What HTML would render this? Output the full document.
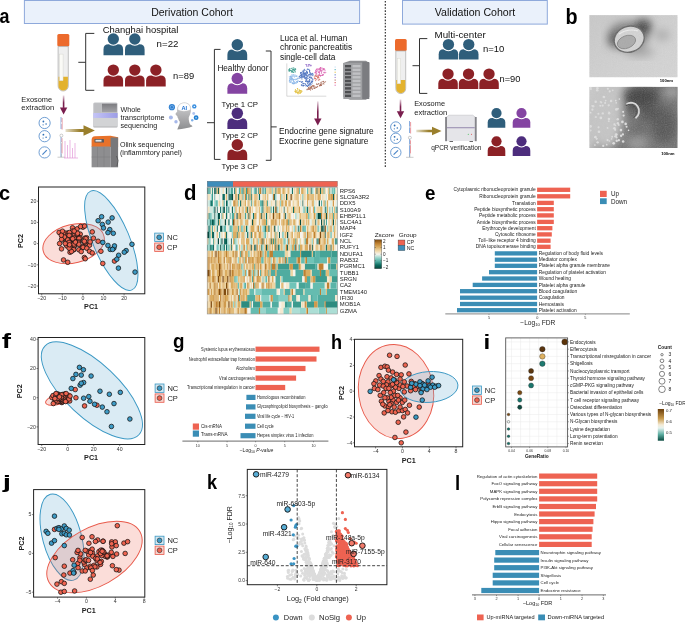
<!DOCTYPE html><html><head><meta charset="utf-8"><style>html,body{margin:0;padding:0;background:#fff;}svg{display:block;will-change:transform;}</style></head><body><svg width="685" height="623" viewBox="0 0 685 623" font-family='"Liberation Sans", sans-serif'>
<rect width="685" height="623" fill="#fff"/>
<text transform="translate(-0.54 23.2) scale(0.887 1)" font-size="20.2" font-weight="bold" fill="#000">a</text>
<rect x="24.4" y="0.5" width="335.2" height="23" fill="#EAF1FB" stroke="#8EA9DB" stroke-width="1"/>
<text x="192" y="15.7" font-size="10.5" text-anchor="middle" fill="#111">Derivation Cohort</text>
<rect x="402.5" y="0.5" width="144.8" height="23.6" fill="#EAF1FB" stroke="#8EA9DB" stroke-width="1"/>
<text x="475" y="16" font-size="10.6" text-anchor="middle" fill="#111">Validation Cohort</text>
<path d="M385.3 1 V168" stroke="#222" stroke-width="1.1" stroke-dasharray="1.6 1.5"/>
<rect x="57.3" y="34" width="12" height="12.54" rx="1.5" fill="#EC6A2C"/>
<path d="M58.1 46.54 V85.9 A5.1 5.1 0 0 0 68.3 85.9 V46.54 Z" fill="#EFEFEF" stroke="#A8A8A8" stroke-width="0.7"/>
<path d="M58.5 76.77 V85.9 A4.7 4.7 0 0 0 67.9 85.9 V76.77 Z" fill="#E3B22E"/>
<rect x="59.5" y="54.1" width="3.57" height="26.68" fill="#FAFAF6" stroke="#d0d0c8" stroke-width="0.4"/>
<path d="M94.3 33.4 H85.7 V90.3 H94.3 M85.7 62.3 H78.3" fill="none" stroke="#333" stroke-width="1"/>
<text x="102.8" y="33.4" font-size="9.45" fill="#111">Changhai hospital</text>
<path d="M103.5 55.3 V49.4 Q103.5 44.3 108.6 44.3 H118 Q123.1 44.3 123.1 49.4 V55.3 Z" fill="#2F5E7B"/>
<circle cx="113.3" cy="38.98" r="6.78" fill="#fff"/>
<circle cx="113.3" cy="38.98" r="5.68" fill="#2F5E7B"/>
<path d="M125 55.3 V49.4 Q125 44.3 130.1 44.3 H139.5 Q144.6 44.3 144.6 49.4 V55.3 Z" fill="#2F5E7B"/>
<circle cx="134.8" cy="38.98" r="6.78" fill="#fff"/>
<circle cx="134.8" cy="38.98" r="5.68" fill="#2F5E7B"/>
<text x="156.6" y="46.8" font-size="9.7" fill="#111">n=22</text>
<path d="M103.5 86.4 V80.5 Q103.5 75.4 108.6 75.4 H118 Q123.1 75.4 123.1 80.5 V86.4 Z" fill="#8C2126"/>
<circle cx="113.3" cy="70.08" r="6.78" fill="#fff"/>
<circle cx="113.3" cy="70.08" r="5.68" fill="#8C2126"/>
<path d="M125 86.4 V80.5 Q125 75.4 130.1 75.4 H139.5 Q144.6 75.4 144.6 80.5 V86.4 Z" fill="#8C2126"/>
<circle cx="134.8" cy="70.08" r="6.78" fill="#fff"/>
<circle cx="134.8" cy="70.08" r="5.68" fill="#8C2126"/>
<path d="M146.1 86.4 V80.5 Q146.1 75.4 151.2 75.4 H160.6 Q165.7 75.4 165.7 80.5 V86.4 Z" fill="#8C2126"/>
<circle cx="155.9" cy="70.08" r="6.78" fill="#fff"/>
<circle cx="155.9" cy="70.08" r="5.68" fill="#8C2126"/>
<text x="173" y="79.4" font-size="9.4" fill="#111">n=89</text>
<defs><linearGradient id="vg731" x1="0" y1="0" x2="0" y2="1"><stop offset="0" stop-color="#7A1E4E" stop-opacity="0.15"/><stop offset="0.6" stop-color="#7A1E4E"/></linearGradient></defs>
<rect x="62.8" y="95.4" width="1.6" height="12.5" fill="url(#vg731)"/>
<path d="M59.9 107.4 L67.3 107.4 L63.6 114.4 Z" fill="#7A1E4E"/>
<text x="21.3" y="102.3" font-size="7.4" fill="#222">Exosome</text>
<text x="21.3" y="110.4" font-size="7.6" fill="#222">extraction</text>
<circle cx="44.6" cy="123" r="5.6" fill="#fff" stroke="#4C86C8" stroke-width="0.8"/>
<circle cx="43.4" cy="121.5" r="0.9" fill="#2F6FB5"/><circle cx="46.1" cy="124" r="0.8" fill="#2F6FB5"/><circle cx="43.1" cy="124.8" r="0.6" fill="#2F6FB5"/>
<circle cx="44.6" cy="136.2" r="5.6" fill="#fff" stroke="#4C86C8" stroke-width="0.8"/>
<circle cx="43.4" cy="134.7" r="0.9" fill="#2F6FB5"/><circle cx="46.1" cy="137.2" r="0.8" fill="#2F6FB5"/><circle cx="43.1" cy="138" r="0.6" fill="#2F6FB5"/>
<circle cx="44.6" cy="152.4" r="5.6" fill="#fff" stroke="#4C86C8" stroke-width="0.8"/>
<path d="M42.4 154.6 L46.8 150.2" stroke="#4C86C8" stroke-width="1.2"/>
<path d="M61 117 V129" stroke="#6D9BD8" stroke-width="0.8"/><path d="M62.1 118 V129.5" stroke="#E07078" stroke-width="0.7"/><circle cx="61.5" cy="123" r="0.7" fill="#fff"/>
<path d="M61 136.8 V157" stroke="#6D9BD8" stroke-width="0.8"/><path d="M62 138.2 V153.4" stroke="#E07078" stroke-width="0.7"/><circle cx="61.4" cy="135.6" r="1.5" fill="#fff" stroke="#999" stroke-width="0.5"/><circle cx="61.5" cy="142.7" r="0.8" fill="#fff" stroke="#aaa" stroke-width="0.3"/><path d="M57.5 157.2 H65 M61.4 153.9 V157.2" stroke="#aaa" stroke-width="0.6"/>
<path d="M65 141 V158 M67.5 145 V158 M70 140 V158 M72.5 148 V158 M75 143 V158 M64 158 H78" stroke="#E39AD8" stroke-width="0.7" fill="none"/>
<defs><linearGradient id="hg785" x1="0" y1="0" x2="1" y2="0"><stop offset="0" stop-color="#9A7F2C" stop-opacity="0.25"/><stop offset="0.5" stop-color="#9A7F2C"/></linearGradient></defs>
<path d="M65.5 129.1 H83.5 V125.3 L94.9 130.5 L83.5 135.7 V131.9 H65.5 Z" fill="url(#hg785)"/>
<defs><linearGradient id="seqb" x1="0" x2="1" y1="0" y2="0"><stop offset="0" stop-color="#c4c4f6"/><stop offset="1" stop-color="#9d9de6"/></linearGradient><linearGradient id="seqs" x1="0" x2="0" y1="0" y2="1"><stop offset="0" stop-color="#7c7c80"/><stop offset="1" stop-color="#a4a4a8"/></linearGradient></defs>
<rect x="93.2" y="102.5" width="24.4" height="25" rx="1.5" fill="#C6C7CA"/>
<rect x="94.2" y="103.3" width="7" height="9.4" fill="#BDBEC1"/>
<rect x="101.9" y="103.7" width="15" height="8.6" fill="url(#seqs)"/>
<rect x="93.2" y="113" width="24.4" height="4.9" fill="url(#seqb)"/>
<rect x="93.2" y="118" width="24.4" height="9.3" rx="1" fill="#D2D3D5"/>
<path d="M93.6 126.8 H117.2" stroke="#aaa" stroke-width="0.5"/>
<path d="M91.6 147 V140 Q91.6 136.5 95 136.3 L110.5 135.8 L118.1 137.2 V147 Z" fill="#E8722A"/>
<rect x="94.5" y="139" width="9.5" height="3.6" rx="0.5" fill="#5a5a5c"/><rect x="95.5" y="139.8" width="6" height="1.8" fill="#e6e6e6"/>
<rect x="91.6" y="146.5" width="19" height="20.8" fill="#8E8E90"/>
<rect x="110.6" y="137.5" width="7.5" height="29.8" fill="#78787B"/>
<path d="M97.5 147 V167 M104 147 V167 M91.6 157 H110.6" stroke="#7a7a7c" stroke-width="0.5"/>
<path d="M116.5 156 Q119.5 160 117 166" fill="none" stroke="#444" stroke-width="0.6"/>
<text x="120.4" y="111.7" font-size="7.2" fill="#222">Whole</text>
<text x="120.4" y="120" font-size="7.3" fill="#222">transcriptome</text>
<text x="120.4" y="127.8" font-size="7.2" fill="#222">sequencing</text>
<text x="119.9" y="147.2" font-size="7.1" fill="#222">Olink sequencing</text>
<text x="119.9" y="154.8" font-size="7.25" fill="#222">(inflammtory panel)</text>
<defs><linearGradient id="headg" x1="0" y1="0" x2="0" y2="1"><stop offset="0" stop-color="#d2d2d4"/><stop offset="1" stop-color="#8d8e90"/></linearGradient></defs>
<path d="M177.3 129.5 C178.5 126 180 124 179.8 121.8 C179 120.5 178.4 119.6 178.2 118.4 C177.6 117.6 177.2 117 177.4 116.3 C176.8 115.6 175.6 114.6 175.4 113.9 C175.9 113 176.9 112.4 177.2 111.6 C176.8 108.5 177.8 104.8 180.6 103.4 C184.6 101.8 189 102.6 190.6 106.5 C191.6 109.6 190.8 113.8 188.8 117.2 C188.4 119.8 189.4 123 190.2 124.5 C191.4 125.4 192.6 125.8 192.4 126.6 C189 128 183 129.2 177.3 129.5 Z" fill="url(#headg)"/>
<path d="M177.7 109.6 C177.6 105.2 180.6 102.9 184.3 102.9 C188.3 102.9 190.7 105.4 190.6 109.6 C187 111.8 181 111.8 177.7 109.6 Z" fill="#fff" stroke="#c4c4c4" stroke-width="0.4"/>
<text x="184.3" y="109.6" font-size="5.6" font-weight="bold" text-anchor="middle" fill="#1E6FD0">AI</text>
<circle cx="171.9" cy="107.2" r="3.1" fill="#2E7FD0"/>
<circle cx="194.3" cy="106.4" r="2.2" fill="#3A8FE0"/>
<circle cx="170.9" cy="117.5" r="2.0" fill="#A6B8EA"/>
<circle cx="176.0" cy="121.8" r="1.7" fill="#A6B8EA"/>
<circle cx="196.1" cy="117.7" r="2.4" fill="#1F7FD0"/>
<circle cx="193.7" cy="113.5" r="1.4" fill="#B0C4EE"/>
<circle cx="192.2" cy="120.3" r="1.2" fill="#7FB0E8"/>
<circle cx="171.9" cy="107.2" r="1.7" fill="none" stroke="#9CC4F0" stroke-width="0.6"/><circle cx="194.3" cy="106.4" r="0.7" fill="#fff"/><circle cx="196.1" cy="117.7" r="0.9" fill="#9CC4F0"/>
<path d="M220.5 49.4 H214.4 V159.4 H220.5 M214.4 122.7 H207" fill="none" stroke="#333" stroke-width="1"/>
<path d="M227.4 60 V54.65 Q227.4 49.5 232.55 49.5 H242.05 Q247.2 49.5 247.2 54.65 V60 Z" fill="#2F5E7B"/>
<circle cx="237.3" cy="44.74" r="6.84" fill="#fff"/>
<circle cx="237.3" cy="44.74" r="5.74" fill="#2F5E7B"/>
<text x="217.4" y="70.8" font-size="8.2" fill="#111">Healthy donor</text>
<path d="M227.4 93.7 V88.35 Q227.4 83.2 232.55 83.2 H242.05 Q247.2 83.2 247.2 88.35 V93.7 Z" fill="#8444A2"/>
<circle cx="237.3" cy="78.44" r="6.84" fill="#fff"/>
<circle cx="237.3" cy="78.44" r="5.74" fill="#8444A2"/>
<text x="221.6" y="107.3" font-size="7.8" fill="#111">Type 1 CP</text>
<path d="M227.4 129.1 V123.5 Q227.4 118.35 232.55 118.35 H242.05 Q247.2 118.35 247.2 123.5 V129.1 Z" fill="#4D2D7D"/>
<circle cx="237.3" cy="113.34" r="6.84" fill="#fff"/>
<circle cx="237.3" cy="113.34" r="5.74" fill="#4D2D7D"/>
<text x="221.6" y="138.3" font-size="7.8" fill="#111">Type 2 CP</text>
<path d="M227.4 160 V154.65 Q227.4 149.5 232.55 149.5 H242.05 Q247.2 149.5 247.2 154.65 V160 Z" fill="#8C2126"/>
<circle cx="237.3" cy="144.74" r="6.84" fill="#fff"/>
<circle cx="237.3" cy="144.74" r="5.74" fill="#8C2126"/>
<text x="221.6" y="168.6" font-size="7.8" fill="#111">Type 3 CP</text>
<path d="M265.8 51 H271 V160.3 H265.8 M271 126.9 H276.7" fill="none" stroke="#333" stroke-width="1"/>
<text x="280" y="40.8" font-size="8.3" fill="#111">Luca et al. Human</text>
<text x="280" y="50.3" font-size="8.4" fill="#111">chronic pancreatitis</text>
<text x="280" y="59.9" font-size="8.3" fill="#111">single-cell data</text>
<path d="M286.8 63.4 V96.2 H326.3" fill="none" stroke="#aaa" stroke-width="0.45"/>
<g fill="#3E9E8E"><circle cx="291.33" cy="68.35" r="0.55"/><circle cx="293.88" cy="67.96" r="0.55"/><circle cx="292.98" cy="69.43" r="0.55"/><circle cx="289.25" cy="70.14" r="0.55"/><circle cx="289.09" cy="69.77" r="0.55"/><circle cx="292.11" cy="71.73" r="0.55"/><circle cx="289.77" cy="68.72" r="0.55"/><circle cx="293.69" cy="72.34" r="0.55"/><circle cx="293.3" cy="69.58" r="0.55"/><circle cx="295.5" cy="69.05" r="0.55"/><circle cx="291.21" cy="71.68" r="0.55"/><circle cx="290.21" cy="70.51" r="0.55"/><circle cx="293.78" cy="69.46" r="0.55"/><circle cx="293.07" cy="67.91" r="0.55"/><circle cx="294.11" cy="69.74" r="0.55"/><circle cx="291.25" cy="70.53" r="0.55"/><circle cx="292.33" cy="69.1" r="0.55"/><circle cx="295" cy="71.09" r="0.55"/><circle cx="290.7" cy="70.47" r="0.55"/><circle cx="292.9" cy="71.98" r="0.55"/><circle cx="294.49" cy="69.04" r="0.55"/><circle cx="292.06" cy="71.39" r="0.55"/><circle cx="289.99" cy="70.04" r="0.55"/><circle cx="289.11" cy="70.94" r="0.55"/><circle cx="294.76" cy="70.47" r="0.55"/><circle cx="295.63" cy="69.17" r="0.55"/><circle cx="294.22" cy="70.57" r="0.55"/><circle cx="293.32" cy="69.88" r="0.55"/><circle cx="292.5" cy="70.92" r="0.55"/><circle cx="289.27" cy="71.11" r="0.55"/><circle cx="295.21" cy="69.02" r="0.55"/><circle cx="291.81" cy="70.94" r="0.55"/><circle cx="288.98" cy="69.91" r="0.55"/><circle cx="289.81" cy="68.84" r="0.55"/><circle cx="291.85" cy="71.96" r="0.55"/><circle cx="289.43" cy="69.85" r="0.55"/><circle cx="293.09" cy="72.02" r="0.55"/><circle cx="295.19" cy="71.92" r="0.55"/></g>
<g fill="#8DB8E8"><circle cx="291.33" cy="78.49" r="0.55"/><circle cx="292.12" cy="82.99" r="0.55"/><circle cx="290.33" cy="76.73" r="0.55"/><circle cx="290.89" cy="79.16" r="0.55"/><circle cx="294.37" cy="77.02" r="0.55"/><circle cx="292.22" cy="79.94" r="0.55"/><circle cx="297.94" cy="81.13" r="0.55"/><circle cx="293.65" cy="80.43" r="0.55"/><circle cx="295.23" cy="75.02" r="0.55"/><circle cx="297.42" cy="81.99" r="0.55"/><circle cx="297.17" cy="82.16" r="0.55"/><circle cx="292.45" cy="78.33" r="0.55"/><circle cx="289.61" cy="80.59" r="0.55"/><circle cx="290.65" cy="76.06" r="0.55"/><circle cx="291.93" cy="75" r="0.55"/><circle cx="289.59" cy="77.99" r="0.55"/><circle cx="294.62" cy="75.93" r="0.55"/><circle cx="291.07" cy="77.83" r="0.55"/><circle cx="292.17" cy="75.68" r="0.55"/><circle cx="293.17" cy="79.14" r="0.55"/><circle cx="291.96" cy="77.04" r="0.55"/><circle cx="296.72" cy="76.05" r="0.55"/><circle cx="293.78" cy="75.91" r="0.55"/><circle cx="293.92" cy="74.76" r="0.55"/><circle cx="293.78" cy="83.89" r="0.55"/><circle cx="297.06" cy="81.18" r="0.55"/><circle cx="291.16" cy="78.02" r="0.55"/><circle cx="290.24" cy="81.91" r="0.55"/><circle cx="293.82" cy="81.98" r="0.55"/><circle cx="291.83" cy="76.64" r="0.55"/><circle cx="296.96" cy="82.24" r="0.55"/><circle cx="296.62" cy="81.6" r="0.55"/><circle cx="290.82" cy="79.47" r="0.55"/><circle cx="292.08" cy="74.78" r="0.55"/><circle cx="291.14" cy="81.15" r="0.55"/><circle cx="297.97" cy="78.79" r="0.55"/><circle cx="297.96" cy="78" r="0.55"/><circle cx="290.76" cy="76.68" r="0.55"/><circle cx="290.53" cy="76.46" r="0.55"/><circle cx="294.72" cy="83.14" r="0.55"/><circle cx="296.84" cy="79.1" r="0.55"/><circle cx="295" cy="82.18" r="0.55"/><circle cx="289.43" cy="80.84" r="0.55"/><circle cx="297.52" cy="82.01" r="0.55"/><circle cx="295.95" cy="79.09" r="0.55"/><circle cx="290.35" cy="82.08" r="0.55"/><circle cx="291.86" cy="82.19" r="0.55"/><circle cx="298.12" cy="78.3" r="0.55"/><circle cx="292.53" cy="83.59" r="0.55"/><circle cx="295.7" cy="76.13" r="0.55"/><circle cx="290.03" cy="82.43" r="0.55"/><circle cx="292.03" cy="79.77" r="0.55"/><circle cx="298.11" cy="80.74" r="0.55"/><circle cx="293.76" cy="83.46" r="0.55"/><circle cx="292.85" cy="82.87" r="0.55"/><circle cx="296.7" cy="76.53" r="0.55"/><circle cx="291.07" cy="77.31" r="0.55"/><circle cx="290.96" cy="80.13" r="0.55"/><circle cx="291.14" cy="78.52" r="0.55"/><circle cx="292.07" cy="78.9" r="0.55"/><circle cx="294.32" cy="83.18" r="0.55"/><circle cx="292.72" cy="83.31" r="0.55"/><circle cx="293.52" cy="79.61" r="0.55"/><circle cx="293.73" cy="74.68" r="0.55"/><circle cx="292.91" cy="76.26" r="0.55"/><circle cx="290.29" cy="79.05" r="0.55"/><circle cx="295.71" cy="79.84" r="0.55"/><circle cx="291.79" cy="79.48" r="0.55"/><circle cx="294.04" cy="82.03" r="0.55"/><circle cx="289.64" cy="79.88" r="0.55"/><circle cx="291.04" cy="77.16" r="0.55"/><circle cx="296.17" cy="79.37" r="0.55"/><circle cx="294.1" cy="81.8" r="0.55"/><circle cx="297.54" cy="78.76" r="0.55"/><circle cx="294.6" cy="79.35" r="0.55"/><circle cx="293.62" cy="81.15" r="0.55"/><circle cx="293.03" cy="79.62" r="0.55"/><circle cx="293.28" cy="83.54" r="0.55"/><circle cx="295.45" cy="82.91" r="0.55"/><circle cx="294.08" cy="83.56" r="0.55"/><circle cx="296.83" cy="75.82" r="0.55"/><circle cx="289.79" cy="78.74" r="0.55"/><circle cx="289.31" cy="76.81" r="0.55"/><circle cx="289.32" cy="80.93" r="0.55"/><circle cx="296.28" cy="83.11" r="0.55"/></g>
<g fill="#4F74C0"><circle cx="300.75" cy="81.24" r="0.55"/><circle cx="309.53" cy="71.82" r="0.55"/><circle cx="304.86" cy="77.56" r="0.55"/><circle cx="301.58" cy="76.06" r="0.55"/><circle cx="306.94" cy="75.1" r="0.55"/><circle cx="302.37" cy="74.08" r="0.55"/><circle cx="307.23" cy="77.02" r="0.55"/><circle cx="308.06" cy="78.48" r="0.55"/><circle cx="301.19" cy="72.93" r="0.55"/><circle cx="303.93" cy="70.78" r="0.55"/><circle cx="304.12" cy="85.34" r="0.55"/><circle cx="311.53" cy="74.25" r="0.55"/><circle cx="306.81" cy="81.8" r="0.55"/><circle cx="309.21" cy="77.02" r="0.55"/><circle cx="307.47" cy="83.77" r="0.55"/><circle cx="306.04" cy="74.98" r="0.55"/><circle cx="305.97" cy="85.88" r="0.55"/><circle cx="303.89" cy="70.77" r="0.55"/><circle cx="307.36" cy="73.29" r="0.55"/><circle cx="304.08" cy="74.06" r="0.55"/><circle cx="310.59" cy="74.7" r="0.55"/><circle cx="307.13" cy="72.13" r="0.55"/><circle cx="309.54" cy="79.4" r="0.55"/><circle cx="301.87" cy="76.91" r="0.55"/><circle cx="311.08" cy="77.41" r="0.55"/><circle cx="305.37" cy="84.09" r="0.55"/><circle cx="304.74" cy="77.9" r="0.55"/><circle cx="303.17" cy="83.73" r="0.55"/><circle cx="308.94" cy="80.9" r="0.55"/><circle cx="305.31" cy="75.03" r="0.55"/><circle cx="299.48" cy="81.52" r="0.55"/><circle cx="303.63" cy="71.37" r="0.55"/><circle cx="311.22" cy="81.86" r="0.55"/><circle cx="303.81" cy="72.86" r="0.55"/><circle cx="303.41" cy="76.84" r="0.55"/><circle cx="301.49" cy="76.32" r="0.55"/><circle cx="313.01" cy="79.82" r="0.55"/><circle cx="303.91" cy="75" r="0.55"/><circle cx="305.93" cy="78" r="0.55"/><circle cx="301.96" cy="77.48" r="0.55"/><circle cx="300.63" cy="75.34" r="0.55"/><circle cx="304.15" cy="72.73" r="0.55"/><circle cx="307.46" cy="78.71" r="0.55"/><circle cx="309.52" cy="81.38" r="0.55"/><circle cx="308.45" cy="85.35" r="0.55"/><circle cx="305.15" cy="74.61" r="0.55"/><circle cx="309.17" cy="81.07" r="0.55"/><circle cx="311.64" cy="81.12" r="0.55"/><circle cx="308.88" cy="84.16" r="0.55"/><circle cx="301.02" cy="77.7" r="0.55"/><circle cx="305.51" cy="84.11" r="0.55"/><circle cx="309.87" cy="84.57" r="0.55"/><circle cx="306.51" cy="85.33" r="0.55"/><circle cx="308.45" cy="81.89" r="0.55"/><circle cx="301.35" cy="74.72" r="0.55"/><circle cx="306.82" cy="80.45" r="0.55"/><circle cx="307.66" cy="81.55" r="0.55"/><circle cx="307.42" cy="68.93" r="0.55"/><circle cx="309.97" cy="83.13" r="0.55"/><circle cx="306.25" cy="78.65" r="0.55"/><circle cx="309.71" cy="70.42" r="0.55"/><circle cx="310.36" cy="73.97" r="0.55"/><circle cx="300.75" cy="72.86" r="0.55"/><circle cx="310.37" cy="73.09" r="0.55"/><circle cx="306.51" cy="75.85" r="0.55"/><circle cx="305.53" cy="81.3" r="0.55"/><circle cx="309.86" cy="80.67" r="0.55"/><circle cx="309.45" cy="70.59" r="0.55"/><circle cx="301.83" cy="72.8" r="0.55"/><circle cx="310.32" cy="74.93" r="0.55"/><circle cx="308.53" cy="69.25" r="0.55"/><circle cx="300.54" cy="72.89" r="0.55"/><circle cx="308.29" cy="81.85" r="0.55"/><circle cx="309.38" cy="74.55" r="0.55"/><circle cx="306.63" cy="77.39" r="0.55"/><circle cx="306.79" cy="70.98" r="0.55"/><circle cx="312.76" cy="73.32" r="0.55"/><circle cx="299.43" cy="76.27" r="0.55"/><circle cx="306.16" cy="73.68" r="0.55"/><circle cx="301.91" cy="78.9" r="0.55"/><circle cx="301.06" cy="77.71" r="0.55"/><circle cx="310.91" cy="78.81" r="0.55"/><circle cx="311.37" cy="82.49" r="0.55"/><circle cx="301.4" cy="84.7" r="0.55"/><circle cx="307.32" cy="69.31" r="0.55"/><circle cx="299.14" cy="76.84" r="0.55"/><circle cx="306.1" cy="74.29" r="0.55"/><circle cx="301.5" cy="74.43" r="0.55"/><circle cx="302.77" cy="83.83" r="0.55"/><circle cx="311.92" cy="82.75" r="0.55"/><circle cx="312.64" cy="74.99" r="0.55"/><circle cx="304.73" cy="75.79" r="0.55"/><circle cx="304.47" cy="76.41" r="0.55"/><circle cx="302.09" cy="85.5" r="0.55"/><circle cx="303.28" cy="73.22" r="0.55"/><circle cx="307.25" cy="72.37" r="0.55"/><circle cx="303.3" cy="86.05" r="0.55"/><circle cx="311.06" cy="84.47" r="0.55"/><circle cx="307.13" cy="85.8" r="0.55"/><circle cx="312.55" cy="79.79" r="0.55"/><circle cx="309.79" cy="77.58" r="0.55"/><circle cx="309.58" cy="81.15" r="0.55"/><circle cx="304.36" cy="69.35" r="0.55"/><circle cx="306.3" cy="75.09" r="0.55"/><circle cx="302.76" cy="81.94" r="0.55"/><circle cx="309.07" cy="74.69" r="0.55"/><circle cx="307.4" cy="76.19" r="0.55"/><circle cx="302.36" cy="71.16" r="0.55"/><circle cx="306.97" cy="72.89" r="0.55"/><circle cx="306.5" cy="71.33" r="0.55"/><circle cx="305.06" cy="70.23" r="0.55"/><circle cx="303.15" cy="73.07" r="0.55"/><circle cx="306.31" cy="85.2" r="0.55"/><circle cx="310.13" cy="76.92" r="0.55"/><circle cx="304.99" cy="78.27" r="0.55"/><circle cx="304.93" cy="74.8" r="0.55"/><circle cx="300.54" cy="73.06" r="0.55"/><circle cx="306.02" cy="80.37" r="0.55"/><circle cx="312.27" cy="73.56" r="0.55"/><circle cx="303.63" cy="72.95" r="0.55"/><circle cx="304.99" cy="76.81" r="0.55"/><circle cx="312.09" cy="78.32" r="0.55"/><circle cx="303.64" cy="85.56" r="0.55"/><circle cx="310.1" cy="85.14" r="0.55"/><circle cx="306.16" cy="81.36" r="0.55"/><circle cx="312.12" cy="82.94" r="0.55"/><circle cx="307.75" cy="83.12" r="0.55"/><circle cx="305.55" cy="78.85" r="0.55"/><circle cx="301.36" cy="85.11" r="0.55"/><circle cx="308.91" cy="74.72" r="0.55"/><circle cx="301.56" cy="72.72" r="0.55"/><circle cx="307.76" cy="81.9" r="0.55"/><circle cx="306.44" cy="79.56" r="0.55"/><circle cx="305.39" cy="72.74" r="0.55"/><circle cx="309.01" cy="69.29" r="0.55"/><circle cx="303.53" cy="76.88" r="0.55"/><circle cx="312.57" cy="81.57" r="0.55"/><circle cx="311.91" cy="78.33" r="0.55"/><circle cx="303.11" cy="72.85" r="0.55"/><circle cx="305.83" cy="81.18" r="0.55"/><circle cx="305.77" cy="73.41" r="0.55"/><circle cx="307.63" cy="86.09" r="0.55"/><circle cx="304.16" cy="76.22" r="0.55"/><circle cx="309.71" cy="72.87" r="0.55"/><circle cx="309.98" cy="82.96" r="0.55"/><circle cx="307.13" cy="72.64" r="0.55"/><circle cx="311.62" cy="73.75" r="0.55"/><circle cx="301.61" cy="82.18" r="0.55"/><circle cx="302.18" cy="85.82" r="0.55"/><circle cx="307.04" cy="72.29" r="0.55"/><circle cx="302.51" cy="75.93" r="0.55"/><circle cx="307.54" cy="86.51" r="0.55"/><circle cx="301.46" cy="75.34" r="0.55"/><circle cx="300.21" cy="75.16" r="0.55"/><circle cx="312.98" cy="75.77" r="0.55"/><circle cx="308.99" cy="76.12" r="0.55"/><circle cx="304.91" cy="74.68" r="0.55"/><circle cx="303.5" cy="74.85" r="0.55"/><circle cx="303.4" cy="83.57" r="0.55"/><circle cx="311.13" cy="77.42" r="0.55"/><circle cx="299.85" cy="76.6" r="0.55"/><circle cx="303.39" cy="85.39" r="0.55"/><circle cx="302.21" cy="74.9" r="0.55"/><circle cx="304.21" cy="83.5" r="0.55"/><circle cx="313" cy="74.43" r="0.55"/><circle cx="308.85" cy="85.76" r="0.55"/><circle cx="304.56" cy="73.52" r="0.55"/><circle cx="312.62" cy="81.06" r="0.55"/><circle cx="302.31" cy="81.46" r="0.55"/><circle cx="304.22" cy="73.54" r="0.55"/><circle cx="311.98" cy="81.29" r="0.55"/><circle cx="302.52" cy="77.01" r="0.55"/><circle cx="305.3" cy="73.23" r="0.55"/><circle cx="305.3" cy="77.74" r="0.55"/><circle cx="310.06" cy="82.96" r="0.55"/><circle cx="310.27" cy="83.63" r="0.55"/><circle cx="308.29" cy="75.08" r="0.55"/><circle cx="304.04" cy="75.12" r="0.55"/><circle cx="301.28" cy="81.99" r="0.55"/><circle cx="299.43" cy="78.01" r="0.55"/><circle cx="303.97" cy="69.94" r="0.55"/><circle cx="300.47" cy="77.15" r="0.55"/><circle cx="309.47" cy="77.46" r="0.55"/><circle cx="302.67" cy="75.94" r="0.55"/><circle cx="307.59" cy="81.42" r="0.55"/><circle cx="309" cy="84.83" r="0.55"/><circle cx="309.65" cy="71.43" r="0.55"/><circle cx="311.76" cy="74.94" r="0.55"/><circle cx="307.59" cy="75.82" r="0.55"/><circle cx="310.51" cy="73" r="0.55"/></g>
<g fill="#A07ED0"><circle cx="306.78" cy="64.69" r="0.55"/><circle cx="308.77" cy="64.91" r="0.55"/><circle cx="308.34" cy="64.65" r="0.55"/><circle cx="310.15" cy="65.83" r="0.55"/><circle cx="308.15" cy="66.29" r="0.55"/><circle cx="306.02" cy="64.53" r="0.55"/><circle cx="311.14" cy="65.63" r="0.55"/><circle cx="310.88" cy="65.04" r="0.55"/><circle cx="310.5" cy="65.26" r="0.55"/><circle cx="306.86" cy="66.18" r="0.55"/><circle cx="308.88" cy="65.74" r="0.55"/><circle cx="306.61" cy="65.03" r="0.55"/><circle cx="306.15" cy="64.57" r="0.55"/><circle cx="306.83" cy="65.68" r="0.55"/><circle cx="309.21" cy="64.57" r="0.55"/><circle cx="309.37" cy="64.52" r="0.55"/></g>
<g fill="#DC6AB4"><circle cx="318.33" cy="69.13" r="0.55"/><circle cx="323.65" cy="72.23" r="0.55"/><circle cx="319.25" cy="72.25" r="0.55"/><circle cx="321.93" cy="68.12" r="0.55"/><circle cx="316.7" cy="73.56" r="0.55"/><circle cx="319.41" cy="69.85" r="0.55"/><circle cx="318.28" cy="75.88" r="0.55"/><circle cx="318.34" cy="72.4" r="0.55"/><circle cx="318.83" cy="71.05" r="0.55"/><circle cx="318.9" cy="69.07" r="0.55"/><circle cx="322.91" cy="69.13" r="0.55"/><circle cx="319.56" cy="74.68" r="0.55"/><circle cx="319.37" cy="75.25" r="0.55"/><circle cx="319.97" cy="68.76" r="0.55"/><circle cx="315.06" cy="72.26" r="0.55"/><circle cx="321.95" cy="75.49" r="0.55"/><circle cx="315.88" cy="72.9" r="0.55"/><circle cx="318.98" cy="71.84" r="0.55"/><circle cx="316.5" cy="69.85" r="0.55"/><circle cx="320.63" cy="75.63" r="0.55"/><circle cx="316.1" cy="71.71" r="0.55"/><circle cx="317.07" cy="68.44" r="0.55"/><circle cx="320.21" cy="67.78" r="0.55"/><circle cx="325.09" cy="70.79" r="0.55"/><circle cx="324.85" cy="72.88" r="0.55"/><circle cx="323.97" cy="68.74" r="0.55"/><circle cx="323.54" cy="69.3" r="0.55"/><circle cx="319.35" cy="74.92" r="0.55"/><circle cx="324.02" cy="68.95" r="0.55"/><circle cx="317.3" cy="70.9" r="0.55"/><circle cx="320.6" cy="70.75" r="0.55"/><circle cx="316.25" cy="69.52" r="0.55"/><circle cx="322.87" cy="75.38" r="0.55"/><circle cx="315.35" cy="72.36" r="0.55"/><circle cx="321.49" cy="72.25" r="0.55"/><circle cx="321.8" cy="70.06" r="0.55"/><circle cx="319.52" cy="72.54" r="0.55"/><circle cx="319.58" cy="73.23" r="0.55"/><circle cx="319.81" cy="71.25" r="0.55"/><circle cx="315.16" cy="72.87" r="0.55"/><circle cx="320.28" cy="69.42" r="0.55"/><circle cx="323.3" cy="74.32" r="0.55"/><circle cx="319.94" cy="68.92" r="0.55"/><circle cx="320.11" cy="68.26" r="0.55"/><circle cx="316.31" cy="71.18" r="0.55"/><circle cx="315.91" cy="71.28" r="0.55"/><circle cx="320.51" cy="67.67" r="0.55"/><circle cx="321.9" cy="68.04" r="0.55"/><circle cx="322.97" cy="74.3" r="0.55"/><circle cx="320.53" cy="67.79" r="0.55"/><circle cx="320.44" cy="70.7" r="0.55"/><circle cx="322.95" cy="74.63" r="0.55"/><circle cx="320.31" cy="75.91" r="0.55"/><circle cx="315.62" cy="70.46" r="0.55"/><circle cx="323.22" cy="68.73" r="0.55"/><circle cx="324.76" cy="69.77" r="0.55"/><circle cx="323.87" cy="68.59" r="0.55"/><circle cx="320.42" cy="75.58" r="0.55"/><circle cx="317.19" cy="69.67" r="0.55"/><circle cx="320.47" cy="70.17" r="0.55"/><circle cx="322.38" cy="75.36" r="0.55"/><circle cx="316.76" cy="74.36" r="0.55"/><circle cx="316.17" cy="72.08" r="0.55"/><circle cx="321.9" cy="70.54" r="0.55"/><circle cx="324.5" cy="72.3" r="0.55"/><circle cx="321.28" cy="75.24" r="0.55"/><circle cx="321.83" cy="70.85" r="0.55"/><circle cx="323.67" cy="69.68" r="0.55"/><circle cx="325.8" cy="72.5" r="0.55"/><circle cx="318.86" cy="74.18" r="0.55"/><circle cx="319.77" cy="68.89" r="0.55"/><circle cx="323.92" cy="69.58" r="0.55"/><circle cx="321.34" cy="73.27" r="0.55"/><circle cx="321.68" cy="71.19" r="0.55"/><circle cx="320.54" cy="75.36" r="0.55"/></g>
<g fill="#D8786E"><circle cx="314.99" cy="75.89" r="0.55"/><circle cx="314.84" cy="76.8" r="0.55"/><circle cx="315.55" cy="78.39" r="0.55"/><circle cx="317.73" cy="75.73" r="0.55"/><circle cx="317.94" cy="77.62" r="0.55"/><circle cx="315.66" cy="75.35" r="0.55"/><circle cx="314.77" cy="78.77" r="0.55"/><circle cx="319.43" cy="79.78" r="0.55"/><circle cx="316.61" cy="76.15" r="0.55"/><circle cx="317.57" cy="76.75" r="0.55"/><circle cx="318.07" cy="77.41" r="0.55"/><circle cx="319.82" cy="79.43" r="0.55"/><circle cx="315.69" cy="80.62" r="0.55"/><circle cx="314.46" cy="78.02" r="0.55"/><circle cx="316.64" cy="75.96" r="0.55"/><circle cx="314.27" cy="78.16" r="0.55"/><circle cx="315.4" cy="78.56" r="0.55"/><circle cx="317.24" cy="78.79" r="0.55"/><circle cx="319.08" cy="75.52" r="0.55"/><circle cx="316.06" cy="76.4" r="0.55"/><circle cx="318.9" cy="79.31" r="0.55"/><circle cx="318.67" cy="77.56" r="0.55"/><circle cx="318.65" cy="77.47" r="0.55"/><circle cx="315.56" cy="75.04" r="0.55"/><circle cx="316.21" cy="79.55" r="0.55"/><circle cx="318.37" cy="80.22" r="0.55"/><circle cx="318.47" cy="76.16" r="0.55"/><circle cx="317.52" cy="77.35" r="0.55"/><circle cx="318.93" cy="77.96" r="0.55"/><circle cx="315.79" cy="78.79" r="0.55"/></g>
<g fill="#A86A58"><circle cx="311.49" cy="86.45" r="0.55"/><circle cx="321.05" cy="82.85" r="0.55"/><circle cx="323.64" cy="81.75" r="0.55"/><circle cx="312.29" cy="89.47" r="0.55"/><circle cx="319.47" cy="85.34" r="0.55"/><circle cx="316.62" cy="87.29" r="0.55"/><circle cx="321.06" cy="85.49" r="0.55"/><circle cx="315.79" cy="87.07" r="0.55"/><circle cx="317.61" cy="84.21" r="0.55"/><circle cx="311.25" cy="88.48" r="0.55"/><circle cx="312.96" cy="85.36" r="0.55"/><circle cx="320.56" cy="84.59" r="0.55"/><circle cx="320.83" cy="84.99" r="0.55"/><circle cx="308.37" cy="89.55" r="0.55"/><circle cx="314.53" cy="88.07" r="0.55"/><circle cx="308.48" cy="87.58" r="0.55"/><circle cx="323.88" cy="84.07" r="0.55"/><circle cx="319.78" cy="85.88" r="0.55"/><circle cx="318.76" cy="83.62" r="0.55"/><circle cx="321.04" cy="82.24" r="0.55"/><circle cx="312.97" cy="86.76" r="0.55"/><circle cx="312.79" cy="88.3" r="0.55"/><circle cx="313.73" cy="85.92" r="0.55"/><circle cx="325.58" cy="81.81" r="0.55"/><circle cx="323.6" cy="83.22" r="0.55"/><circle cx="307.38" cy="89.08" r="0.55"/><circle cx="315.86" cy="87.28" r="0.55"/><circle cx="314.01" cy="87.72" r="0.55"/><circle cx="316.82" cy="84.09" r="0.55"/><circle cx="322.19" cy="81.58" r="0.55"/><circle cx="307" cy="89.63" r="0.55"/><circle cx="316.97" cy="86.93" r="0.55"/><circle cx="310.49" cy="88.17" r="0.55"/><circle cx="314.24" cy="88.26" r="0.55"/><circle cx="311.91" cy="86.17" r="0.55"/><circle cx="320.45" cy="83.96" r="0.55"/><circle cx="309.3" cy="89.38" r="0.55"/><circle cx="320.93" cy="85.2" r="0.55"/><circle cx="318.81" cy="83.94" r="0.55"/><circle cx="314.5" cy="85.96" r="0.55"/><circle cx="310.49" cy="87.01" r="0.55"/><circle cx="324.36" cy="82.31" r="0.55"/><circle cx="314.96" cy="88.22" r="0.55"/><circle cx="311.38" cy="87.62" r="0.55"/><circle cx="317.67" cy="86.42" r="0.55"/><circle cx="321.75" cy="84.14" r="0.55"/><circle cx="313.36" cy="86.11" r="0.55"/><circle cx="310.55" cy="89.88" r="0.55"/><circle cx="320.17" cy="85.29" r="0.55"/><circle cx="310.1" cy="88.05" r="0.55"/><circle cx="322.03" cy="83.69" r="0.55"/><circle cx="309.3" cy="88.51" r="0.55"/><circle cx="323.57" cy="81.33" r="0.55"/><circle cx="310.28" cy="87.29" r="0.55"/><circle cx="321.15" cy="85.39" r="0.55"/><circle cx="309.3" cy="86.98" r="0.55"/><circle cx="311.41" cy="86.94" r="0.55"/><circle cx="316.42" cy="83.98" r="0.55"/><circle cx="312.72" cy="85.69" r="0.55"/><circle cx="308.69" cy="88.38" r="0.55"/></g>
<g fill="#E2C040"><circle cx="300.32" cy="90.74" r="0.55"/><circle cx="296.13" cy="91.87" r="0.55"/><circle cx="295.43" cy="89.46" r="0.55"/><circle cx="297.63" cy="88.49" r="0.55"/><circle cx="297.71" cy="92.73" r="0.55"/><circle cx="300.01" cy="91.1" r="0.55"/><circle cx="299.53" cy="90.89" r="0.55"/><circle cx="295.71" cy="91.68" r="0.55"/><circle cx="297.76" cy="92.45" r="0.55"/><circle cx="301.68" cy="90.71" r="0.55"/><circle cx="299.08" cy="92.49" r="0.55"/><circle cx="297.89" cy="89.58" r="0.55"/><circle cx="300.23" cy="93.23" r="0.55"/><circle cx="300.64" cy="92.22" r="0.55"/><circle cx="301.25" cy="92.11" r="0.55"/><circle cx="299.6" cy="90.84" r="0.55"/><circle cx="297.04" cy="91.82" r="0.55"/><circle cx="295.36" cy="90.65" r="0.55"/><circle cx="300.7" cy="92.29" r="0.55"/><circle cx="299.51" cy="89.7" r="0.55"/><circle cx="297.9" cy="90.85" r="0.55"/><circle cx="299.45" cy="90.59" r="0.55"/><circle cx="299.87" cy="93.51" r="0.55"/><circle cx="296.03" cy="91.97" r="0.55"/><circle cx="300.67" cy="90.48" r="0.55"/><circle cx="298.42" cy="93.76" r="0.55"/><circle cx="294.9" cy="91.34" r="0.55"/><circle cx="295.85" cy="92.68" r="0.55"/><circle cx="301.94" cy="91.21" r="0.55"/><circle cx="295.39" cy="91.52" r="0.55"/><circle cx="298.82" cy="92.32" r="0.55"/><circle cx="298.6" cy="91.88" r="0.55"/><circle cx="301.07" cy="91.22" r="0.55"/><circle cx="297.8" cy="93.61" r="0.55"/><circle cx="296.24" cy="92.13" r="0.55"/><circle cx="297.66" cy="92.57" r="0.55"/><circle cx="297.37" cy="88.62" r="0.55"/><circle cx="296.74" cy="90.54" r="0.55"/></g>
<rect x="334.6" y="66.5" width="1.1" height="1.1" fill="#BFDDF2"/>
<rect x="334.6" y="69.1" width="1.1" height="1.1" fill="#40A8B8"/>
<rect x="334.6" y="71.7" width="1.1" height="1.1" fill="#E2C040"/>
<rect x="334.6" y="74.3" width="1.1" height="1.1" fill="#4F74C0"/>
<rect x="334.6" y="76.9" width="1.1" height="1.1" fill="#A07ED0"/>
<rect x="334.6" y="79.5" width="1.1" height="1.1" fill="#A86A58"/>
<rect x="334.6" y="82.1" width="1.1" height="1.1" fill="#E05050"/>
<rect x="334.6" y="84.7" width="1.1" height="1.1" fill="#DC6AB4"/>
<path d="M343.3 63 L350 60.7 H366 L369.4 63 V97 L366 99.7 H350 L343.3 97 Z" fill="#8E8F92"/>
<rect x="343.3" y="63" width="19" height="36" fill="#9FA0A3"/>
<rect x="362.3" y="62" width="7" height="37" fill="#7B7C80"/>
<rect x="345" y="65" width="6" height="2.4" fill="#4E4F52"/><rect x="352.5" y="65" width="8" height="2.4" fill="#C0C1C4"/>
<rect x="345" y="68.7" width="6" height="2.4" fill="#4E4F52"/><rect x="352.5" y="68.7" width="8" height="2.4" fill="#C0C1C4"/>
<rect x="345" y="72.4" width="6" height="2.4" fill="#4E4F52"/><rect x="352.5" y="72.4" width="8" height="2.4" fill="#C0C1C4"/>
<rect x="345" y="76.1" width="6" height="2.4" fill="#4E4F52"/><rect x="352.5" y="76.1" width="8" height="2.4" fill="#C0C1C4"/>
<rect x="345" y="79.8" width="6" height="2.4" fill="#4E4F52"/><rect x="352.5" y="79.8" width="8" height="2.4" fill="#C0C1C4"/>
<rect x="345" y="83.5" width="6" height="2.4" fill="#4E4F52"/><rect x="352.5" y="83.5" width="8" height="2.4" fill="#C0C1C4"/>
<rect x="345" y="87.2" width="6" height="2.4" fill="#4E4F52"/><rect x="352.5" y="87.2" width="8" height="2.4" fill="#C0C1C4"/>
<rect x="345" y="90.9" width="6" height="2.4" fill="#4E4F52"/><rect x="352.5" y="90.9" width="8" height="2.4" fill="#C0C1C4"/>
<rect x="345" y="94.6" width="6" height="2.4" fill="#4E4F52"/><rect x="352.5" y="94.6" width="8" height="2.4" fill="#C0C1C4"/>
<defs><linearGradient id="vg3279" x1="0" y1="0" x2="0" y2="1"><stop offset="0" stop-color="#7A1E4E" stop-opacity="0.15"/><stop offset="0.6" stop-color="#7A1E4E"/></linearGradient></defs>
<rect x="317" y="101.3" width="1.6" height="17.6" fill="url(#vg3279)"/>
<path d="M314.1 118.4 L321.5 118.4 L317.8 125.4 Z" fill="#7A1E4E"/>
<text x="279" y="134.2" font-size="8.3" fill="#111">Endocrine gene signature</text>
<text x="279" y="143.8" font-size="8.3" fill="#111">Exocrine gene signature</text>
<rect x="395" y="38.9" width="11.7" height="12.03" rx="1.5" fill="#EC6A2C"/>
<path d="M395.8 50.93 V88.65 A4.95 4.95 0 0 0 405.7 88.65 V50.93 Z" fill="#EFEFEF" stroke="#A8A8A8" stroke-width="0.7"/>
<path d="M396.2 79.95 V88.65 A4.55 4.55 0 0 0 405.3 88.65 V79.95 Z" fill="#E3B22E"/>
<rect x="397.2" y="58.19" width="3.46" height="25.6" fill="#FAFAF6" stroke="#d0d0c8" stroke-width="0.4"/>
<path d="M427.3 38.6 H419.5 V93.4 H427.3 M419.5 65.7 H412.5" fill="none" stroke="#333" stroke-width="1"/>
<text x="434.5" y="37.6" font-size="9.8" fill="#111">Multi-center</text>
<path d="M438.7 59.6 V54.32 Q438.7 49.25 443.77 49.25 H453.13 Q458.2 49.25 458.2 54.32 V59.6 Z" fill="#2F5E7B"/>
<circle cx="448.45" cy="44.55" r="6.75" fill="#fff"/>
<circle cx="448.45" cy="44.55" r="5.65" fill="#2F5E7B"/>
<path d="M459 59.6 V54.32 Q459 49.25 464.07 49.25 H473.43 Q478.5 49.25 478.5 54.32 V59.6 Z" fill="#2F5E7B"/>
<circle cx="468.75" cy="44.55" r="6.75" fill="#fff"/>
<circle cx="468.75" cy="44.55" r="5.65" fill="#2F5E7B"/>
<text x="483" y="52.1" font-size="9.5" fill="#111">n=10</text>
<path d="M438.3 88.9 V83.72 Q438.3 78.65 443.37 78.65 H452.73 Q457.8 78.65 457.8 83.72 V88.9 Z" fill="#8C2126"/>
<circle cx="448.05" cy="74.06" r="6.75" fill="#fff"/>
<circle cx="448.05" cy="74.06" r="5.65" fill="#8C2126"/>
<path d="M458.8 88.9 V83.72 Q458.8 78.65 463.87 78.65 H473.23 Q478.3 78.65 478.3 83.72 V88.9 Z" fill="#8C2126"/>
<circle cx="468.55" cy="74.06" r="6.75" fill="#fff"/>
<circle cx="468.55" cy="74.06" r="5.65" fill="#8C2126"/>
<path d="M479.3 88.9 V83.72 Q479.3 78.65 484.37 78.65 H493.73 Q498.8 78.65 498.8 83.72 V88.9 Z" fill="#8C2126"/>
<circle cx="489.05" cy="74.06" r="6.75" fill="#fff"/>
<circle cx="489.05" cy="74.06" r="5.65" fill="#8C2126"/>
<text x="499.5" y="82.3" font-size="9.3" fill="#111">n=90</text>
<defs><linearGradient id="vg4104" x1="0" y1="0" x2="0" y2="1"><stop offset="0" stop-color="#7A1E4E" stop-opacity="0.15"/><stop offset="0.6" stop-color="#7A1E4E"/></linearGradient></defs>
<rect x="399.7" y="99.4" width="1.6" height="12.4" fill="url(#vg4104)"/>
<path d="M396.8 111.3 L404.2 111.3 L400.5 118.3 Z" fill="#7A1E4E"/>
<text x="414.2" y="105.9" font-size="7.4" fill="#222">Exosome</text>
<text x="414.2" y="114.5" font-size="7.6" fill="#222">extraction</text>
<circle cx="395.8" cy="127" r="5.2" fill="#fff" stroke="#4C86C8" stroke-width="0.8"/>
<circle cx="394.6" cy="125.5" r="0.9" fill="#2F6FB5"/><circle cx="397.3" cy="128" r="0.8" fill="#2F6FB5"/><circle cx="394.3" cy="128.8" r="0.6" fill="#2F6FB5"/>
<circle cx="395.8" cy="138.3" r="5.2" fill="#fff" stroke="#4C86C8" stroke-width="0.8"/>
<circle cx="394.6" cy="136.8" r="0.9" fill="#2F6FB5"/><circle cx="397.3" cy="139.3" r="0.8" fill="#2F6FB5"/><circle cx="394.3" cy="140.1" r="0.6" fill="#2F6FB5"/>
<circle cx="395.8" cy="152.5" r="5.2" fill="#fff" stroke="#4C86C8" stroke-width="0.8"/>
<path d="M393.6 154.7 L398 150.3" stroke="#4C86C8" stroke-width="1.2"/>
<path d="M409.5 121 V133" stroke="#6D9BD8" stroke-width="0.8"/><path d="M410.6 122 V133.5" stroke="#E07078" stroke-width="0.7"/><circle cx="410" cy="127" r="0.7" fill="#fff"/>
<path d="M409.5 138.9 V157.1" stroke="#6D9BD8" stroke-width="0.8"/><path d="M410.5 140.3 V153.5" stroke="#E07078" stroke-width="0.7"/><circle cx="409.9" cy="137.7" r="1.5" fill="#fff" stroke="#999" stroke-width="0.5"/><circle cx="410" cy="144.8" r="0.8" fill="#fff" stroke="#aaa" stroke-width="0.3"/><path d="M406 157.3 H413.5 M409.9 154 V157.3" stroke="#aaa" stroke-width="0.6"/>
<defs><linearGradient id="hg4294" x1="0" y1="0" x2="1" y2="0"><stop offset="0" stop-color="#9A7F2C" stop-opacity="0.25"/><stop offset="0.5" stop-color="#9A7F2C"/></linearGradient></defs>
<path d="M416.3 129.8 H432 V126.7 L441.5 131 L432 135.3 V132.2 H416.3 Z" fill="url(#hg4294)"/>
<path d="M446 117.5 L449 115.2 H472.8 L475.8 117.5 V141 H446 Z" fill="#E5E5E9"/>
<path d="M446 117.5 L449 115.2 H472.8 L475.8 117.5" fill="none" stroke="#b8b8bc" stroke-width="0.5"/>
<rect x="445.1" y="117" width="1.9" height="24.2" fill="#85858A"/><rect x="474.8" y="117" width="1.9" height="24.2" fill="#85858A"/>
<rect x="447" y="127" width="27.8" height="1.3" fill="#A69DBA"/>
<rect x="449.5" y="141" width="3.5" height="1" fill="#666"/><rect x="469.5" y="141" width="3.5" height="1" fill="#666"/>
<circle cx="468.3" cy="134.3" r="0.55" fill="#3BBF50"/><circle cx="471.5" cy="134.3" r="0.55" fill="#E05050"/>
<text x="431.2" y="149.7" font-size="6.5" fill="#222">qPCR verification</text>
<path d="M487.7 127.8 V122.48 Q487.7 117.9 492.28 117.9 H500.72 Q505.3 117.9 505.3 122.48 V127.8 Z" fill="#2F5E7B"/>
<circle cx="496.5" cy="113.1" r="6.2" fill="#fff"/>
<circle cx="496.5" cy="113.1" r="5.1" fill="#2F5E7B"/>
<path d="M512.7 127.8 V122.48 Q512.7 117.9 517.28 117.9 H525.72 Q530.3 117.9 530.3 122.48 V127.8 Z" fill="#8444A2"/>
<circle cx="521.5" cy="113.1" r="6.2" fill="#fff"/>
<circle cx="521.5" cy="113.1" r="5.1" fill="#8444A2"/>
<path d="M487.7 156 V150.68 Q487.7 146.1 492.28 146.1 H500.72 Q505.3 146.1 505.3 150.68 V156 Z" fill="#8C2126"/>
<circle cx="496.5" cy="141.3" r="6.2" fill="#fff"/>
<circle cx="496.5" cy="141.3" r="5.1" fill="#8C2126"/>
<path d="M512.7 156 V150.68 Q512.7 146.1 517.28 146.1 H525.72 Q530.3 146.1 530.3 150.68 V156 Z" fill="#4D2D7D"/>
<circle cx="521.5" cy="141.3" r="6.2" fill="#fff"/>
<circle cx="521.5" cy="141.3" r="5.1" fill="#4D2D7D"/>
<text transform="translate(565.61 23.9) scale(0.908 1)" font-size="21.8" font-weight="bold" fill="#000">b</text>
<defs>
<filter id="noise" x="0" y="0" width="1" height="1"><feTurbulence type="fractalNoise" baseFrequency="0.9" numOctaves="2" seed="3" result="t"/><feColorMatrix type="matrix" values="0 0 0 0 0.5  0 0 0 0 0.5  0 0 0 0 0.5  0.9 0.9 0.9 0 -1.05"/></filter>
<filter id="blur1"><feGaussianBlur stdDeviation="2.5"/></filter>
<filter id="blur2"><feGaussianBlur stdDeviation="4"/></filter>
<filter id="blur05"><feGaussianBlur stdDeviation="0.6"/></filter>
<clipPath id="cp1"><rect x="589.2" y="15.1" width="88.5" height="62.3"/></clipPath>
<clipPath id="cp2"><rect x="589.2" y="86.8" width="88.5" height="61.3"/></clipPath>
<linearGradient id="em1bg" x1="0" y1="0" x2="1" y2="1"><stop offset="0" stop-color="#c9c9c9"/><stop offset="0.6" stop-color="#d2d2d2"/><stop offset="1" stop-color="#d6d6d6"/></linearGradient>
<linearGradient id="em2bg" x1="0" y1="0" x2="1" y2="0.35"><stop offset="0" stop-color="#cbcbcb"/><stop offset="0.3" stop-color="#c2c2c2"/><stop offset="0.46" stop-color="#8a8a8a"/><stop offset="0.7" stop-color="#6c6c6c"/><stop offset="1" stop-color="#757575"/></linearGradient>
</defs>
<g clip-path="url(#cp1)">
<rect x="589.2" y="15.1" width="88.5" height="62.3" fill="url(#em1bg)"/>
<g filter="url(#blur2)"><ellipse cx="628" cy="36" rx="20" ry="14" fill="#7a7a7a"/><ellipse cx="643" cy="27" rx="9" ry="8" fill="#4a4a4a"/><ellipse cx="614" cy="40" rx="6" ry="7" fill="#555"/><ellipse cx="662" cy="35" rx="8" ry="6" fill="#b0b0b0"/><ellipse cx="640" cy="52" rx="14" ry="5" fill="#a8a8a8"/></g>
<g filter="url(#blur05)"><ellipse cx="629.2" cy="39.2" rx="15.3" ry="12.8" transform="rotate(-20 629.2 39.2)" fill="#d4d4d4" stroke="#6a6a6a" stroke-width="1.4"/>
<ellipse cx="626.5" cy="42" rx="9.5" ry="6.2" transform="rotate(-22 626.5 42)" fill="#ababab" stroke="#858585" stroke-width="0.8"/>
<path d="M619 34 Q628 28 638 31" fill="none" stroke="#eeeeee" stroke-width="1.2"/></g>
<rect x="589.2" y="15.1" width="88.5" height="62.3" filter="url(#noise)" opacity="0.22"/>
</g>
<g clip-path="url(#cp2)">
<rect x="589.2" y="86.8" width="88.5" height="61.3" fill="url(#em2bg)"/>
<g filter="url(#blur2)"><ellipse cx="641" cy="97" rx="17" ry="11" fill="#474747"/><ellipse cx="664" cy="125" rx="12" ry="18" fill="#5a5a5a"/><ellipse cx="650" cy="112" rx="10" ry="8" fill="#555"/><ellipse cx="672" cy="92" rx="9" ry="6" fill="#a2a2a2"/><ellipse cx="637" cy="143" rx="12" ry="7" fill="#9a9a9a"/><ellipse cx="606" cy="118" rx="16" ry="30" fill="#c6c6c6"/><ellipse cx="630" cy="111" rx="4" ry="5" fill="#4a4a4a"/></g>
<circle cx="590.53" cy="112.7" r="1.05" fill="#dedede"/>
<circle cx="617.93" cy="108.78" r="0.96" fill="#dedede"/>
<circle cx="598.98" cy="131.75" r="1.36" fill="#dedede"/>
<circle cx="611.08" cy="100.92" r="1.28" fill="#dedede"/>
<circle cx="605.68" cy="100.51" r="0.88" fill="#dedede"/>
<circle cx="621.06" cy="135.76" r="1.18" fill="#dedede"/>
<circle cx="608.77" cy="121.16" r="0.94" fill="#dedede"/>
<circle cx="615.55" cy="136.31" r="1.29" fill="#dedede"/>
<circle cx="608.72" cy="105.37" r="1.13" fill="#dedede"/>
<circle cx="595.01" cy="137.19" r="1.01" fill="#dedede"/>
<circle cx="605.05" cy="102.96" r="1.06" fill="#dedede"/>
<circle cx="597.44" cy="88.16" r="1.23" fill="#dedede"/>
<circle cx="601.25" cy="102.45" r="0.98" fill="#dedede"/>
<circle cx="609.18" cy="113.28" r="1.18" fill="#dedede"/>
<circle cx="616.37" cy="109.38" r="1.36" fill="#dedede"/>
<circle cx="623.12" cy="141.44" r="1.27" fill="#dedede"/>
<circle cx="595.62" cy="137.05" r="1.18" fill="#dedede"/>
<circle cx="590.6" cy="88.68" r="1.37" fill="#dedede"/>
<circle cx="616.24" cy="102.75" r="0.86" fill="#dedede"/>
<circle cx="595.71" cy="101.78" r="1.27" fill="#dedede"/>
<circle cx="603.86" cy="97.01" r="1.34" fill="#dedede"/>
<circle cx="625.65" cy="123.89" r="1.27" fill="#dedede"/>
<circle cx="616.74" cy="140.74" r="1.27" fill="#dedede"/>
<circle cx="617.71" cy="119.32" r="1.25" fill="#dedede"/>
<circle cx="607.54" cy="140.08" r="1.13" fill="#dedede"/>
<circle cx="600.58" cy="101.82" r="0.88" fill="#dedede"/>
<circle cx="609.72" cy="91.45" r="1.08" fill="#dedede"/>
<circle cx="595.78" cy="116.99" r="1.1" fill="#dedede"/>
<circle cx="611.58" cy="138.91" r="0.8" fill="#dedede"/>
<circle cx="623.63" cy="115.61" r="1.14" fill="#dedede"/>
<circle cx="616.61" cy="137.59" r="1.02" fill="#dedede"/>
<circle cx="606.75" cy="144.68" r="0.85" fill="#dedede"/>
<circle cx="615.48" cy="125.53" r="0.82" fill="#dedede"/>
<circle cx="614.39" cy="128.27" r="1.36" fill="#dedede"/>
<circle cx="603.22" cy="145.92" r="1.11" fill="#dedede"/>
<circle cx="609.39" cy="140.96" r="0.82" fill="#dedede"/>
<circle cx="618.73" cy="124.89" r="1" fill="#dedede"/>
<circle cx="608.98" cy="119.01" r="1.26" fill="#dedede"/>
<circle cx="598.43" cy="113.68" r="1.05" fill="#dedede"/>
<circle cx="612.16" cy="136.78" r="0.98" fill="#dedede"/>
<circle cx="623.11" cy="111.82" r="1.1" fill="#dedede"/>
<circle cx="600.87" cy="117.88" r="1.38" fill="#dedede"/>
<circle cx="616.18" cy="134.73" r="1" fill="#dedede"/>
<circle cx="602.68" cy="105.65" r="1.15" fill="#dedede"/>
<circle cx="615.39" cy="134.27" r="0.82" fill="#dedede"/>
<circle cx="618.91" cy="140.25" r="1.13" fill="#dedede"/>
<circle cx="591.99" cy="105.72" r="0.8" fill="#dedede"/>
<circle cx="597.6" cy="142.36" r="1.17" fill="#dedede"/>
<circle cx="616.32" cy="134.55" r="1.35" fill="#dedede"/>
<circle cx="614.47" cy="124.39" r="1.18" fill="#dedede"/>
<circle cx="617.86" cy="123.18" r="1.21" fill="#dedede"/>
<circle cx="598.5" cy="127.35" r="1.07" fill="#dedede"/>
<circle cx="597.25" cy="90.18" r="1.26" fill="#dedede"/>
<circle cx="626.56" cy="126.69" r="1.02" fill="#dedede"/>
<circle cx="622.9" cy="134.41" r="1.14" fill="#dedede"/>
<circle cx="600.32" cy="105.82" r="1.05" fill="#dedede"/>
<circle cx="602.74" cy="113.41" r="1.19" fill="#dedede"/>
<circle cx="612.7" cy="90.32" r="0.87" fill="#dedede"/>
<circle cx="622.41" cy="121.94" r="1.35" fill="#dedede"/>
<circle cx="607.86" cy="88.83" r="1.03" fill="#dedede"/>
<circle cx="613.68" cy="143.33" r="1.39" fill="#dedede"/>
<circle cx="609.02" cy="112.33" r="0.86" fill="#dedede"/>
<circle cx="615.78" cy="100.52" r="0.89" fill="#dedede"/>
<circle cx="590.62" cy="88.28" r="1.21" fill="#dedede"/>
<circle cx="594.87" cy="145.01" r="0.85" fill="#dedede"/>
<circle cx="590.71" cy="130.44" r="0.95" fill="#dedede"/>
<circle cx="619.34" cy="99.06" r="0.83" fill="#dedede"/>
<circle cx="620.96" cy="130.1" r="1.31" fill="#dedede"/>
<circle cx="615.14" cy="129.84" r="1.08" fill="#dedede"/>
<circle cx="628.57" cy="130.32" r="0.81" fill="#dedede"/>
<circle cx="590.59" cy="126.39" r="1.29" fill="#dedede"/>
<circle cx="593.19" cy="106.35" r="1.24" fill="#dedede"/>
<circle cx="596.64" cy="138.8" r="1.09" fill="#dedede"/>
<circle cx="592.39" cy="109.69" r="1.14" fill="#dedede"/>
<circle cx="607.55" cy="127.94" r="0.89" fill="#dedede"/>
<g filter="url(#blur05)"><path d="M626.5 104.2 A7.5 7.8 0 0 1 635.5 118.2" fill="none" stroke="#dadada" stroke-width="1.8"/><path d="M625.8 105.8 A6.2 6.6 0 0 1 633.6 117.6" fill="none" stroke="#4a4a4a" stroke-width="1"/></g>
<rect x="589.2" y="86.8" width="88.5" height="61.3" filter="url(#noise)" opacity="0.22"/>
</g>
<text x="666.4" y="82.4" font-size="4.2" text-anchor="middle" fill="#000" font-weight="bold">100nm</text>
<text x="667.8" y="154.6" font-size="4.2" text-anchor="middle" fill="#000" font-weight="bold">100nm</text>
<text transform="translate(-1 199.9) scale(1.026 1)" font-size="19.5" font-weight="bold" fill="#000">c</text>
<ellipse cx="73.6" cy="243.6" rx="31.3" ry="19.2" transform="rotate(-14 73.6 243.6)" fill="#EF6450" fill-opacity="0.22" stroke="#E8594A" stroke-width="0.95"/>
<ellipse cx="111.3" cy="240.5" rx="53.5" ry="18.3" transform="rotate(67.3 111.3 240.5)" fill="#6AAFD3" fill-opacity="0.25" stroke="#3A98C4" stroke-width="0.95"/>
<g fill="#EF6450" stroke="#111" stroke-width="0.75"><circle cx="74.87" cy="236.75" r="2.3"/><circle cx="65.15" cy="233.02" r="2.3"/><circle cx="65.2" cy="242.48" r="2.3"/><circle cx="77.12" cy="228.86" r="2.3"/><circle cx="74.87" cy="234.66" r="2.3"/><circle cx="71.71" cy="243.31" r="2.3"/><circle cx="85.57" cy="243.39" r="2.3"/><circle cx="76.07" cy="237.74" r="2.3"/><circle cx="78.13" cy="235.98" r="2.3"/><circle cx="69.26" cy="246.49" r="2.3"/><circle cx="78.81" cy="239.43" r="2.3"/><circle cx="67.91" cy="232.96" r="2.3"/><circle cx="84.76" cy="238.17" r="2.3"/><circle cx="72.4" cy="241.81" r="2.3"/><circle cx="71.77" cy="247.47" r="2.3"/><circle cx="59.12" cy="232.41" r="2.3"/><circle cx="74.4" cy="240.87" r="2.3"/><circle cx="80.26" cy="234.17" r="2.3"/><circle cx="79.94" cy="237.73" r="2.3"/><circle cx="70.02" cy="252.25" r="2.3"/><circle cx="77.03" cy="234.28" r="2.3"/><circle cx="79.22" cy="240.43" r="2.3"/><circle cx="81.79" cy="247.73" r="2.3"/><circle cx="74.17" cy="238.16" r="2.3"/><circle cx="72.52" cy="227.83" r="2.3"/><circle cx="73.66" cy="249.83" r="2.3"/><circle cx="68.32" cy="234.48" r="2.3"/><circle cx="74.26" cy="246.31" r="2.3"/><circle cx="72.61" cy="231.08" r="2.3"/><circle cx="68.97" cy="241.22" r="2.3"/><circle cx="77.59" cy="233.3" r="2.3"/><circle cx="73.7" cy="249.54" r="2.3"/><circle cx="86.6" cy="237.75" r="2.3"/><circle cx="62.92" cy="238.1" r="2.3"/><circle cx="67.84" cy="238.26" r="2.3"/><circle cx="74.4" cy="245.48" r="2.3"/><circle cx="70.06" cy="235.53" r="2.3"/><circle cx="64.57" cy="237.08" r="2.3"/><circle cx="67.7" cy="239.89" r="2.3"/><circle cx="69.67" cy="242.75" r="2.3"/><circle cx="62.45" cy="231.2" r="2.3"/><circle cx="78.87" cy="249.77" r="2.3"/><circle cx="66.72" cy="245.91" r="2.3"/><circle cx="74.7" cy="242.27" r="2.3"/><circle cx="89.51" cy="245.2" r="2.3"/><circle cx="61.54" cy="239.31" r="2.3"/><circle cx="71.42" cy="251.45" r="2.3"/><circle cx="74.2" cy="231.1" r="2.3"/><circle cx="78.84" cy="242.12" r="2.3"/><circle cx="78.03" cy="243.87" r="2.3"/><circle cx="74" cy="244.13" r="2.3"/><circle cx="82.8" cy="246.55" r="2.3"/><circle cx="78.97" cy="238.43" r="2.3"/><circle cx="90.13" cy="241.86" r="2.3"/><circle cx="83.06" cy="247.37" r="2.3"/><circle cx="69.07" cy="242.4" r="2.3"/><circle cx="78.84" cy="241.99" r="2.3"/><circle cx="61.32" cy="235.27" r="2.3"/><circle cx="84.68" cy="242.28" r="2.3"/><circle cx="65.24" cy="243.62" r="2.3"/><circle cx="84.36" cy="257.51" r="2.3"/><circle cx="78.51" cy="242.84" r="2.3"/><circle cx="78.84" cy="244.24" r="2.3"/><circle cx="61.53" cy="248.87" r="2.3"/><circle cx="85.87" cy="238.62" r="2.3"/><circle cx="86.79" cy="248.23" r="2.3"/><circle cx="69.42" cy="232.46" r="2.3"/><circle cx="75.37" cy="242.06" r="2.3"/><circle cx="81.25" cy="251.58" r="2.3"/><circle cx="84.36" cy="241.28" r="2.3"/><circle cx="69.07" cy="248.14" r="2.3"/><circle cx="72.7" cy="238.77" r="2.3"/><circle cx="69.57" cy="244.81" r="2.3"/><circle cx="63.54" cy="259.93" r="2.3"/><circle cx="67.74" cy="262.27" r="2.3"/><circle cx="85.26" cy="258.76" r="2.3"/><circle cx="102.78" cy="263.44" r="2.3"/><circle cx="100.91" cy="251.29" r="2.3"/><circle cx="114.46" cy="261.1" r="2.3"/><circle cx="92.27" cy="231.9" r="2.3"/><circle cx="98.11" cy="241.25" r="2.3"/><circle cx="93.44" cy="238.21" r="2.3"/><circle cx="89.47" cy="251.29" r="2.3"/><circle cx="92.27" cy="252.92" r="2.3"/><circle cx="82.92" cy="227.23" r="2.3"/><circle cx="80.59" cy="226.53" r="2.3"/><circle cx="84.56" cy="226.06" r="2.3"/><circle cx="69.14" cy="235.41" r="2.3"/><circle cx="59.57" cy="243.58" r="2.3"/></g>
<g fill="#3D9BC6" stroke="#111" stroke-width="0.75"><circle cx="101.61" cy="216.72" r="2.3"/><circle cx="112.12" cy="217.89" r="2.3"/><circle cx="98.11" cy="220.69" r="2.3"/><circle cx="108.15" cy="222.09" r="2.3"/><circle cx="102.31" cy="224.43" r="2.3"/><circle cx="103.48" cy="227.93" r="2.3"/><circle cx="109.79" cy="229.57" r="2.3"/><circle cx="107.92" cy="232.6" r="2.3"/><circle cx="113.29" cy="233.3" r="2.3"/><circle cx="102.78" cy="242.41" r="2.3"/><circle cx="107.92" cy="245.45" r="2.3"/><circle cx="110.25" cy="249.42" r="2.3"/><circle cx="113.76" cy="248.25" r="2.3"/><circle cx="114.46" cy="245.92" r="2.3"/><circle cx="131.98" cy="244.28" r="2.3"/><circle cx="126.14" cy="250.59" r="2.3"/><circle cx="124.27" cy="252.22" r="2.3"/><circle cx="118.66" cy="255.26" r="2.3"/><circle cx="116.8" cy="259.23" r="2.3"/><circle cx="118.43" cy="268.11" r="2.3"/><circle cx="135.02" cy="272.08" r="2.3"/><circle cx="112.59" cy="249.42" r="2.3"/></g>
<rect x="38.5" y="187" width="106.3" height="106.8" fill="none" stroke="#222" stroke-width="1"/>
<path d="M36.9 201.2 H38.5" stroke="#333" stroke-width="0.6"/>
<text x="36.3" y="203.07" font-size="5.2" text-anchor="end" fill="#333">20</text>
<path d="M36.9 222.4 H38.5" stroke="#333" stroke-width="0.6"/>
<text x="36.3" y="224.27" font-size="5.2" text-anchor="end" fill="#333">10</text>
<path d="M36.9 243.6 H38.5" stroke="#333" stroke-width="0.6"/>
<text x="36.3" y="245.47" font-size="5.2" text-anchor="end" fill="#333">0</text>
<path d="M36.9 264.8 H38.5" stroke="#333" stroke-width="0.6"/>
<text x="36.3" y="266.67" font-size="5.2" text-anchor="end" fill="#333">−10</text>
<path d="M36.9 286 H38.5" stroke="#333" stroke-width="0.6"/>
<text x="36.3" y="287.87" font-size="5.2" text-anchor="end" fill="#333">−20</text>
<path d="M41.7 293.8 V295.4" stroke="#333" stroke-width="0.6"/>
<text x="41.7" y="299.82" font-size="5.2" text-anchor="middle" fill="#333">−20</text>
<path d="M62.3 293.8 V295.4" stroke="#333" stroke-width="0.6"/>
<text x="62.3" y="299.82" font-size="5.2" text-anchor="middle" fill="#333">−10</text>
<path d="M82.9 293.8 V295.4" stroke="#333" stroke-width="0.6"/>
<text x="82.9" y="299.82" font-size="5.2" text-anchor="middle" fill="#333">0</text>
<path d="M103.5 293.8 V295.4" stroke="#333" stroke-width="0.6"/>
<text x="103.5" y="299.82" font-size="5.2" text-anchor="middle" fill="#333">10</text>
<path d="M124.1 293.8 V295.4" stroke="#333" stroke-width="0.6"/>
<text x="124.1" y="299.82" font-size="5.2" text-anchor="middle" fill="#333">20</text>
<text x="91.1" y="309.4" font-size="7.2" font-weight="bold" text-anchor="middle" fill="#222">PC1</text>
<text transform="translate(22.8 241) rotate(-90)" font-size="7.2" font-weight="bold" text-anchor="middle" fill="#222">PC2</text>
<rect x="154.7" y="233.1" width="8.9" height="8.4" fill="#D2E6F0" stroke="#3A98C4" stroke-width="0.8"/>
<circle cx="159.15" cy="237.3" r="2.4" fill="#3D9BC6" stroke="#1a1a1a" stroke-width="0.55"/>
<rect x="154.7" y="243" width="8.9" height="8.4" fill="#F8D3CD" stroke="#E8594A" stroke-width="0.8"/>
<circle cx="159.15" cy="247.2" r="2.4" fill="#EF6450" stroke="#1a1a1a" stroke-width="0.55"/>
<text x="167" y="240" font-size="7.5" fill="#222">NC</text>
<text x="167" y="249.9" font-size="7.5" fill="#222">CP</text>
<text transform="translate(184.08 200.4) scale(0.953 1)" font-size="21.4" font-weight="bold" fill="#000">d</text>
<rect x="207.2" y="181.2" width="25.8" height="5.6" fill="#3E8DBA"/>
<rect x="233" y="181.2" width="104.5" height="5.6" fill="#EE6352"/>
<rect x="207.2" y="181.2" width="130.3" height="5.6" fill="none" stroke="#555" stroke-width="0.3"/>
<path fill="#08564c" d="M207.2 187.6h1.22v6.37h-1.22zM217.76 187.6h1.22v6.37h-1.22zM228.33 187.6h1.22v6.37h-1.22zM262.37 187.6h1.22v6.37h-1.22zM229.5 193.92h1.22v6.37h-1.22zM274.11 193.92h1.22v6.37h-1.22zM285.85 193.92h1.22v6.37h-1.22zM332.8 193.92h1.22v6.37h-1.22zM225.98 200.24h1.22v6.37h-1.22zM275.28 200.24h1.22v6.37h-1.22zM302.28 200.24h1.22v6.37h-1.22zM216.59 206.56h1.22v6.37h-1.22zM228.33 206.56h1.22v6.37h-1.22zM262.37 206.56h1.22v6.37h-1.22zM283.5 206.56h1.22v6.37h-1.22zM324.59 206.56h1.22v6.37h-1.22zM336.33 206.56h1.22v6.37h-1.22zM218.94 212.88h1.22v6.37h-1.22zM211.9 219.2h1.22v6.37h-1.22zM251.81 219.2h1.22v6.37h-1.22zM315.2 219.2h1.22v6.37h-1.22zM332.8 219.2h1.22v6.37h-1.22zM297.59 225.52h1.22v6.37h-1.22zM321.07 225.52h1.22v6.37h-1.22zM213.07 231.84h1.22v6.37h-1.22zM278.81 231.84h1.22v6.37h-1.22zM324.59 231.84h1.22v6.37h-1.22zM223.63 238.16h1.22v6.37h-1.22zM225.98 238.16h1.22v6.37h-1.22zM230.68 238.16h1.22v6.37h-1.22zM270.59 238.16h1.22v6.37h-1.22zM316.37 238.16h1.22v6.37h-1.22zM209.55 244.48h1.22v6.37h-1.22zM213.07 244.48h1.22v6.37h-1.22zM265.89 244.48h1.22v6.37h-1.22zM275.28 244.48h1.22v6.37h-1.22zM311.67 244.48h1.22v6.37h-1.22zM330.46 244.48h1.22v6.37h-1.22z"/>
<path fill="#50aca0" d="M208.37 187.6h1.22v6.37h-1.22zM231.85 187.6h1.22v6.37h-1.22zM238.89 187.6h1.22v6.37h-1.22zM250.63 187.6h1.22v6.37h-1.22zM245.94 193.92h1.22v6.37h-1.22zM302.28 193.92h1.22v6.37h-1.22zM209.55 200.24h1.22v6.37h-1.22zM324.59 200.24h1.22v6.37h-1.22zM276.46 206.56h1.22v6.37h-1.22zM329.28 206.56h1.22v6.37h-1.22zM331.63 206.56h1.22v6.37h-1.22zM231.85 212.88h2.4v6.37h-2.4zM332.8 212.88h1.22v6.37h-1.22zM207.2 219.2h1.22v6.37h-1.22zM210.72 219.2h1.22v6.37h-1.22zM231.85 219.2h1.22v6.37h-1.22zM209.55 225.52h1.22v6.37h-1.22zM211.9 225.52h1.22v6.37h-1.22zM223.63 225.52h1.22v6.37h-1.22zM303.46 225.52h1.22v6.37h-1.22zM323.41 225.52h1.22v6.37h-1.22zM218.94 231.84h1.22v6.37h-1.22zM275.28 231.84h1.22v6.37h-1.22zM234.2 238.16h1.22v6.37h-1.22zM211.9 244.48h1.22v6.37h-1.22zM236.55 244.48h1.22v6.37h-1.22zM255.33 244.48h1.22v6.37h-1.22zM240.07 250.8h1.22v6.37h-1.22zM285.85 257.12h1.22v6.37h-1.22zM241.24 263.44h1.22v6.37h-1.22zM254.15 263.44h1.22v6.37h-1.22zM270.59 263.44h1.22v6.37h-1.22zM275.28 263.44h1.22v6.37h-1.22zM315.2 263.44h2.4v6.37h-2.4zM260.02 269.76h1.22v6.37h-1.22zM268.24 269.76h1.22v6.37h-1.22zM270.59 269.76h4.75v6.37h-4.75zM276.46 269.76h14.14v6.37h-14.14zM295.24 269.76h8.27v6.37h-8.27zM311.67 269.76h8.27v6.37h-8.27zM234.2 276.08h1.22v6.37h-1.22zM251.81 276.08h1.22v6.37h-1.22zM262.37 276.08h1.22v6.37h-1.22zM275.28 276.08h4.75v6.37h-4.75zM282.33 276.08h20.01v6.37h-20.01zM306.98 276.08h3.57v6.37h-3.57zM244.76 282.4h1.22v6.37h-1.22zM275.28 282.4h4.75v6.37h-4.75zM305.81 282.4h4.75v6.37h-4.75zM284.68 288.72h5.92v6.37h-5.92zM295.24 288.72h8.27v6.37h-8.27zM326.94 288.72h10.61v6.37h-10.61zM238.89 295.04h1.22v6.37h-1.22zM247.11 295.04h8.27v6.37h-8.27zM291.72 295.04h4.75v6.37h-4.75zM310.5 295.04h2.4v6.37h-2.4zM317.54 295.04h17.66v6.37h-17.66zM250.63 301.36h1.22v6.37h-1.22zM262.37 301.36h8.27v6.37h-8.27zM271.76 301.36h7.09v6.37h-7.09zM287.02 301.36h4.75v6.37h-4.75zM317.54 301.36h7.09v6.37h-7.09z"/>
<path fill="#3c9b8e" d="M209.55 187.6h1.22v6.37h-1.22zM211.9 187.6h1.22v6.37h-1.22zM230.68 187.6h1.22v6.37h-1.22zM245.94 187.6h1.22v6.37h-1.22zM257.68 187.6h1.22v6.37h-1.22zM264.72 187.6h1.22v6.37h-1.22zM323.41 187.6h1.22v6.37h-1.22zM329.28 187.6h1.22v6.37h-1.22zM211.9 193.92h1.22v6.37h-1.22zM214.24 193.92h1.22v6.37h-1.22zM242.42 193.92h1.22v6.37h-1.22zM211.9 200.24h1.22v6.37h-1.22zM227.16 200.24h1.22v6.37h-1.22zM250.63 200.24h1.22v6.37h-1.22zM261.2 200.24h1.22v6.37h-1.22zM267.07 200.24h1.22v6.37h-1.22zM321.07 200.24h1.22v6.37h-1.22zM225.98 206.56h1.22v6.37h-1.22zM221.29 212.88h1.22v6.37h-1.22zM229.5 212.88h1.22v6.37h-1.22zM244.76 212.88h1.22v6.37h-1.22zM214.24 219.2h1.22v6.37h-1.22zM265.89 219.2h1.22v6.37h-1.22zM288.2 219.2h1.22v6.37h-1.22zM325.76 219.2h1.22v6.37h-1.22zM237.72 225.52h1.22v6.37h-1.22zM302.28 225.52h1.22v6.37h-1.22zM208.37 238.16h1.22v6.37h-1.22zM213.07 238.16h1.22v6.37h-1.22zM272.94 238.16h1.22v6.37h-1.22zM295.24 238.16h1.22v6.37h-1.22zM317.54 238.16h1.22v6.37h-1.22zM336.33 238.16h1.22v6.37h-1.22zM207.2 244.48h1.22v6.37h-1.22zM210.72 244.48h1.22v6.37h-1.22zM235.37 244.48h1.22v6.37h-1.22zM312.85 250.8h2.4v6.37h-2.4zM331.63 250.8h5.92v6.37h-5.92zM277.63 263.44h11.79v6.37h-11.79zM292.89 263.44h5.92v6.37h-5.92zM304.63 263.44h10.61v6.37h-10.61zM330.46 263.44h5.92v6.37h-5.92zM321.07 269.76h4.75v6.37h-4.75zM315.2 276.08h11.79v6.37h-11.79zM331.63 276.08h5.92v6.37h-5.92zM252.98 301.36h7.09v6.37h-7.09zM284.68 301.36h2.4v6.37h-2.4zM292.89 301.36h8.27v6.37h-8.27zM306.98 301.36h7.09v6.37h-7.09z"/>
<path fill="#f4e9d1" d="M210.72 187.6h1.22v6.37h-1.22zM251.81 187.6h1.22v6.37h-1.22zM256.5 187.6h1.22v6.37h-1.22zM285.85 187.6h1.22v6.37h-1.22zM292.89 187.6h1.22v6.37h-1.22zM295.24 187.6h1.22v6.37h-1.22zM326.94 187.6h1.22v6.37h-1.22zM330.46 187.6h1.22v6.37h-1.22zM335.15 187.6h2.4v6.37h-2.4zM207.2 193.92h1.22v6.37h-1.22zM224.81 193.92h1.22v6.37h-1.22zM233.03 193.92h2.4v6.37h-2.4zM243.59 193.92h1.22v6.37h-1.22zM252.98 193.92h1.22v6.37h-1.22zM261.2 193.92h1.22v6.37h-1.22zM265.89 193.92h1.22v6.37h-1.22zM268.24 193.92h1.22v6.37h-1.22zM284.68 193.92h1.22v6.37h-1.22zM288.2 193.92h1.22v6.37h-1.22zM292.89 193.92h1.22v6.37h-1.22zM301.11 193.92h1.22v6.37h-1.22zM305.81 193.92h1.22v6.37h-1.22zM314.02 193.92h1.22v6.37h-1.22zM323.41 193.92h2.4v6.37h-2.4zM217.76 200.24h1.22v6.37h-1.22zM238.89 200.24h1.22v6.37h-1.22zM249.46 200.24h1.22v6.37h-1.22zM268.24 200.24h1.22v6.37h-1.22zM271.76 200.24h3.57v6.37h-3.57zM277.63 200.24h1.22v6.37h-1.22zM291.72 200.24h1.22v6.37h-1.22zM294.07 200.24h2.4v6.37h-2.4zM301.11 200.24h1.22v6.37h-1.22zM303.46 200.24h2.4v6.37h-2.4zM310.5 200.24h1.22v6.37h-1.22zM315.2 200.24h2.4v6.37h-2.4zM325.76 200.24h1.22v6.37h-1.22zM329.28 200.24h1.22v6.37h-1.22zM331.63 200.24h1.22v6.37h-1.22zM335.15 200.24h1.22v6.37h-1.22zM236.55 206.56h2.4v6.37h-2.4zM240.07 206.56h1.22v6.37h-1.22zM250.63 206.56h1.22v6.37h-1.22zM257.68 206.56h1.22v6.37h-1.22zM279.98 206.56h1.22v6.37h-1.22zM284.68 206.56h2.4v6.37h-2.4zM289.37 206.56h1.22v6.37h-1.22zM299.94 206.56h2.4v6.37h-2.4zM308.15 206.56h1.22v6.37h-1.22zM310.5 206.56h1.22v6.37h-1.22zM322.24 206.56h1.22v6.37h-1.22zM330.46 206.56h1.22v6.37h-1.22zM332.8 206.56h1.22v6.37h-1.22zM224.81 212.88h1.22v6.37h-1.22zM241.24 212.88h1.22v6.37h-1.22zM250.63 212.88h1.22v6.37h-1.22zM256.5 212.88h1.22v6.37h-1.22zM268.24 212.88h1.22v6.37h-1.22zM270.59 212.88h1.22v6.37h-1.22zM282.33 212.88h1.22v6.37h-1.22zM290.55 212.88h1.22v6.37h-1.22zM292.89 212.88h1.22v6.37h-1.22zM311.67 212.88h1.22v6.37h-1.22zM223.63 219.2h1.22v6.37h-1.22zM227.16 219.2h1.22v6.37h-1.22zM235.37 219.2h1.22v6.37h-1.22zM238.89 219.2h1.22v6.37h-1.22zM260.02 219.2h1.22v6.37h-1.22zM268.24 219.2h1.22v6.37h-1.22zM277.63 219.2h1.22v6.37h-1.22zM291.72 219.2h1.22v6.37h-1.22zM304.63 219.2h1.22v6.37h-1.22zM324.59 219.2h1.22v6.37h-1.22zM333.98 219.2h1.22v6.37h-1.22zM213.07 225.52h1.22v6.37h-1.22zM227.16 225.52h1.22v6.37h-1.22zM255.33 225.52h1.22v6.37h-1.22zM261.2 225.52h1.22v6.37h-1.22zM269.42 225.52h1.22v6.37h-1.22zM271.76 225.52h1.22v6.37h-1.22zM276.46 225.52h1.22v6.37h-1.22zM279.98 225.52h1.22v6.37h-1.22zM284.68 225.52h1.22v6.37h-1.22zM305.81 225.52h1.22v6.37h-1.22zM309.33 225.52h1.22v6.37h-1.22zM325.76 225.52h1.22v6.37h-1.22zM331.63 225.52h1.22v6.37h-1.22zM223.63 231.84h1.22v6.37h-1.22zM230.68 231.84h1.22v6.37h-1.22zM240.07 231.84h1.22v6.37h-1.22zM245.94 231.84h1.22v6.37h-1.22zM256.5 231.84h1.22v6.37h-1.22zM265.89 231.84h1.22v6.37h-1.22zM269.42 231.84h1.22v6.37h-1.22zM271.76 231.84h2.4v6.37h-2.4zM277.63 231.84h1.22v6.37h-1.22zM281.15 231.84h1.22v6.37h-1.22zM283.5 231.84h1.22v6.37h-1.22zM288.2 231.84h1.22v6.37h-1.22zM302.28 231.84h1.22v6.37h-1.22zM311.67 231.84h1.22v6.37h-1.22zM316.37 231.84h2.4v6.37h-2.4zM325.76 231.84h1.22v6.37h-1.22zM331.63 231.84h2.4v6.37h-2.4zM335.15 231.84h2.4v6.37h-2.4zM255.33 238.16h1.22v6.37h-1.22zM267.07 238.16h1.22v6.37h-1.22zM285.85 238.16h1.22v6.37h-1.22zM308.15 238.16h1.22v6.37h-1.22zM315.2 238.16h1.22v6.37h-1.22zM240.07 244.48h1.22v6.37h-1.22zM244.76 244.48h1.22v6.37h-1.22zM257.68 244.48h1.22v6.37h-1.22zM270.59 244.48h1.22v6.37h-1.22zM272.94 244.48h1.22v6.37h-1.22zM303.46 244.48h1.22v6.37h-1.22zM318.72 244.48h1.22v6.37h-1.22zM324.59 244.48h1.22v6.37h-1.22zM333.98 244.48h2.4v6.37h-2.4zM213.07 250.8h1.22v6.37h-1.22zM243.59 250.8h1.22v6.37h-1.22zM251.81 250.8h1.22v6.37h-1.22zM288.2 250.8h2.4v6.37h-2.4zM224.81 257.12h1.22v6.37h-1.22zM231.85 257.12h1.22v6.37h-1.22zM236.55 257.12h1.22v6.37h-1.22zM241.24 257.12h1.22v6.37h-1.22zM271.76 257.12h1.22v6.37h-1.22zM281.15 257.12h1.22v6.37h-1.22zM326.94 257.12h1.22v6.37h-1.22zM209.55 263.44h1.22v6.37h-1.22zM228.33 263.44h1.22v6.37h-1.22zM230.68 263.44h1.22v6.37h-1.22zM244.76 263.44h1.22v6.37h-1.22zM263.55 263.44h1.22v6.37h-1.22zM301.11 263.44h3.57v6.37h-3.57zM317.54 263.44h1.22v6.37h-1.22zM210.72 269.76h1.22v6.37h-1.22zM215.42 269.76h1.22v6.37h-1.22zM262.37 269.76h1.22v6.37h-1.22zM245.94 276.08h1.22v6.37h-1.22zM255.33 276.08h1.22v6.37h-1.22zM261.2 276.08h1.22v6.37h-1.22zM267.07 276.08h1.22v6.37h-1.22zM326.94 276.08h2.4v6.37h-2.4zM217.76 282.4h1.22v6.37h-1.22zM229.5 282.4h1.22v6.37h-1.22zM245.94 282.4h1.22v6.37h-1.22zM285.85 282.4h3.57v6.37h-3.57zM324.59 282.4h2.4v6.37h-2.4zM209.55 288.72h1.22v6.37h-1.22zM237.72 288.72h1.22v6.37h-1.22zM276.46 288.72h2.4v6.37h-2.4zM292.89 288.72h2.4v6.37h-2.4zM207.2 295.04h1.22v6.37h-1.22zM218.94 295.04h1.22v6.37h-1.22zM229.5 295.04h1.22v6.37h-1.22zM231.85 295.04h1.22v6.37h-1.22zM296.41 295.04h2.4v6.37h-2.4zM308.15 295.04h2.4v6.37h-2.4zM335.15 295.04h2.4v6.37h-2.4zM281.15 301.36h3.57v6.37h-3.57zM301.11 301.36h1.22v6.37h-1.22zM220.11 307.68h1.22v6.37h-1.22zM234.2 307.68h1.22v6.37h-1.22zM279.98 307.68h3.57v6.37h-3.57z"/>
<path fill="#f6f4ec" d="M213.07 187.6h1.22v6.37h-1.22zM220.11 187.6h1.22v6.37h-1.22zM223.63 187.6h1.22v6.37h-1.22zM227.16 187.6h1.22v6.37h-1.22zM233.03 187.6h1.22v6.37h-1.22zM236.55 187.6h1.22v6.37h-1.22zM281.15 187.6h1.22v6.37h-1.22zM289.37 187.6h1.22v6.37h-1.22zM299.94 187.6h1.22v6.37h-1.22zM305.81 187.6h1.22v6.37h-1.22zM314.02 187.6h1.22v6.37h-1.22zM325.76 187.6h1.22v6.37h-1.22zM209.55 193.92h1.22v6.37h-1.22zM213.07 193.92h1.22v6.37h-1.22zM215.42 193.92h3.57v6.37h-3.57zM220.11 193.92h2.4v6.37h-2.4zM257.68 193.92h1.22v6.37h-1.22zM260.02 193.92h1.22v6.37h-1.22zM269.42 193.92h2.4v6.37h-2.4zM276.46 193.92h3.57v6.37h-3.57zM298.76 193.92h1.22v6.37h-1.22zM321.07 193.92h1.22v6.37h-1.22zM326.94 193.92h1.22v6.37h-1.22zM335.15 193.92h1.22v6.37h-1.22zM213.07 200.24h1.22v6.37h-1.22zM221.29 200.24h1.22v6.37h-1.22zM224.81 200.24h1.22v6.37h-1.22zM228.33 200.24h1.22v6.37h-1.22zM231.85 200.24h1.22v6.37h-1.22zM245.94 200.24h1.22v6.37h-1.22zM283.5 200.24h1.22v6.37h-1.22zM287.02 200.24h1.22v6.37h-1.22zM290.55 200.24h1.22v6.37h-1.22zM298.76 200.24h1.22v6.37h-1.22zM305.81 200.24h1.22v6.37h-1.22zM308.15 200.24h1.22v6.37h-1.22zM317.54 200.24h1.22v6.37h-1.22zM319.89 200.24h1.22v6.37h-1.22zM322.24 200.24h1.22v6.37h-1.22zM328.11 200.24h1.22v6.37h-1.22zM333.98 200.24h1.22v6.37h-1.22zM207.2 206.56h1.22v6.37h-1.22zM215.42 206.56h1.22v6.37h-1.22zM217.76 206.56h2.4v6.37h-2.4zM224.81 206.56h1.22v6.37h-1.22zM229.5 206.56h2.4v6.37h-2.4zM233.03 206.56h1.22v6.37h-1.22zM252.98 206.56h2.4v6.37h-2.4zM271.76 206.56h1.22v6.37h-1.22zM282.33 206.56h1.22v6.37h-1.22zM311.67 206.56h1.22v6.37h-1.22zM315.2 206.56h1.22v6.37h-1.22zM328.11 206.56h1.22v6.37h-1.22zM220.11 212.88h1.22v6.37h-1.22zM223.63 212.88h1.22v6.37h-1.22zM227.16 212.88h2.4v6.37h-2.4zM235.37 212.88h1.22v6.37h-1.22zM257.68 212.88h1.22v6.37h-1.22zM281.15 212.88h1.22v6.37h-1.22zM291.72 212.88h1.22v6.37h-1.22zM294.07 212.88h1.22v6.37h-1.22zM322.24 212.88h1.22v6.37h-1.22zM216.59 219.2h1.22v6.37h-1.22zM229.5 219.2h2.4v6.37h-2.4zM248.29 219.2h2.4v6.37h-2.4zM256.5 219.2h2.4v6.37h-2.4zM269.42 219.2h1.22v6.37h-1.22zM279.98 219.2h1.22v6.37h-1.22zM296.41 219.2h2.4v6.37h-2.4zM309.33 219.2h1.22v6.37h-1.22zM319.89 219.2h1.22v6.37h-1.22zM326.94 219.2h1.22v6.37h-1.22zM207.2 225.52h1.22v6.37h-1.22zM217.76 225.52h2.4v6.37h-2.4zM225.98 225.52h1.22v6.37h-1.22zM248.29 225.52h1.22v6.37h-1.22zM275.28 225.52h1.22v6.37h-1.22zM278.81 225.52h1.22v6.37h-1.22zM281.15 225.52h1.22v6.37h-1.22zM289.37 225.52h2.4v6.37h-2.4zM336.33 225.52h1.22v6.37h-1.22zM215.42 231.84h1.22v6.37h-1.22zM217.76 231.84h1.22v6.37h-1.22zM222.46 231.84h1.22v6.37h-1.22zM228.33 231.84h2.4v6.37h-2.4zM248.29 231.84h1.22v6.37h-1.22zM252.98 231.84h1.22v6.37h-1.22zM268.24 231.84h1.22v6.37h-1.22zM279.98 231.84h1.22v6.37h-1.22zM292.89 231.84h1.22v6.37h-1.22zM299.94 231.84h2.4v6.37h-2.4zM210.72 238.16h2.4v6.37h-2.4zM216.59 238.16h1.22v6.37h-1.22zM218.94 238.16h1.22v6.37h-1.22zM222.46 238.16h1.22v6.37h-1.22zM229.5 238.16h1.22v6.37h-1.22zM231.85 238.16h1.22v6.37h-1.22zM238.89 238.16h2.4v6.37h-2.4zM244.76 238.16h1.22v6.37h-1.22zM249.46 238.16h1.22v6.37h-1.22zM264.72 238.16h1.22v6.37h-1.22zM297.59 238.16h1.22v6.37h-1.22zM301.11 238.16h2.4v6.37h-2.4zM314.02 238.16h1.22v6.37h-1.22zM330.46 238.16h1.22v6.37h-1.22zM214.24 244.48h2.4v6.37h-2.4zM224.81 244.48h1.22v6.37h-1.22zM233.03 244.48h2.4v6.37h-2.4zM237.72 244.48h1.22v6.37h-1.22zM308.15 244.48h1.22v6.37h-1.22zM314.02 244.48h1.22v6.37h-1.22zM336.33 244.48h1.22v6.37h-1.22zM237.72 250.8h1.22v6.37h-1.22zM247.11 257.12h1.22v6.37h-1.22zM323.41 263.44h4.75v6.37h-4.75zM247.11 269.76h1.22v6.37h-1.22zM258.85 269.76h1.22v6.37h-1.22zM292.89 269.76h2.4v6.37h-2.4zM244.76 276.08h1.22v6.37h-1.22zM248.29 276.08h1.22v6.37h-1.22zM270.59 276.08h1.22v6.37h-1.22zM274.11 276.08h1.22v6.37h-1.22zM302.28 276.08h2.4v6.37h-2.4zM242.42 282.4h1.22v6.37h-1.22zM249.46 282.4h1.22v6.37h-1.22zM251.81 282.4h1.22v6.37h-1.22zM258.85 282.4h2.4v6.37h-2.4zM264.72 282.4h1.22v6.37h-1.22zM279.98 282.4h1.22v6.37h-1.22zM283.5 282.4h2.4v6.37h-2.4zM296.41 282.4h2.4v6.37h-2.4zM310.5 282.4h2.4v6.37h-2.4zM329.28 282.4h1.22v6.37h-1.22zM254.15 288.72h1.22v6.37h-1.22zM278.81 288.72h1.22v6.37h-1.22zM236.55 295.04h1.22v6.37h-1.22zM260.02 295.04h1.22v6.37h-1.22zM269.42 295.04h1.22v6.37h-1.22zM298.76 295.04h1.22v6.37h-1.22zM251.81 301.36h1.22v6.37h-1.22zM270.59 301.36h1.22v6.37h-1.22zM278.81 301.36h2.4v6.37h-2.4zM291.72 301.36h1.22v6.37h-1.22zM303.46 301.36h1.22v6.37h-1.22zM247.11 307.68h3.57v6.37h-3.57zM277.63 307.68h2.4v6.37h-2.4z"/>
<path fill="#04483e" d="M214.24 187.6h1.22v6.37h-1.22zM225.98 187.6h1.22v6.37h-1.22zM310.5 187.6h1.22v6.37h-1.22zM316.37 187.6h1.22v6.37h-1.22zM228.33 193.92h1.22v6.37h-1.22zM231.85 193.92h1.22v6.37h-1.22zM318.72 200.24h1.22v6.37h-1.22zM214.24 206.56h1.22v6.37h-1.22zM223.63 206.56h1.22v6.37h-1.22zM214.24 212.88h1.22v6.37h-1.22zM217.76 212.88h1.22v6.37h-1.22zM236.55 212.88h1.22v6.37h-1.22zM248.29 212.88h1.22v6.37h-1.22zM261.2 212.88h1.22v6.37h-1.22zM284.68 212.88h1.22v6.37h-1.22zM317.54 212.88h2.4v6.37h-2.4zM325.76 212.88h1.22v6.37h-1.22zM224.81 219.2h1.22v6.37h-1.22zM299.94 219.2h1.22v6.37h-1.22zM321.07 219.2h1.22v6.37h-1.22zM220.11 225.52h2.4v6.37h-2.4zM274.11 225.52h1.22v6.37h-1.22zM322.24 225.52h1.22v6.37h-1.22zM207.2 231.84h2.4v6.37h-2.4zM287.02 231.84h1.22v6.37h-1.22zM217.76 238.16h1.22v6.37h-1.22zM221.29 238.16h1.22v6.37h-1.22zM262.37 238.16h1.22v6.37h-1.22zM220.11 244.48h1.22v6.37h-1.22zM250.63 244.48h1.22v6.37h-1.22zM254.15 244.48h1.22v6.37h-1.22zM277.63 244.48h1.22v6.37h-1.22z"/>
<path fill="#0e6c60" d="M215.42 187.6h1.22v6.37h-1.22zM234.2 187.6h1.22v6.37h-1.22zM242.42 187.6h1.22v6.37h-1.22zM255.33 187.6h1.22v6.37h-1.22zM275.28 187.6h1.22v6.37h-1.22zM291.72 187.6h1.22v6.37h-1.22zM319.89 187.6h1.22v6.37h-1.22zM222.46 193.92h2.4v6.37h-2.4zM230.68 193.92h1.22v6.37h-1.22zM237.72 193.92h1.22v6.37h-1.22zM248.29 193.92h1.22v6.37h-1.22zM250.63 193.92h1.22v6.37h-1.22zM258.85 193.92h1.22v6.37h-1.22zM210.72 200.24h1.22v6.37h-1.22zM240.07 200.24h1.22v6.37h-1.22zM262.37 200.24h1.22v6.37h-1.22zM220.11 206.56h1.22v6.37h-1.22zM222.46 206.56h1.22v6.37h-1.22zM231.85 206.56h1.22v6.37h-1.22zM247.11 206.56h1.22v6.37h-1.22zM272.94 206.56h1.22v6.37h-1.22zM292.89 206.56h1.22v6.37h-1.22zM306.98 206.56h1.22v6.37h-1.22zM208.37 212.88h1.22v6.37h-1.22zM225.98 212.88h1.22v6.37h-1.22zM252.98 212.88h1.22v6.37h-1.22zM265.89 212.88h1.22v6.37h-1.22zM319.89 212.88h1.22v6.37h-1.22zM209.55 219.2h1.22v6.37h-1.22zM213.07 219.2h1.22v6.37h-1.22zM217.76 219.2h1.22v6.37h-1.22zM228.33 219.2h1.22v6.37h-1.22zM323.41 219.2h1.22v6.37h-1.22zM208.37 225.52h1.22v6.37h-1.22zM216.59 225.52h1.22v6.37h-1.22zM245.94 225.52h1.22v6.37h-1.22zM264.72 225.52h1.22v6.37h-1.22zM268.24 225.52h1.22v6.37h-1.22zM211.9 231.84h1.22v6.37h-1.22zM225.98 231.84h1.22v6.37h-1.22zM236.55 231.84h1.22v6.37h-1.22zM247.11 231.84h1.22v6.37h-1.22zM250.63 231.84h1.22v6.37h-1.22zM224.81 238.16h1.22v6.37h-1.22zM275.28 238.16h1.22v6.37h-1.22zM335.15 238.16h1.22v6.37h-1.22zM223.63 244.48h1.22v6.37h-1.22zM225.98 244.48h1.22v6.37h-1.22zM230.68 244.48h1.22v6.37h-1.22zM261.2 244.48h1.22v6.37h-1.22zM287.02 244.48h1.22v6.37h-1.22zM325.76 244.48h1.22v6.37h-1.22z"/>
<path fill="#e2bc7a" d="M216.59 187.6h1.22v6.37h-1.22zM244.76 187.6h1.22v6.37h-1.22zM270.59 187.6h1.22v6.37h-1.22zM276.46 187.6h1.22v6.37h-1.22zM279.98 187.6h1.22v6.37h-1.22zM303.46 187.6h1.22v6.37h-1.22zM318.72 187.6h1.22v6.37h-1.22zM321.07 187.6h2.4v6.37h-2.4zM328.11 187.6h1.22v6.37h-1.22zM225.98 193.92h1.22v6.37h-1.22zM238.89 193.92h1.22v6.37h-1.22zM241.24 193.92h1.22v6.37h-1.22zM254.15 193.92h1.22v6.37h-1.22zM256.5 193.92h1.22v6.37h-1.22zM264.72 193.92h1.22v6.37h-1.22zM267.07 193.92h1.22v6.37h-1.22zM283.5 193.92h1.22v6.37h-1.22zM295.24 193.92h1.22v6.37h-1.22zM297.59 193.92h1.22v6.37h-1.22zM309.33 193.92h1.22v6.37h-1.22zM311.67 193.92h2.4v6.37h-2.4zM315.2 193.92h1.22v6.37h-1.22zM319.89 193.92h1.22v6.37h-1.22zM333.98 193.92h1.22v6.37h-1.22zM336.33 193.92h1.22v6.37h-1.22zM222.46 200.24h1.22v6.37h-1.22zM235.37 200.24h1.22v6.37h-1.22zM241.24 200.24h1.22v6.37h-1.22zM257.68 200.24h1.22v6.37h-1.22zM263.55 200.24h1.22v6.37h-1.22zM265.89 200.24h1.22v6.37h-1.22zM288.2 200.24h1.22v6.37h-1.22zM312.85 200.24h1.22v6.37h-1.22zM244.76 206.56h1.22v6.37h-1.22zM258.85 206.56h1.22v6.37h-1.22zM265.89 206.56h1.22v6.37h-1.22zM268.24 206.56h1.22v6.37h-1.22zM287.02 206.56h1.22v6.37h-1.22zM304.63 206.56h1.22v6.37h-1.22zM319.89 206.56h1.22v6.37h-1.22zM333.98 206.56h1.22v6.37h-1.22zM222.46 212.88h1.22v6.37h-1.22zM237.72 212.88h1.22v6.37h-1.22zM242.42 212.88h1.22v6.37h-1.22zM247.11 212.88h1.22v6.37h-1.22zM258.85 212.88h1.22v6.37h-1.22zM269.42 212.88h1.22v6.37h-1.22zM275.28 212.88h3.57v6.37h-3.57zM288.2 212.88h2.4v6.37h-2.4zM299.94 212.88h1.22v6.37h-1.22zM306.98 212.88h1.22v6.37h-1.22zM323.41 212.88h1.22v6.37h-1.22zM326.94 212.88h1.22v6.37h-1.22zM333.98 212.88h1.22v6.37h-1.22zM218.94 219.2h1.22v6.37h-1.22zM240.07 219.2h1.22v6.37h-1.22zM244.76 219.2h2.4v6.37h-2.4zM258.85 219.2h1.22v6.37h-1.22zM274.11 219.2h1.22v6.37h-1.22zM278.81 219.2h1.22v6.37h-1.22zM281.15 219.2h1.22v6.37h-1.22zM290.55 219.2h1.22v6.37h-1.22zM292.89 219.2h1.22v6.37h-1.22zM298.76 219.2h1.22v6.37h-1.22zM302.28 219.2h2.4v6.37h-2.4zM305.81 219.2h1.22v6.37h-1.22zM335.15 219.2h1.22v6.37h-1.22zM214.24 225.52h1.22v6.37h-1.22zM233.03 225.52h4.75v6.37h-4.75zM240.07 225.52h1.22v6.37h-1.22zM256.5 225.52h1.22v6.37h-1.22zM267.07 225.52h1.22v6.37h-1.22zM306.98 225.52h1.22v6.37h-1.22zM310.5 225.52h1.22v6.37h-1.22zM329.28 225.52h1.22v6.37h-1.22zM333.98 225.52h1.22v6.37h-1.22zM216.59 231.84h1.22v6.37h-1.22zM224.81 231.84h1.22v6.37h-1.22zM237.72 231.84h2.4v6.37h-2.4zM241.24 231.84h3.57v6.37h-3.57zM249.46 231.84h1.22v6.37h-1.22zM251.81 231.84h1.22v6.37h-1.22zM262.37 231.84h1.22v6.37h-1.22zM274.11 231.84h1.22v6.37h-1.22zM276.46 231.84h1.22v6.37h-1.22zM290.55 231.84h1.22v6.37h-1.22zM296.41 231.84h2.4v6.37h-2.4zM303.46 231.84h1.22v6.37h-1.22zM308.15 231.84h1.22v6.37h-1.22zM310.5 231.84h1.22v6.37h-1.22zM312.85 231.84h1.22v6.37h-1.22zM315.2 231.84h1.22v6.37h-1.22zM322.24 231.84h1.22v6.37h-1.22zM326.94 231.84h1.22v6.37h-1.22zM242.42 238.16h2.4v6.37h-2.4zM260.02 238.16h1.22v6.37h-1.22zM265.89 238.16h1.22v6.37h-1.22zM279.98 238.16h1.22v6.37h-1.22zM290.55 238.16h1.22v6.37h-1.22zM312.85 238.16h1.22v6.37h-1.22zM319.89 238.16h1.22v6.37h-1.22zM322.24 238.16h1.22v6.37h-1.22zM238.89 244.48h1.22v6.37h-1.22zM242.42 244.48h1.22v6.37h-1.22zM258.85 244.48h1.22v6.37h-1.22zM297.59 244.48h1.22v6.37h-1.22zM322.24 244.48h1.22v6.37h-1.22zM326.94 244.48h2.4v6.37h-2.4zM210.72 250.8h1.22v6.37h-1.22zM214.24 250.8h1.22v6.37h-1.22zM218.94 250.8h1.22v6.37h-1.22zM221.29 250.8h1.22v6.37h-1.22zM224.81 250.8h1.22v6.37h-1.22zM227.16 250.8h2.4v6.37h-2.4zM231.85 250.8h1.22v6.37h-1.22zM242.42 250.8h1.22v6.37h-1.22zM247.11 250.8h1.22v6.37h-1.22zM250.63 250.8h1.22v6.37h-1.22zM258.85 250.8h1.22v6.37h-1.22zM265.89 250.8h1.22v6.37h-1.22zM311.67 250.8h1.22v6.37h-1.22zM209.55 257.12h1.22v6.37h-1.22zM211.9 257.12h2.4v6.37h-2.4zM221.29 257.12h1.22v6.37h-1.22zM225.98 257.12h1.22v6.37h-1.22zM230.68 257.12h1.22v6.37h-1.22zM234.2 257.12h1.22v6.37h-1.22zM238.89 257.12h2.4v6.37h-2.4zM263.55 257.12h1.22v6.37h-1.22zM267.07 257.12h1.22v6.37h-1.22zM279.98 257.12h1.22v6.37h-1.22zM287.02 257.12h1.22v6.37h-1.22zM210.72 263.44h1.22v6.37h-1.22zM214.24 263.44h1.22v6.37h-1.22zM217.76 263.44h1.22v6.37h-1.22zM235.37 263.44h1.22v6.37h-1.22zM240.07 263.44h1.22v6.37h-1.22zM245.94 263.44h2.4v6.37h-2.4zM256.5 263.44h1.22v6.37h-1.22zM261.2 263.44h1.22v6.37h-1.22zM299.94 263.44h1.22v6.37h-1.22zM336.33 263.44h1.22v6.37h-1.22zM214.24 269.76h1.22v6.37h-1.22zM227.16 269.76h1.22v6.37h-1.22zM230.68 269.76h1.22v6.37h-1.22zM234.2 269.76h3.57v6.37h-3.57zM240.07 269.76h2.4v6.37h-2.4zM250.63 269.76h1.22v6.37h-1.22zM263.55 269.76h1.22v6.37h-1.22zM265.89 269.76h1.22v6.37h-1.22zM325.76 269.76h3.57v6.37h-3.57zM215.42 276.08h1.22v6.37h-1.22zM223.63 276.08h3.57v6.37h-3.57zM233.03 276.08h1.22v6.37h-1.22zM237.72 276.08h1.22v6.37h-1.22zM240.07 276.08h2.4v6.37h-2.4zM260.02 276.08h1.22v6.37h-1.22zM310.5 276.08h2.4v6.37h-2.4zM207.2 282.4h1.22v6.37h-1.22zM213.07 282.4h1.22v6.37h-1.22zM220.11 282.4h1.22v6.37h-1.22zM223.63 282.4h1.22v6.37h-1.22zM233.03 282.4h1.22v6.37h-1.22zM235.37 282.4h2.4v6.37h-2.4zM256.5 282.4h2.4v6.37h-2.4zM261.2 282.4h1.22v6.37h-1.22zM267.07 282.4h1.22v6.37h-1.22zM269.42 282.4h1.22v6.37h-1.22zM281.15 282.4h2.4v6.37h-2.4zM213.07 288.72h1.22v6.37h-1.22zM216.59 288.72h1.22v6.37h-1.22zM222.46 288.72h1.22v6.37h-1.22zM229.5 288.72h1.22v6.37h-1.22zM244.76 288.72h1.22v6.37h-1.22zM248.29 288.72h1.22v6.37h-1.22zM283.5 288.72h1.22v6.37h-1.22zM290.55 288.72h1.22v6.37h-1.22zM325.76 288.72h1.22v6.37h-1.22zM217.76 295.04h1.22v6.37h-1.22zM228.33 295.04h1.22v6.37h-1.22zM230.68 295.04h1.22v6.37h-1.22zM235.37 295.04h1.22v6.37h-1.22zM240.07 295.04h1.22v6.37h-1.22zM255.33 295.04h3.57v6.37h-3.57zM207.2 301.36h1.22v6.37h-1.22zM209.55 301.36h1.22v6.37h-1.22zM213.07 301.36h1.22v6.37h-1.22zM221.29 301.36h1.22v6.37h-1.22zM231.85 301.36h1.22v6.37h-1.22zM305.81 301.36h1.22v6.37h-1.22zM208.37 307.68h1.22v6.37h-1.22zM213.07 307.68h2.4v6.37h-2.4zM222.46 307.68h1.22v6.37h-1.22zM224.81 307.68h1.22v6.37h-1.22zM230.68 307.68h3.57v6.37h-3.57zM236.55 307.68h1.22v6.37h-1.22zM240.07 307.68h3.57v6.37h-3.57zM305.81 307.68h1.22v6.37h-1.22z"/>
<path fill="#edd5a4" d="M218.94 187.6h1.22v6.37h-1.22zM222.46 187.6h1.22v6.37h-1.22zM265.89 187.6h3.57v6.37h-3.57zM272.94 187.6h2.4v6.37h-2.4zM284.68 187.6h1.22v6.37h-1.22zM287.02 187.6h1.22v6.37h-1.22zM294.07 187.6h1.22v6.37h-1.22zM304.63 187.6h1.22v6.37h-1.22zM308.15 187.6h2.4v6.37h-2.4zM324.59 187.6h1.22v6.37h-1.22zM208.37 193.92h1.22v6.37h-1.22zM236.55 193.92h1.22v6.37h-1.22zM240.07 193.92h1.22v6.37h-1.22zM247.11 193.92h1.22v6.37h-1.22zM251.81 193.92h1.22v6.37h-1.22zM262.37 193.92h2.4v6.37h-2.4zM282.33 193.92h1.22v6.37h-1.22zM289.37 193.92h1.22v6.37h-1.22zM291.72 193.92h1.22v6.37h-1.22zM294.07 193.92h1.22v6.37h-1.22zM299.94 193.92h1.22v6.37h-1.22zM303.46 193.92h2.4v6.37h-2.4zM316.37 193.92h1.22v6.37h-1.22zM322.24 193.92h1.22v6.37h-1.22zM218.94 200.24h1.22v6.37h-1.22zM242.42 200.24h2.4v6.37h-2.4zM247.11 200.24h1.22v6.37h-1.22zM251.81 200.24h1.22v6.37h-1.22zM256.5 200.24h1.22v6.37h-1.22zM258.85 200.24h1.22v6.37h-1.22zM264.72 200.24h1.22v6.37h-1.22zM270.59 200.24h1.22v6.37h-1.22zM276.46 200.24h1.22v6.37h-1.22zM278.81 200.24h1.22v6.37h-1.22zM292.89 200.24h1.22v6.37h-1.22zM296.41 200.24h1.22v6.37h-1.22zM309.33 200.24h1.22v6.37h-1.22zM208.37 206.56h1.22v6.37h-1.22zM241.24 206.56h1.22v6.37h-1.22zM248.29 206.56h1.22v6.37h-1.22zM251.81 206.56h1.22v6.37h-1.22zM255.33 206.56h2.4v6.37h-2.4zM263.55 206.56h2.4v6.37h-2.4zM274.11 206.56h1.22v6.37h-1.22zM278.81 206.56h1.22v6.37h-1.22zM281.15 206.56h1.22v6.37h-1.22zM288.2 206.56h1.22v6.37h-1.22zM290.55 206.56h2.4v6.37h-2.4zM295.24 206.56h3.57v6.37h-3.57zM316.37 206.56h3.57v6.37h-3.57zM207.2 212.88h1.22v6.37h-1.22zM243.59 212.88h1.22v6.37h-1.22zM262.37 212.88h1.22v6.37h-1.22zM267.07 212.88h1.22v6.37h-1.22zM271.76 212.88h1.22v6.37h-1.22zM274.11 212.88h1.22v6.37h-1.22zM279.98 212.88h1.22v6.37h-1.22zM287.02 212.88h1.22v6.37h-1.22zM296.41 212.88h1.22v6.37h-1.22zM298.76 212.88h1.22v6.37h-1.22zM301.11 212.88h4.75v6.37h-4.75zM309.33 212.88h2.4v6.37h-2.4zM312.85 212.88h1.22v6.37h-1.22zM315.2 212.88h1.22v6.37h-1.22zM330.46 212.88h1.22v6.37h-1.22zM335.15 212.88h1.22v6.37h-1.22zM237.72 219.2h1.22v6.37h-1.22zM242.42 219.2h1.22v6.37h-1.22zM250.63 219.2h1.22v6.37h-1.22zM254.15 219.2h2.4v6.37h-2.4zM261.2 219.2h1.22v6.37h-1.22zM267.07 219.2h1.22v6.37h-1.22zM276.46 219.2h1.22v6.37h-1.22zM284.68 219.2h1.22v6.37h-1.22zM295.24 219.2h1.22v6.37h-1.22zM301.11 219.2h1.22v6.37h-1.22zM306.98 219.2h1.22v6.37h-1.22zM311.67 219.2h3.57v6.37h-3.57zM318.72 219.2h1.22v6.37h-1.22zM322.24 219.2h1.22v6.37h-1.22zM328.11 219.2h2.4v6.37h-2.4zM210.72 225.52h1.22v6.37h-1.22zM238.89 225.52h1.22v6.37h-1.22zM244.76 225.52h1.22v6.37h-1.22zM249.46 225.52h1.22v6.37h-1.22zM254.15 225.52h1.22v6.37h-1.22zM272.94 225.52h1.22v6.37h-1.22zM283.5 225.52h1.22v6.37h-1.22zM287.02 225.52h1.22v6.37h-1.22zM291.72 225.52h1.22v6.37h-1.22zM301.11 225.52h1.22v6.37h-1.22zM308.15 225.52h1.22v6.37h-1.22zM314.02 225.52h1.22v6.37h-1.22zM316.37 225.52h1.22v6.37h-1.22zM319.89 225.52h1.22v6.37h-1.22zM328.11 225.52h1.22v6.37h-1.22zM335.15 225.52h1.22v6.37h-1.22zM210.72 231.84h1.22v6.37h-1.22zM221.29 231.84h1.22v6.37h-1.22zM257.68 231.84h1.22v6.37h-1.22zM261.2 231.84h1.22v6.37h-1.22zM267.07 231.84h1.22v6.37h-1.22zM285.85 231.84h1.22v6.37h-1.22zM289.37 231.84h1.22v6.37h-1.22zM294.07 231.84h2.4v6.37h-2.4zM318.72 231.84h1.22v6.37h-1.22zM321.07 231.84h1.22v6.37h-1.22zM329.28 231.84h1.22v6.37h-1.22zM207.2 238.16h1.22v6.37h-1.22zM214.24 238.16h1.22v6.37h-1.22zM237.72 238.16h1.22v6.37h-1.22zM254.15 238.16h1.22v6.37h-1.22zM258.85 238.16h1.22v6.37h-1.22zM268.24 238.16h1.22v6.37h-1.22zM276.46 238.16h1.22v6.37h-1.22zM278.81 238.16h1.22v6.37h-1.22zM282.33 238.16h1.22v6.37h-1.22zM291.72 238.16h1.22v6.37h-1.22zM299.94 238.16h1.22v6.37h-1.22zM303.46 238.16h1.22v6.37h-1.22zM309.33 238.16h2.4v6.37h-2.4zM321.07 238.16h1.22v6.37h-1.22zM328.11 238.16h1.22v6.37h-1.22zM229.5 244.48h1.22v6.37h-1.22zM231.85 244.48h1.22v6.37h-1.22zM248.29 244.48h1.22v6.37h-1.22zM251.81 244.48h2.4v6.37h-2.4zM260.02 244.48h1.22v6.37h-1.22zM263.55 244.48h1.22v6.37h-1.22zM279.98 244.48h1.22v6.37h-1.22zM282.33 244.48h1.22v6.37h-1.22zM284.68 244.48h1.22v6.37h-1.22zM288.2 244.48h2.4v6.37h-2.4zM302.28 244.48h1.22v6.37h-1.22zM310.5 244.48h1.22v6.37h-1.22zM312.85 244.48h1.22v6.37h-1.22zM315.2 244.48h1.22v6.37h-1.22zM317.54 244.48h1.22v6.37h-1.22zM331.63 244.48h1.22v6.37h-1.22zM207.2 250.8h1.22v6.37h-1.22zM209.55 250.8h1.22v6.37h-1.22zM216.59 250.8h1.22v6.37h-1.22zM222.46 250.8h1.22v6.37h-1.22zM229.5 250.8h2.4v6.37h-2.4zM234.2 250.8h1.22v6.37h-1.22zM238.89 250.8h1.22v6.37h-1.22zM249.46 250.8h1.22v6.37h-1.22zM252.98 250.8h1.22v6.37h-1.22zM255.33 250.8h1.22v6.37h-1.22zM263.55 250.8h1.22v6.37h-1.22zM284.68 250.8h3.57v6.37h-3.57zM216.59 257.12h1.22v6.37h-1.22zM222.46 257.12h1.22v6.37h-1.22zM233.03 257.12h1.22v6.37h-1.22zM254.15 257.12h1.22v6.37h-1.22zM265.89 257.12h1.22v6.37h-1.22zM275.28 257.12h1.22v6.37h-1.22zM277.63 257.12h1.22v6.37h-1.22zM299.94 257.12h1.22v6.37h-1.22zM222.46 263.44h1.22v6.37h-1.22zM224.81 263.44h2.4v6.37h-2.4zM248.29 263.44h1.22v6.37h-1.22zM250.63 263.44h1.22v6.37h-1.22zM258.85 263.44h1.22v6.37h-1.22zM262.37 263.44h1.22v6.37h-1.22zM267.07 263.44h1.22v6.37h-1.22zM222.46 269.76h2.4v6.37h-2.4zM255.33 269.76h1.22v6.37h-1.22zM290.55 269.76h2.4v6.37h-2.4zM310.5 269.76h1.22v6.37h-1.22zM210.72 276.08h1.22v6.37h-1.22zM216.59 276.08h1.22v6.37h-1.22zM221.29 276.08h1.22v6.37h-1.22zM228.33 276.08h1.22v6.37h-1.22zM238.89 276.08h1.22v6.37h-1.22zM247.11 276.08h1.22v6.37h-1.22zM250.63 276.08h1.22v6.37h-1.22zM254.15 276.08h1.22v6.37h-1.22zM263.55 276.08h1.22v6.37h-1.22zM269.42 276.08h1.22v6.37h-1.22zM272.94 276.08h1.22v6.37h-1.22zM279.98 276.08h1.22v6.37h-1.22zM329.28 276.08h2.4v6.37h-2.4zM208.37 282.4h1.22v6.37h-1.22zM210.72 282.4h2.4v6.37h-2.4zM221.29 282.4h1.22v6.37h-1.22zM224.81 282.4h1.22v6.37h-1.22zM228.33 282.4h1.22v6.37h-1.22zM238.89 282.4h1.22v6.37h-1.22zM250.63 282.4h1.22v6.37h-1.22zM263.55 282.4h1.22v6.37h-1.22zM271.76 282.4h3.57v6.37h-3.57zM211.9 288.72h1.22v6.37h-1.22zM225.98 288.72h1.22v6.37h-1.22zM230.68 288.72h1.22v6.37h-1.22zM234.2 288.72h1.22v6.37h-1.22zM241.24 288.72h1.22v6.37h-1.22zM247.11 288.72h1.22v6.37h-1.22zM303.46 288.72h1.22v6.37h-1.22zM208.37 295.04h1.22v6.37h-1.22zM221.29 295.04h1.22v6.37h-1.22zM233.03 295.04h1.22v6.37h-1.22zM244.76 295.04h1.22v6.37h-1.22zM289.37 295.04h2.4v6.37h-2.4zM208.37 301.36h1.22v6.37h-1.22zM211.9 301.36h1.22v6.37h-1.22zM225.98 301.36h2.4v6.37h-2.4zM229.5 301.36h1.22v6.37h-1.22zM236.55 301.36h1.22v6.37h-1.22zM240.07 301.36h1.22v6.37h-1.22zM302.28 301.36h1.22v6.37h-1.22zM211.9 307.68h1.22v6.37h-1.22zM217.76 307.68h1.22v6.37h-1.22zM225.98 307.68h1.22v6.37h-1.22zM235.37 307.68h1.22v6.37h-1.22zM238.89 307.68h1.22v6.37h-1.22zM289.37 307.68h2.4v6.37h-2.4z"/>
<path fill="#d1e9e0" d="M221.29 187.6h1.22v6.37h-1.22zM224.81 187.6h1.22v6.37h-1.22zM237.72 187.6h1.22v6.37h-1.22zM252.98 187.6h1.22v6.37h-1.22zM261.2 187.6h1.22v6.37h-1.22zM290.55 187.6h1.22v6.37h-1.22zM312.85 187.6h1.22v6.37h-1.22zM218.94 193.92h1.22v6.37h-1.22zM227.16 193.92h1.22v6.37h-1.22zM271.76 193.92h1.22v6.37h-1.22zM325.76 193.92h1.22v6.37h-1.22zM207.2 200.24h2.4v6.37h-2.4zM220.11 200.24h1.22v6.37h-1.22zM230.68 200.24h1.22v6.37h-1.22zM252.98 200.24h1.22v6.37h-1.22zM269.42 200.24h1.22v6.37h-1.22zM299.94 200.24h1.22v6.37h-1.22zM314.02 200.24h1.22v6.37h-1.22zM330.46 200.24h1.22v6.37h-1.22zM336.33 200.24h1.22v6.37h-1.22zM209.55 206.56h3.57v6.37h-3.57zM221.29 206.56h1.22v6.37h-1.22zM243.59 206.56h1.22v6.37h-1.22zM260.02 206.56h1.22v6.37h-1.22zM277.63 206.56h1.22v6.37h-1.22zM302.28 206.56h1.22v6.37h-1.22zM323.41 206.56h1.22v6.37h-1.22zM211.9 212.88h2.4v6.37h-2.4zM215.42 212.88h1.22v6.37h-1.22zM230.68 212.88h1.22v6.37h-1.22zM245.94 212.88h1.22v6.37h-1.22zM251.81 212.88h1.22v6.37h-1.22zM264.72 212.88h1.22v6.37h-1.22zM285.85 212.88h1.22v6.37h-1.22zM297.59 212.88h1.22v6.37h-1.22zM328.11 212.88h1.22v6.37h-1.22zM221.29 219.2h2.4v6.37h-2.4zM225.98 219.2h1.22v6.37h-1.22zM243.59 219.2h1.22v6.37h-1.22zM310.5 219.2h1.22v6.37h-1.22zM316.37 219.2h1.22v6.37h-1.22zM330.46 219.2h1.22v6.37h-1.22zM336.33 219.2h1.22v6.37h-1.22zM215.42 225.52h1.22v6.37h-1.22zM228.33 225.52h1.22v6.37h-1.22zM258.85 225.52h1.22v6.37h-1.22zM292.89 225.52h1.22v6.37h-1.22zM296.41 225.52h1.22v6.37h-1.22zM318.72 225.52h1.22v6.37h-1.22zM214.24 231.84h1.22v6.37h-1.22zM220.11 231.84h1.22v6.37h-1.22zM227.16 231.84h1.22v6.37h-1.22zM244.76 231.84h1.22v6.37h-1.22zM305.81 231.84h1.22v6.37h-1.22zM215.42 238.16h1.22v6.37h-1.22zM228.33 238.16h1.22v6.37h-1.22zM236.55 238.16h1.22v6.37h-1.22zM251.81 238.16h1.22v6.37h-1.22zM289.37 238.16h1.22v6.37h-1.22zM298.76 238.16h1.22v6.37h-1.22zM325.76 238.16h1.22v6.37h-1.22zM329.28 238.16h1.22v6.37h-1.22zM333.98 238.16h1.22v6.37h-1.22zM218.94 244.48h1.22v6.37h-1.22zM296.41 244.48h1.22v6.37h-1.22z"/>
<path fill="#98d5cb" d="M229.5 187.6h1.22v6.37h-1.22zM263.55 187.6h1.22v6.37h-1.22zM271.76 187.6h1.22v6.37h-1.22zM311.67 187.6h1.22v6.37h-1.22zM332.8 187.6h1.22v6.37h-1.22zM210.72 193.92h1.22v6.37h-1.22zM275.28 193.92h1.22v6.37h-1.22zM281.15 193.92h1.22v6.37h-1.22zM214.24 200.24h1.22v6.37h-1.22zM229.5 200.24h1.22v6.37h-1.22zM237.72 200.24h1.22v6.37h-1.22zM279.98 200.24h1.22v6.37h-1.22zM213.07 206.56h1.22v6.37h-1.22zM227.16 206.56h1.22v6.37h-1.22zM234.2 206.56h1.22v6.37h-1.22zM305.81 206.56h1.22v6.37h-1.22zM325.76 206.56h1.22v6.37h-1.22zM335.15 206.56h1.22v6.37h-1.22zM210.72 212.88h1.22v6.37h-1.22zM216.59 212.88h1.22v6.37h-1.22zM295.24 212.88h1.22v6.37h-1.22zM208.37 219.2h1.22v6.37h-1.22zM215.42 219.2h1.22v6.37h-1.22zM220.11 219.2h1.22v6.37h-1.22zM222.46 225.52h1.22v6.37h-1.22zM231.85 225.52h1.22v6.37h-1.22zM242.42 225.52h1.22v6.37h-1.22zM247.11 225.52h1.22v6.37h-1.22zM262.37 225.52h1.22v6.37h-1.22zM277.63 225.52h1.22v6.37h-1.22zM294.07 225.52h1.22v6.37h-1.22zM298.76 225.52h1.22v6.37h-1.22zM326.94 225.52h1.22v6.37h-1.22zM332.8 225.52h1.22v6.37h-1.22zM231.85 231.84h1.22v6.37h-1.22zM263.55 231.84h1.22v6.37h-1.22zM209.55 238.16h1.22v6.37h-1.22zM220.11 238.16h1.22v6.37h-1.22zM227.16 238.16h1.22v6.37h-1.22zM235.37 238.16h1.22v6.37h-1.22zM250.63 238.16h1.22v6.37h-1.22zM257.68 238.16h1.22v6.37h-1.22zM284.68 238.16h1.22v6.37h-1.22zM287.02 238.16h1.22v6.37h-1.22zM311.67 238.16h1.22v6.37h-1.22zM208.37 244.48h1.22v6.37h-1.22zM217.76 244.48h1.22v6.37h-1.22zM221.29 244.48h1.22v6.37h-1.22zM227.16 244.48h1.22v6.37h-1.22zM241.24 244.48h1.22v6.37h-1.22zM245.94 244.48h1.22v6.37h-1.22zM262.37 244.48h1.22v6.37h-1.22zM268.24 244.48h1.22v6.37h-1.22zM283.5 244.48h1.22v6.37h-1.22zM290.55 244.48h1.22v6.37h-1.22zM237.72 257.12h1.22v6.37h-1.22zM243.59 257.12h1.22v6.37h-1.22zM270.59 257.12h1.22v6.37h-1.22zM276.46 257.12h1.22v6.37h-1.22zM283.5 257.12h1.22v6.37h-1.22zM242.42 263.44h1.22v6.37h-1.22zM242.42 269.76h2.4v6.37h-2.4zM245.94 269.76h1.22v6.37h-1.22zM251.81 269.76h1.22v6.37h-1.22zM256.5 269.76h1.22v6.37h-1.22zM236.55 276.08h1.22v6.37h-1.22zM264.72 276.08h1.22v6.37h-1.22zM281.15 276.08h1.22v6.37h-1.22zM238.89 288.72h1.22v6.37h-1.22zM233.03 301.36h1.22v6.37h-1.22zM235.37 301.36h1.22v6.37h-1.22zM260.02 307.68h5.92v6.37h-5.92zM299.94 307.68h5.92v6.37h-5.92z"/>
<path fill="#daac60" d="M235.37 187.6h1.22v6.37h-1.22zM240.07 187.6h1.22v6.37h-1.22zM243.59 187.6h1.22v6.37h-1.22zM249.46 187.6h1.22v6.37h-1.22zM258.85 187.6h1.22v6.37h-1.22zM269.42 187.6h1.22v6.37h-1.22zM277.63 187.6h2.4v6.37h-2.4zM282.33 187.6h2.4v6.37h-2.4zM288.2 187.6h1.22v6.37h-1.22zM296.41 187.6h1.22v6.37h-1.22zM301.11 187.6h2.4v6.37h-2.4zM315.2 187.6h1.22v6.37h-1.22zM317.54 187.6h1.22v6.37h-1.22zM249.46 193.92h1.22v6.37h-1.22zM255.33 193.92h1.22v6.37h-1.22zM279.98 193.92h1.22v6.37h-1.22zM287.02 193.92h1.22v6.37h-1.22zM296.41 193.92h1.22v6.37h-1.22zM306.98 193.92h2.4v6.37h-2.4zM310.5 193.92h1.22v6.37h-1.22zM317.54 193.92h2.4v6.37h-2.4zM328.11 193.92h2.4v6.37h-2.4zM233.03 200.24h1.22v6.37h-1.22zM236.55 200.24h1.22v6.37h-1.22zM244.76 200.24h1.22v6.37h-1.22zM248.29 200.24h1.22v6.37h-1.22zM254.15 200.24h2.4v6.37h-2.4zM281.15 200.24h2.4v6.37h-2.4zM284.68 200.24h2.4v6.37h-2.4zM297.59 200.24h1.22v6.37h-1.22zM306.98 200.24h1.22v6.37h-1.22zM311.67 200.24h1.22v6.37h-1.22zM323.41 200.24h1.22v6.37h-1.22zM326.94 200.24h1.22v6.37h-1.22zM235.37 206.56h1.22v6.37h-1.22zM238.89 206.56h1.22v6.37h-1.22zM242.42 206.56h1.22v6.37h-1.22zM245.94 206.56h1.22v6.37h-1.22zM267.07 206.56h1.22v6.37h-1.22zM269.42 206.56h1.22v6.37h-1.22zM294.07 206.56h1.22v6.37h-1.22zM309.33 206.56h1.22v6.37h-1.22zM312.85 206.56h1.22v6.37h-1.22zM321.07 206.56h1.22v6.37h-1.22zM326.94 206.56h1.22v6.37h-1.22zM234.2 212.88h1.22v6.37h-1.22zM238.89 212.88h1.22v6.37h-1.22zM249.46 212.88h1.22v6.37h-1.22zM254.15 212.88h2.4v6.37h-2.4zM260.02 212.88h1.22v6.37h-1.22zM263.55 212.88h1.22v6.37h-1.22zM283.5 212.88h1.22v6.37h-1.22zM305.81 212.88h1.22v6.37h-1.22zM324.59 212.88h1.22v6.37h-1.22zM329.28 212.88h1.22v6.37h-1.22zM331.63 212.88h1.22v6.37h-1.22zM336.33 212.88h1.22v6.37h-1.22zM234.2 219.2h1.22v6.37h-1.22zM236.55 219.2h1.22v6.37h-1.22zM241.24 219.2h1.22v6.37h-1.22zM247.11 219.2h1.22v6.37h-1.22zM252.98 219.2h1.22v6.37h-1.22zM263.55 219.2h2.4v6.37h-2.4zM270.59 219.2h3.57v6.37h-3.57zM282.33 219.2h2.4v6.37h-2.4zM285.85 219.2h1.22v6.37h-1.22zM289.37 219.2h1.22v6.37h-1.22zM294.07 219.2h1.22v6.37h-1.22zM308.15 219.2h1.22v6.37h-1.22zM317.54 219.2h1.22v6.37h-1.22zM331.63 219.2h1.22v6.37h-1.22zM243.59 225.52h1.22v6.37h-1.22zM250.63 225.52h3.57v6.37h-3.57zM260.02 225.52h1.22v6.37h-1.22zM265.89 225.52h1.22v6.37h-1.22zM270.59 225.52h1.22v6.37h-1.22zM282.33 225.52h1.22v6.37h-1.22zM285.85 225.52h1.22v6.37h-1.22zM288.2 225.52h1.22v6.37h-1.22zM295.24 225.52h1.22v6.37h-1.22zM311.67 225.52h1.22v6.37h-1.22zM315.2 225.52h1.22v6.37h-1.22zM233.03 231.84h3.57v6.37h-3.57zM254.15 231.84h2.4v6.37h-2.4zM260.02 231.84h1.22v6.37h-1.22zM270.59 231.84h1.22v6.37h-1.22zM284.68 231.84h1.22v6.37h-1.22zM291.72 231.84h1.22v6.37h-1.22zM298.76 231.84h1.22v6.37h-1.22zM304.63 231.84h1.22v6.37h-1.22zM309.33 231.84h1.22v6.37h-1.22zM323.41 231.84h1.22v6.37h-1.22zM328.11 231.84h1.22v6.37h-1.22zM333.98 231.84h1.22v6.37h-1.22zM233.03 238.16h1.22v6.37h-1.22zM241.24 238.16h1.22v6.37h-1.22zM245.94 238.16h3.57v6.37h-3.57zM252.98 238.16h1.22v6.37h-1.22zM256.5 238.16h1.22v6.37h-1.22zM263.55 238.16h1.22v6.37h-1.22zM269.42 238.16h1.22v6.37h-1.22zM271.76 238.16h1.22v6.37h-1.22zM274.11 238.16h1.22v6.37h-1.22zM277.63 238.16h1.22v6.37h-1.22zM281.15 238.16h1.22v6.37h-1.22zM292.89 238.16h2.4v6.37h-2.4zM296.41 238.16h1.22v6.37h-1.22zM323.41 238.16h2.4v6.37h-2.4zM326.94 238.16h1.22v6.37h-1.22zM331.63 238.16h2.4v6.37h-2.4zM247.11 244.48h1.22v6.37h-1.22zM249.46 244.48h1.22v6.37h-1.22zM264.72 244.48h1.22v6.37h-1.22zM269.42 244.48h1.22v6.37h-1.22zM271.76 244.48h1.22v6.37h-1.22zM274.11 244.48h1.22v6.37h-1.22zM276.46 244.48h1.22v6.37h-1.22zM281.15 244.48h1.22v6.37h-1.22zM291.72 244.48h2.4v6.37h-2.4zM299.94 244.48h2.4v6.37h-2.4zM304.63 244.48h3.57v6.37h-3.57zM316.37 244.48h1.22v6.37h-1.22zM319.89 244.48h2.4v6.37h-2.4zM323.41 244.48h1.22v6.37h-1.22zM329.28 244.48h1.22v6.37h-1.22zM332.8 244.48h1.22v6.37h-1.22zM208.37 250.8h1.22v6.37h-1.22zM211.9 250.8h1.22v6.37h-1.22zM220.11 250.8h1.22v6.37h-1.22zM223.63 250.8h1.22v6.37h-1.22zM236.55 250.8h1.22v6.37h-1.22zM244.76 250.8h2.4v6.37h-2.4zM254.15 250.8h1.22v6.37h-1.22zM256.5 250.8h1.22v6.37h-1.22zM299.94 250.8h1.22v6.37h-1.22zM207.2 257.12h1.22v6.37h-1.22zM215.42 257.12h1.22v6.37h-1.22zM218.94 257.12h2.4v6.37h-2.4zM227.16 257.12h2.4v6.37h-2.4zM245.94 257.12h1.22v6.37h-1.22zM249.46 257.12h2.4v6.37h-2.4zM252.98 257.12h1.22v6.37h-1.22zM255.33 257.12h1.22v6.37h-1.22zM258.85 257.12h2.4v6.37h-2.4zM264.72 257.12h1.22v6.37h-1.22zM268.24 257.12h2.4v6.37h-2.4zM274.11 257.12h1.22v6.37h-1.22zM278.81 257.12h1.22v6.37h-1.22zM304.63 257.12h1.22v6.37h-1.22zM207.2 263.44h1.22v6.37h-1.22zM211.9 263.44h2.4v6.37h-2.4zM215.42 263.44h2.4v6.37h-2.4zM221.29 263.44h1.22v6.37h-1.22zM223.63 263.44h1.22v6.37h-1.22zM233.03 263.44h2.4v6.37h-2.4zM237.72 263.44h1.22v6.37h-1.22zM243.59 263.44h1.22v6.37h-1.22zM249.46 263.44h1.22v6.37h-1.22zM251.81 263.44h2.4v6.37h-2.4zM255.33 263.44h1.22v6.37h-1.22zM265.89 263.44h1.22v6.37h-1.22zM268.24 263.44h2.4v6.37h-2.4zM276.46 263.44h1.22v6.37h-1.22zM211.9 269.76h2.4v6.37h-2.4zM216.59 269.76h2.4v6.37h-2.4zM224.81 269.76h2.4v6.37h-2.4zM228.33 269.76h1.22v6.37h-1.22zM237.72 269.76h2.4v6.37h-2.4zM261.2 269.76h1.22v6.37h-1.22zM267.07 269.76h1.22v6.37h-1.22zM269.42 269.76h1.22v6.37h-1.22zM305.81 269.76h4.75v6.37h-4.75zM208.37 276.08h2.4v6.37h-2.4zM218.94 276.08h2.4v6.37h-2.4zM230.68 276.08h2.4v6.37h-2.4zM242.42 276.08h1.22v6.37h-1.22zM258.85 276.08h1.22v6.37h-1.22zM271.76 276.08h1.22v6.37h-1.22zM215.42 282.4h1.22v6.37h-1.22zM218.94 282.4h1.22v6.37h-1.22zM222.46 282.4h1.22v6.37h-1.22zM227.16 282.4h1.22v6.37h-1.22zM230.68 282.4h2.4v6.37h-2.4zM234.2 282.4h1.22v6.37h-1.22zM240.07 282.4h2.4v6.37h-2.4zM248.29 282.4h1.22v6.37h-1.22zM265.89 282.4h1.22v6.37h-1.22zM270.59 282.4h1.22v6.37h-1.22zM215.42 288.72h1.22v6.37h-1.22zM221.29 288.72h1.22v6.37h-1.22zM228.33 288.72h1.22v6.37h-1.22zM233.03 288.72h1.22v6.37h-1.22zM235.37 288.72h1.22v6.37h-1.22zM242.42 288.72h2.4v6.37h-2.4zM245.94 288.72h1.22v6.37h-1.22zM210.72 295.04h2.4v6.37h-2.4zM214.24 295.04h1.22v6.37h-1.22zM216.59 295.04h1.22v6.37h-1.22zM223.63 295.04h1.22v6.37h-1.22zM225.98 295.04h2.4v6.37h-2.4zM234.2 295.04h1.22v6.37h-1.22zM242.42 295.04h2.4v6.37h-2.4zM245.94 295.04h1.22v6.37h-1.22zM271.76 295.04h1.22v6.37h-1.22zM217.76 301.36h1.22v6.37h-1.22zM220.11 301.36h1.22v6.37h-1.22zM222.46 301.36h1.22v6.37h-1.22zM234.2 301.36h1.22v6.37h-1.22zM237.72 301.36h2.4v6.37h-2.4zM249.46 301.36h1.22v6.37h-1.22zM260.02 301.36h2.4v6.37h-2.4zM207.2 307.68h1.22v6.37h-1.22zM210.72 307.68h1.22v6.37h-1.22zM221.29 307.68h1.22v6.37h-1.22zM227.16 307.68h1.22v6.37h-1.22z"/>
<path fill="#65bcb0" d="M241.24 187.6h1.22v6.37h-1.22zM254.15 187.6h1.22v6.37h-1.22zM298.76 187.6h1.22v6.37h-1.22zM306.98 187.6h1.22v6.37h-1.22zM331.63 187.6h1.22v6.37h-1.22zM333.98 187.6h1.22v6.37h-1.22zM215.42 200.24h2.4v6.37h-2.4zM223.63 200.24h1.22v6.37h-1.22zM260.02 200.24h1.22v6.37h-1.22zM261.2 206.56h1.22v6.37h-1.22zM270.59 206.56h1.22v6.37h-1.22zM303.46 206.56h1.22v6.37h-1.22zM314.02 206.56h1.22v6.37h-1.22zM209.55 212.88h1.22v6.37h-1.22zM308.15 212.88h1.22v6.37h-1.22zM316.37 212.88h1.22v6.37h-1.22zM224.81 225.52h1.22v6.37h-1.22zM229.5 225.52h2.4v6.37h-2.4zM241.24 225.52h1.22v6.37h-1.22zM263.55 225.52h1.22v6.37h-1.22zM304.63 225.52h1.22v6.37h-1.22zM317.54 225.52h1.22v6.37h-1.22zM209.55 231.84h1.22v6.37h-1.22zM264.72 231.84h1.22v6.37h-1.22zM282.33 231.84h1.22v6.37h-1.22zM330.46 231.84h1.22v6.37h-1.22zM283.5 238.16h1.22v6.37h-1.22zM304.63 238.16h1.22v6.37h-1.22zM216.59 244.48h1.22v6.37h-1.22zM222.46 244.48h1.22v6.37h-1.22zM228.33 244.48h1.22v6.37h-1.22zM278.81 244.48h1.22v6.37h-1.22zM294.07 244.48h1.22v6.37h-1.22zM298.76 244.48h1.22v6.37h-1.22zM248.29 250.8h1.22v6.37h-1.22zM262.37 250.8h1.22v6.37h-1.22zM267.07 250.8h2.4v6.37h-2.4zM261.2 257.12h2.4v6.37h-2.4zM301.11 257.12h3.57v6.37h-3.57zM319.89 257.12h7.09v6.37h-7.09zM254.15 269.76h1.22v6.37h-1.22zM329.28 269.76h8.27v6.37h-8.27zM235.37 276.08h1.22v6.37h-1.22zM265.89 276.08h1.22v6.37h-1.22zM237.72 282.4h1.22v6.37h-1.22zM243.59 282.4h1.22v6.37h-1.22zM254.15 282.4h1.22v6.37h-1.22zM312.85 282.4h11.79v6.37h-11.79zM249.46 288.72h4.75v6.37h-4.75zM261.2 288.72h15.31v6.37h-15.31zM304.63 288.72h15.31v6.37h-15.31zM272.94 295.04h5.92v6.37h-5.92zM299.94 295.04h8.27v6.37h-8.27zM312.85 295.04h4.75v6.37h-4.75zM250.63 307.68h8.27v6.37h-8.27z"/>
<path fill="#be8030" d="M247.11 187.6h1.22v6.37h-1.22zM260.02 187.6h1.22v6.37h-1.22zM235.37 193.92h1.22v6.37h-1.22zM244.76 193.92h1.22v6.37h-1.22zM272.94 193.92h1.22v6.37h-1.22zM234.2 200.24h1.22v6.37h-1.22zM249.46 206.56h1.22v6.37h-1.22zM240.07 212.88h1.22v6.37h-1.22zM278.81 212.88h1.22v6.37h-1.22zM321.07 212.88h1.22v6.37h-1.22zM275.28 219.2h1.22v6.37h-1.22zM257.68 225.52h1.22v6.37h-1.22zM299.94 225.52h1.22v6.37h-1.22zM306.98 231.84h1.22v6.37h-1.22zM314.02 231.84h1.22v6.37h-1.22zM261.2 238.16h1.22v6.37h-1.22zM288.2 238.16h1.22v6.37h-1.22zM305.81 238.16h2.4v6.37h-2.4zM243.59 244.48h1.22v6.37h-1.22zM256.5 244.48h1.22v6.37h-1.22zM285.85 244.48h1.22v6.37h-1.22zM217.76 250.8h1.22v6.37h-1.22zM225.98 250.8h1.22v6.37h-1.22zM269.42 250.8h3.57v6.37h-3.57zM208.37 257.12h1.22v6.37h-1.22zM217.76 257.12h1.22v6.37h-1.22zM223.63 257.12h1.22v6.37h-1.22zM229.5 257.12h1.22v6.37h-1.22zM297.59 257.12h2.4v6.37h-2.4zM305.81 257.12h1.22v6.37h-1.22zM208.37 263.44h1.22v6.37h-1.22zM220.11 263.44h1.22v6.37h-1.22zM229.5 263.44h1.22v6.37h-1.22zM271.76 263.44h3.57v6.37h-3.57zM318.72 263.44h4.75v6.37h-4.75zM221.29 269.76h1.22v6.37h-1.22zM231.85 269.76h1.22v6.37h-1.22zM303.46 269.76h2.4v6.37h-2.4zM319.89 269.76h1.22v6.37h-1.22zM213.07 276.08h1.22v6.37h-1.22zM229.5 276.08h1.22v6.37h-1.22zM209.55 282.4h1.22v6.37h-1.22zM214.24 282.4h1.22v6.37h-1.22zM268.24 282.4h1.22v6.37h-1.22zM326.94 282.4h2.4v6.37h-2.4zM214.24 288.72h1.22v6.37h-1.22zM220.11 288.72h1.22v6.37h-1.22zM291.72 288.72h1.22v6.37h-1.22zM319.89 288.72h1.22v6.37h-1.22zM220.11 295.04h1.22v6.37h-1.22zM270.59 295.04h1.22v6.37h-1.22zM288.2 295.04h1.22v6.37h-1.22zM215.42 301.36h2.4v6.37h-2.4zM304.63 301.36h1.22v6.37h-1.22zM324.59 301.36h1.22v6.37h-1.22zM209.55 307.68h1.22v6.37h-1.22zM218.94 307.68h1.22v6.37h-1.22zM258.85 307.68h1.22v6.37h-1.22zM306.98 307.68h1.22v6.37h-1.22z"/>
<path fill="#cf9a4d" d="M248.29 187.6h1.22v6.37h-1.22zM297.59 187.6h1.22v6.37h-1.22zM330.46 193.92h2.4v6.37h-2.4zM289.37 200.24h1.22v6.37h-1.22zM332.8 200.24h1.22v6.37h-1.22zM298.76 206.56h1.22v6.37h-1.22zM314.02 212.88h1.22v6.37h-1.22zM262.37 219.2h1.22v6.37h-1.22zM287.02 219.2h1.22v6.37h-1.22zM312.85 225.52h1.22v6.37h-1.22zM330.46 225.52h1.22v6.37h-1.22zM258.85 231.84h1.22v6.37h-1.22zM267.07 244.48h1.22v6.37h-1.22zM233.03 250.8h1.22v6.37h-1.22zM257.68 250.8h1.22v6.37h-1.22zM261.2 250.8h1.22v6.37h-1.22zM264.72 250.8h1.22v6.37h-1.22zM210.72 257.12h1.22v6.37h-1.22zM214.24 257.12h1.22v6.37h-1.22zM235.37 257.12h1.22v6.37h-1.22zM242.42 257.12h1.22v6.37h-1.22zM244.76 257.12h1.22v6.37h-1.22zM251.81 257.12h1.22v6.37h-1.22zM256.5 257.12h2.4v6.37h-2.4zM272.94 257.12h1.22v6.37h-1.22zM282.33 257.12h1.22v6.37h-1.22zM296.41 257.12h1.22v6.37h-1.22zM328.11 257.12h2.4v6.37h-2.4zM227.16 263.44h1.22v6.37h-1.22zM231.85 263.44h1.22v6.37h-1.22zM236.55 263.44h1.22v6.37h-1.22zM238.89 263.44h1.22v6.37h-1.22zM257.68 263.44h1.22v6.37h-1.22zM260.02 263.44h1.22v6.37h-1.22zM289.37 263.44h3.57v6.37h-3.57zM298.76 263.44h1.22v6.37h-1.22zM209.55 269.76h1.22v6.37h-1.22zM220.11 269.76h1.22v6.37h-1.22zM233.03 269.76h1.22v6.37h-1.22zM244.76 269.76h1.22v6.37h-1.22zM252.98 269.76h1.22v6.37h-1.22zM264.72 269.76h1.22v6.37h-1.22zM275.28 269.76h1.22v6.37h-1.22zM207.2 276.08h1.22v6.37h-1.22zM211.9 276.08h1.22v6.37h-1.22zM214.24 276.08h1.22v6.37h-1.22zM243.59 276.08h1.22v6.37h-1.22zM249.46 276.08h1.22v6.37h-1.22zM252.98 276.08h1.22v6.37h-1.22zM256.5 276.08h2.4v6.37h-2.4zM304.63 276.08h2.4v6.37h-2.4zM312.85 276.08h2.4v6.37h-2.4zM216.59 282.4h1.22v6.37h-1.22zM247.11 282.4h1.22v6.37h-1.22zM255.33 282.4h1.22v6.37h-1.22zM207.2 288.72h2.4v6.37h-2.4zM210.72 288.72h1.22v6.37h-1.22zM217.76 288.72h1.22v6.37h-1.22zM231.85 288.72h1.22v6.37h-1.22zM240.07 288.72h1.22v6.37h-1.22zM209.55 295.04h1.22v6.37h-1.22zM213.07 295.04h1.22v6.37h-1.22zM215.42 295.04h1.22v6.37h-1.22zM222.46 295.04h1.22v6.37h-1.22zM224.81 295.04h1.22v6.37h-1.22zM241.24 295.04h1.22v6.37h-1.22zM258.85 295.04h1.22v6.37h-1.22zM214.24 301.36h1.22v6.37h-1.22zM223.63 301.36h2.4v6.37h-2.4zM230.68 301.36h1.22v6.37h-1.22zM314.02 301.36h3.57v6.37h-3.57zM216.59 307.68h1.22v6.37h-1.22zM223.63 307.68h1.22v6.37h-1.22zM228.33 307.68h2.4v6.37h-2.4zM237.72 307.68h1.22v6.37h-1.22zM243.59 307.68h1.22v6.37h-1.22zM245.94 307.68h1.22v6.37h-1.22zM325.76 307.68h1.22v6.37h-1.22z"/>
<path fill="#804c10" d="M290.55 193.92h1.22v6.37h-1.22zM275.28 206.56h1.22v6.37h-1.22zM272.94 212.88h1.22v6.37h-1.22zM233.03 219.2h1.22v6.37h-1.22zM324.59 225.52h1.22v6.37h-1.22zM319.89 231.84h1.22v6.37h-1.22zM318.72 238.16h1.22v6.37h-1.22zM295.24 244.48h1.22v6.37h-1.22zM309.33 244.48h1.22v6.37h-1.22zM215.42 250.8h1.22v6.37h-1.22zM218.94 263.44h1.22v6.37h-1.22zM207.2 269.76h2.4v6.37h-2.4zM218.94 269.76h1.22v6.37h-1.22zM229.5 269.76h1.22v6.37h-1.22zM217.76 276.08h1.22v6.37h-1.22zM222.46 276.08h1.22v6.37h-1.22zM227.16 276.08h1.22v6.37h-1.22zM225.98 282.4h1.22v6.37h-1.22zM218.94 288.72h1.22v6.37h-1.22zM223.63 288.72h2.4v6.37h-2.4zM227.16 288.72h1.22v6.37h-1.22zM210.72 301.36h1.22v6.37h-1.22zM218.94 301.36h1.22v6.37h-1.22zM228.33 301.36h1.22v6.37h-1.22zM215.42 307.68h1.22v6.37h-1.22z"/>
<path fill="#b2762a" d="M235.37 250.8h1.22v6.37h-1.22zM241.24 250.8h1.22v6.37h-1.22zM260.02 250.8h1.22v6.37h-1.22zM248.29 257.12h1.22v6.37h-1.22zM284.68 257.12h1.22v6.37h-1.22zM264.72 263.44h1.22v6.37h-1.22zM248.29 269.76h2.4v6.37h-2.4zM257.68 269.76h1.22v6.37h-1.22zM268.24 276.08h1.22v6.37h-1.22zM252.98 282.4h1.22v6.37h-1.22zM262.37 282.4h1.22v6.37h-1.22zM236.55 288.72h1.22v6.37h-1.22zM237.72 295.04h1.22v6.37h-1.22zM244.76 307.68h1.22v6.37h-1.22z"/>
<path fill="#5bb4a8" d="M272.94 250.8h11.79v6.37h-11.79zM315.2 250.8h4.75v6.37h-4.75zM288.2 257.12h8.27v6.37h-8.27zM314.02 257.12h5.92v6.37h-5.92zM330.46 257.12h7.09v6.37h-7.09zM330.46 282.4h5.92v6.37h-5.92z"/>
<path fill="#46a497" d="M290.55 250.8h9.44v6.37h-9.44zM319.89 250.8h11.79v6.37h-11.79zM328.11 263.44h2.4v6.37h-2.4zM298.76 282.4h7.09v6.37h-7.09z"/>
<path fill="#2d8b7f" d="M301.11 250.8h10.61v6.37h-10.61zM241.24 301.36h8.27v6.37h-8.27zM325.76 301.36h11.79v6.37h-11.79z"/>
<path fill="#70c4b8" d="M306.98 257.12h7.09v6.37h-7.09zM289.37 282.4h7.09v6.37h-7.09zM336.33 282.4h1.22v6.37h-1.22zM265.89 307.68h11.79v6.37h-11.79z"/>
<path fill="#84cdc2" d="M255.33 288.72h5.92v6.37h-5.92zM279.98 288.72h3.57v6.37h-3.57zM321.07 288.72h4.75v6.37h-4.75zM261.2 295.04h8.27v6.37h-8.27zM278.81 295.04h9.44v6.37h-9.44zM283.5 307.68h5.92v6.37h-5.92zM318.72 307.68h7.09v6.37h-7.09z"/>
<path fill="#acded5" d="M291.72 307.68h8.27v6.37h-8.27zM308.15 307.68h10.61v6.37h-10.61zM326.94 307.68h10.61v6.37h-10.61z"/>
<rect x="207.2" y="187.6" width="130.3" height="126.4" fill="none" stroke="#999" stroke-width="0.6"/>
<text x="339.8" y="192.56" font-size="5.0" fill="#222" textLength="15.41" lengthAdjust="spacingAndGlyphs">RPS6</text>
<text x="339.8" y="198.88" font-size="5.0" fill="#222" textLength="29.52" lengthAdjust="spacingAndGlyphs">SLC9A3R2</text>
<text x="339.8" y="205.2" font-size="5.0" fill="#222" textLength="15.75" lengthAdjust="spacingAndGlyphs">DDX5</text>
<text x="339.8" y="211.52" font-size="5.0" fill="#222" textLength="21" lengthAdjust="spacingAndGlyphs">S100A9</text>
<text x="339.8" y="217.84" font-size="5.0" fill="#222" textLength="25.91" lengthAdjust="spacingAndGlyphs">EHBP1L1</text>
<text x="339.8" y="224.16" font-size="5.0" fill="#222" textLength="21.98" lengthAdjust="spacingAndGlyphs">SLC4A1</text>
<text x="339.8" y="230.48" font-size="5.0" fill="#222" textLength="16.07" lengthAdjust="spacingAndGlyphs">MAP4</text>
<text x="339.8" y="236.8" font-size="5.0" fill="#222" textLength="13.12" lengthAdjust="spacingAndGlyphs">IGF2</text>
<text x="339.8" y="243.12" font-size="5.0" fill="#222" textLength="11.81" lengthAdjust="spacingAndGlyphs">NCL</text>
<text x="339.8" y="249.44" font-size="5.0" fill="#222" textLength="19.35" lengthAdjust="spacingAndGlyphs">RUFY1</text>
<text x="339.8" y="255.76" font-size="5.0" fill="#222" textLength="23.28" lengthAdjust="spacingAndGlyphs">NDUFA1</text>
<text x="339.8" y="262.08" font-size="5.0" fill="#222" textLength="18.7" lengthAdjust="spacingAndGlyphs">RAB32</text>
<text x="339.8" y="268.4" font-size="5.0" fill="#222" textLength="25.25" lengthAdjust="spacingAndGlyphs">PGRMC1</text>
<text x="339.8" y="274.72" font-size="5.0" fill="#222" textLength="19.02" lengthAdjust="spacingAndGlyphs">TUBB1</text>
<text x="339.8" y="281.04" font-size="5.0" fill="#222" textLength="17.06" lengthAdjust="spacingAndGlyphs">SRGN</text>
<text x="339.8" y="287.36" font-size="5.0" fill="#222" textLength="11.48" lengthAdjust="spacingAndGlyphs">CA2</text>
<text x="339.8" y="293.68" font-size="5.0" fill="#222" textLength="27.21" lengthAdjust="spacingAndGlyphs">TMEM140</text>
<text x="339.8" y="300" font-size="5.0" fill="#222" textLength="13.45" lengthAdjust="spacingAndGlyphs">IFI30</text>
<text x="339.8" y="306.32" font-size="5.0" fill="#222" textLength="20.66" lengthAdjust="spacingAndGlyphs">MOB1A</text>
<text x="339.8" y="312.64" font-size="5.0" fill="#222" textLength="17.05" lengthAdjust="spacingAndGlyphs">GZMA</text>
<text x="374.7" y="236.8" font-size="4.6" fill="#222" textLength="19.6" lengthAdjust="spacingAndGlyphs">Zscore</text>
<defs><linearGradient id="zg" x1="0" x2="0" y1="0" y2="1"><stop offset="0.000" stop-color="#804c10"/><stop offset="0.125" stop-color="#be8030"/><stop offset="0.250" stop-color="#daac60"/><stop offset="0.375" stop-color="#edd5a4"/><stop offset="0.500" stop-color="#f6f4ec"/><stop offset="0.625" stop-color="#98d5cb"/><stop offset="0.750" stop-color="#50aca0"/><stop offset="0.875" stop-color="#0e6c60"/><stop offset="1.000" stop-color="#04483e"/></linearGradient></defs>
<rect x="374.7" y="239.8" width="7" height="28.9" fill="url(#zg)" stroke="#333" stroke-width="0.35"/>
<path d="M374.7 241 h1.2 M380.5 241 h1.2" stroke="#333" stroke-width="0.4"/>
<text x="383" y="242.6" font-size="4.6" fill="#222">2</text>
<path d="M374.7 247.5 h1.2 M380.5 247.5 h1.2" stroke="#333" stroke-width="0.4"/>
<text x="383" y="249.1" font-size="4.6" fill="#222">1</text>
<path d="M374.7 254.2 h1.2 M380.5 254.2 h1.2" stroke="#333" stroke-width="0.4"/>
<text x="383" y="255.8" font-size="4.6" fill="#222">0</text>
<path d="M374.7 260.7 h1.2 M380.5 260.7 h1.2" stroke="#333" stroke-width="0.4"/>
<text x="383" y="262.3" font-size="4.6" fill="#222">−1</text>
<path d="M374.7 267.6 h1.2 M380.5 267.6 h1.2" stroke="#333" stroke-width="0.4"/>
<text x="383" y="269.2" font-size="4.6" fill="#222">−2</text>
<text x="398.8" y="236.8" font-size="4.6" fill="#222" textLength="17.9" lengthAdjust="spacingAndGlyphs">Group</text>
<rect x="398.1" y="240" width="6.8" height="5.2" fill="#EE6352" stroke="#333" stroke-width="0.35"/><rect x="398.1" y="245.3" width="6.8" height="5.3" fill="#3E8DBA" stroke="#333" stroke-width="0.35"/>
<text x="406.7" y="244.3" font-size="4.6" fill="#222" textLength="7.3" lengthAdjust="spacingAndGlyphs">CP</text>
<text x="406.7" y="249.7" font-size="4.6" fill="#222" textLength="7.6" lengthAdjust="spacingAndGlyphs">NC</text>
<text transform="translate(425.05 200.3) scale(0.962 1)" font-size="19.5" font-weight="bold" fill="#000">e</text>
<rect x="537.1" y="187.65" width="33.1" height="4.3" fill="#EE6352"/>
<text x="535.8" y="191.45" font-size="4.85" text-anchor="end" fill="#222">Cytoplasmic ribonucleoprotein granule</text>
<rect x="537.1" y="194.15" width="33.1" height="4.3" fill="#EE6352"/>
<text x="535.8" y="197.95" font-size="4.85" text-anchor="end" fill="#222">Ribonucleoprotein granule</text>
<rect x="537.1" y="200.75" width="16.7" height="4.3" fill="#EE6352"/>
<text x="535.8" y="204.55" font-size="4.85" text-anchor="end" fill="#222">Translation</text>
<rect x="537.1" y="207.05" width="16.7" height="4.3" fill="#EE6352"/>
<text x="535.8" y="210.85" font-size="4.85" text-anchor="end" fill="#222">Peptide biosynthetic process</text>
<rect x="537.1" y="213.25" width="16.7" height="4.3" fill="#EE6352"/>
<text x="535.8" y="217.05" font-size="4.85" text-anchor="end" fill="#222">Peptide metabolic process</text>
<rect x="537.1" y="219.75" width="16.7" height="4.3" fill="#EE6352"/>
<text x="535.8" y="223.55" font-size="4.85" text-anchor="end" fill="#222">Amide biosynthetic process</text>
<rect x="537.1" y="226.05" width="15.3" height="4.3" fill="#EE6352"/>
<text x="535.8" y="229.85" font-size="4.85" text-anchor="end" fill="#222">Erythrocyte development</text>
<rect x="537.1" y="232.25" width="14.7" height="4.3" fill="#EE6352"/>
<text x="535.8" y="236.05" font-size="4.85" text-anchor="end" fill="#222">Cytosolic ribosome</text>
<rect x="537.1" y="238.55" width="13.5" height="4.3" fill="#EE6352"/>
<text x="535.8" y="242.35" font-size="4.85" text-anchor="end" fill="#222">Toll−like receptor 4 binding</text>
<rect x="537.1" y="244.65" width="13.5" height="4.3" fill="#EE6352"/>
<text x="535.8" y="248.45" font-size="4.85" text-anchor="end" fill="#222">DNA topoisomerase binding</text>
<rect x="494.8" y="251.25" width="42.3" height="4.3" fill="#3A8DB5"/>
<text x="538.7" y="255.05" font-size="4.85" fill="#222">Regulation of body fluid levels</text>
<rect x="494.8" y="257.55" width="42.3" height="4.3" fill="#3A8DB5"/>
<text x="538.7" y="261.35" font-size="4.85" fill="#222">Mediator complex</text>
<rect x="494.8" y="263.65" width="42.3" height="4.3" fill="#3A8DB5"/>
<text x="538.7" y="267.45" font-size="4.85" fill="#222">Platelet alpha granule membrane</text>
<rect x="489" y="270.05" width="48.1" height="4.3" fill="#3A8DB5"/>
<text x="538.7" y="273.85" font-size="4.85" fill="#222">Regulation of platelet activation</text>
<rect x="482.1" y="276.35" width="55" height="4.3" fill="#3A8DB5"/>
<text x="538.7" y="280.15" font-size="4.85" fill="#222">Wound healing</text>
<rect x="472.7" y="282.75" width="64.4" height="4.3" fill="#3A8DB5"/>
<text x="538.7" y="286.55" font-size="4.85" fill="#222">Platelet alpha granule</text>
<rect x="460" y="289.05" width="77.1" height="4.3" fill="#3A8DB5"/>
<text x="538.7" y="292.85" font-size="4.85" fill="#222">Blood coagulation</text>
<rect x="460" y="295.55" width="77.1" height="4.3" fill="#3A8DB5"/>
<text x="538.7" y="299.35" font-size="4.85" fill="#222">Coagulation</text>
<rect x="460" y="301.85" width="77.1" height="4.3" fill="#3A8DB5"/>
<text x="538.7" y="305.65" font-size="4.85" fill="#222">Hemostasis</text>
<rect x="457" y="308.05" width="80.1" height="4.3" fill="#3A8DB5"/>
<text x="538.7" y="311.85" font-size="4.85" fill="#222">Platelet activation</text>
<path d="M445.3 313.9 H629.8" stroke="#666" stroke-width="0.8"/>
<path d="M489 313.9 v1.2" stroke="#666" stroke-width="0.5"/>
<text x="489" y="319.2" font-size="3.8" text-anchor="middle" fill="#333">5</text>
<path d="M537.2 313.9 v1.2" stroke="#666" stroke-width="0.5"/>
<text x="537.2" y="319.2" font-size="3.8" text-anchor="middle" fill="#333">0</text>
<path d="M585.4 313.9 v1.2" stroke="#666" stroke-width="0.5"/>
<text x="585.4" y="319.2" font-size="3.8" text-anchor="middle" fill="#333">5</text>
<text x="537.8" y="324.6" font-size="6.6" text-anchor="middle" fill="#222">−Log<tspan font-size="4.3" dy="1.3">10</tspan><tspan dy="-1.3"> FDR</tspan></text>
<rect x="600" y="190.8" width="6.7" height="6.2" fill="#EE6352"/><rect x="600" y="198.3" width="6.7" height="5.8" fill="#3A8DB5"/>
<text x="610.9" y="196.4" font-size="6.3" fill="#222">Up</text>
<text x="610.9" y="203.5" font-size="6.3" fill="#222">Down</text>
<text transform="translate(1.65 348.4) scale(1.353 1)" font-size="20.5" font-weight="bold" fill="#000">f</text>
<ellipse cx="91.9" cy="390.4" rx="64.6" ry="26.8" transform="rotate(43.3 91.9 390.4)" fill="#6AAFD3" fill-opacity="0.25" stroke="#3A98C4" stroke-width="0.95"/>
<ellipse cx="58.6" cy="399" rx="13.5" ry="5.2" transform="rotate(-17 58.6 399)" fill="#EF6450" fill-opacity="0.22" stroke="#E8594A" stroke-width="0.95"/>
<g fill="#EF6450" stroke="#111" stroke-width="0.75"><circle cx="56.87" cy="399.63" r="2.3"/><circle cx="62.09" cy="399.22" r="2.3"/><circle cx="55.76" cy="398.09" r="2.3"/><circle cx="61.85" cy="402.55" r="2.3"/><circle cx="57.31" cy="400.5" r="2.3"/><circle cx="57.99" cy="401.54" r="2.3"/><circle cx="57.99" cy="398.84" r="2.3"/><circle cx="58.41" cy="397.67" r="2.3"/><circle cx="59.07" cy="400.6" r="2.3"/><circle cx="64.9" cy="393.87" r="2.3"/><circle cx="55.95" cy="397.24" r="2.3"/><circle cx="59.52" cy="401" r="2.3"/><circle cx="54.86" cy="399.38" r="2.3"/><circle cx="57" cy="398.54" r="2.3"/><circle cx="57.68" cy="400.32" r="2.3"/><circle cx="62.5" cy="398.15" r="2.3"/><circle cx="60.07" cy="395.92" r="2.3"/><circle cx="57.93" cy="394.01" r="2.3"/><circle cx="57.22" cy="396.4" r="2.3"/><circle cx="63.57" cy="394.93" r="2.3"/><circle cx="68.62" cy="397.81" r="2.3"/><circle cx="54.84" cy="399.3" r="2.3"/><circle cx="58.8" cy="394.77" r="2.3"/><circle cx="66.87" cy="396.02" r="2.3"/><circle cx="64.37" cy="400.28" r="2.3"/><circle cx="60.49" cy="397.79" r="2.3"/><circle cx="57.88" cy="395.32" r="2.3"/><circle cx="58.38" cy="396.17" r="2.3"/><circle cx="57.61" cy="401.2" r="2.3"/><circle cx="62.13" cy="401.95" r="2.3"/><circle cx="63.87" cy="399.99" r="2.3"/><circle cx="58.2" cy="396.77" r="2.3"/><circle cx="67.33" cy="400.83" r="2.3"/><circle cx="67.07" cy="396.47" r="2.3"/><circle cx="62.3" cy="395.31" r="2.3"/><circle cx="59.6" cy="401" r="2.3"/><circle cx="66.51" cy="397.43" r="2.3"/><circle cx="61.6" cy="395.79" r="2.3"/><circle cx="62.71" cy="397.2" r="2.3"/><circle cx="60.31" cy="401.3" r="2.3"/><circle cx="51.82" cy="397.48" r="2.3"/><circle cx="69.06" cy="397.11" r="2.3"/><circle cx="68.48" cy="398.53" r="2.3"/><circle cx="59.98" cy="397.81" r="2.3"/><circle cx="63.57" cy="396.28" r="2.3"/><circle cx="59.13" cy="398.87" r="2.3"/><circle cx="62.46" cy="401.47" r="2.3"/><circle cx="63.13" cy="399.18" r="2.3"/><circle cx="61.49" cy="400.35" r="2.3"/><circle cx="69.71" cy="400.97" r="2.3"/><circle cx="62.41" cy="397.08" r="2.3"/><circle cx="64.25" cy="399.78" r="2.3"/><circle cx="68.65" cy="396.05" r="2.3"/><circle cx="65.95" cy="400.8" r="2.3"/><circle cx="65.95" cy="397.84" r="2.3"/><circle cx="59.88" cy="395.62" r="2.3"/><circle cx="55.32" cy="396.08" r="2.3"/><circle cx="61.57" cy="398.95" r="2.3"/><circle cx="59.86" cy="399.05" r="2.3"/><circle cx="61.22" cy="398.46" r="2.3"/><circle cx="57.03" cy="401.78" r="2.3"/><circle cx="63.13" cy="399.91" r="2.3"/><circle cx="62.99" cy="398.6" r="2.3"/><circle cx="53.33" cy="403.54" r="2.3"/><circle cx="61.28" cy="399.02" r="2.3"/><circle cx="63.15" cy="395.93" r="2.3"/><circle cx="56.11" cy="400.09" r="2.3"/><circle cx="59.44" cy="398.22" r="2.3"/><circle cx="55.72" cy="394.21" r="2.3"/><circle cx="65.63" cy="401.55" r="2.3"/><circle cx="62.33" cy="394.5" r="2.3"/><circle cx="57.58" cy="396.31" r="2.3"/><circle cx="53" cy="395.57" r="2.3"/><circle cx="61.75" cy="394.87" r="2.3"/><circle cx="61.1" cy="397.64" r="2.3"/><circle cx="59.54" cy="398.34" r="2.3"/><circle cx="55.78" cy="396.13" r="2.3"/><circle cx="57.8" cy="398.33" r="2.3"/><circle cx="68.55" cy="397.99" r="2.3"/><circle cx="54.91" cy="398.58" r="2.3"/><circle cx="59.44" cy="396.88" r="2.3"/><circle cx="75.22" cy="389.57" r="2.3"/><circle cx="75.92" cy="397.74" r="2.3"/><circle cx="84.56" cy="405.92" r="2.3"/><circle cx="96.94" cy="405.22" r="2.3"/><circle cx="56.06" cy="393.54" r="2.3"/><circle cx="68.91" cy="398.91" r="2.3"/><circle cx="66.11" cy="393.54" r="2.3"/><circle cx="70.08" cy="396.11" r="2.3"/></g>
<g fill="#3D9BC6" stroke="#111" stroke-width="0.75"><circle cx="79.42" cy="367.37" r="2.3"/><circle cx="83.39" cy="369.71" r="2.3"/><circle cx="75.92" cy="374.38" r="2.3"/><circle cx="81.29" cy="375.08" r="2.3"/><circle cx="91.1" cy="376.02" r="2.3"/><circle cx="72.88" cy="378.59" r="2.3"/><circle cx="83.63" cy="382.56" r="2.3"/><circle cx="80.12" cy="385.13" r="2.3"/><circle cx="71.25" cy="388.4" r="2.3"/><circle cx="99.98" cy="391.2" r="2.3"/><circle cx="109.32" cy="394.24" r="2.3"/><circle cx="120.3" cy="392.37" r="2.3"/><circle cx="88.76" cy="396.57" r="2.3"/><circle cx="83.63" cy="398.21" r="2.3"/><circle cx="89.93" cy="401.25" r="2.3"/><circle cx="94.6" cy="404.28" r="2.3"/><circle cx="113.99" cy="403.58" r="2.3"/><circle cx="102.31" cy="407.08" r="2.3"/><circle cx="106.98" cy="411.76" r="2.3"/><circle cx="129.88" cy="419" r="2.3"/><circle cx="111.42" cy="426.47" r="2.3"/><circle cx="81.29" cy="383.26" r="2.3"/></g>
<rect x="38.1" y="337.5" width="106.7" height="107" fill="none" stroke="#222" stroke-width="1"/>
<path d="M36.5 339.3 H38.1" stroke="#333" stroke-width="0.6"/>
<text x="35.9" y="341.17" font-size="5.2" text-anchor="end" fill="#333">40</text>
<path d="M36.5 368.5 H38.1" stroke="#333" stroke-width="0.6"/>
<text x="35.9" y="370.37" font-size="5.2" text-anchor="end" fill="#333">20</text>
<path d="M36.5 397.7 H38.1" stroke="#333" stroke-width="0.6"/>
<text x="35.9" y="399.57" font-size="5.2" text-anchor="end" fill="#333">0</text>
<path d="M36.5 426.9 H38.1" stroke="#333" stroke-width="0.6"/>
<text x="35.9" y="428.77" font-size="5.2" text-anchor="end" fill="#333">−20</text>
<path d="M41.7 444.5 V446.1" stroke="#333" stroke-width="0.6"/>
<text x="41.7" y="450.52" font-size="5.2" text-anchor="middle" fill="#333">−20</text>
<path d="M67.7 444.5 V446.1" stroke="#333" stroke-width="0.6"/>
<text x="67.7" y="450.52" font-size="5.2" text-anchor="middle" fill="#333">0</text>
<path d="M93.7 444.5 V446.1" stroke="#333" stroke-width="0.6"/>
<text x="93.7" y="450.52" font-size="5.2" text-anchor="middle" fill="#333">20</text>
<path d="M119.7 444.5 V446.1" stroke="#333" stroke-width="0.6"/>
<text x="119.7" y="450.52" font-size="5.2" text-anchor="middle" fill="#333">40</text>
<text x="91.1" y="460" font-size="7.2" font-weight="bold" text-anchor="middle" fill="#222">PC1</text>
<text transform="translate(22.4 391.2) rotate(-90)" font-size="7.2" font-weight="bold" text-anchor="middle" fill="#222">PC2</text>
<rect x="155.1" y="384" width="8.9" height="8.4" fill="#D2E6F0" stroke="#3A98C4" stroke-width="0.8"/>
<circle cx="159.55" cy="388.2" r="2.4" fill="#3D9BC6" stroke="#1a1a1a" stroke-width="0.55"/>
<rect x="155.1" y="393.9" width="8.9" height="8.4" fill="#F8D3CD" stroke="#E8594A" stroke-width="0.8"/>
<circle cx="159.55" cy="398.1" r="2.4" fill="#EF6450" stroke="#1a1a1a" stroke-width="0.55"/>
<text x="167.4" y="390.9" font-size="7.5" fill="#222">NC</text>
<text x="167.4" y="400.8" font-size="7.5" fill="#222">CP</text>
<text transform="translate(173.05 348.2) scale(0.926 1)" font-size="20.3" font-weight="bold" fill="#000">g</text>
<rect x="255.5" y="346.6" width="64" height="5.2" fill="#EE6352"/>
<text x="254.9" y="350.7" font-size="4.7" text-anchor="end" fill="#222" textLength="53.8" lengthAdjust="spacingAndGlyphs">Systemic lupus erythematosus</text>
<rect x="255.5" y="356.4" width="61" height="5.2" fill="#EE6352"/>
<text x="254.9" y="360.5" font-size="4.7" text-anchor="end" fill="#222" textLength="66.2" lengthAdjust="spacingAndGlyphs">Neutrophil extracellular trap formation</text>
<rect x="255.5" y="365.9" width="50" height="5.2" fill="#EE6352"/>
<text x="254.9" y="370" font-size="4.7" text-anchor="end" fill="#222" textLength="19" lengthAdjust="spacingAndGlyphs">Alcoholism</text>
<rect x="255.5" y="375.5" width="40.6" height="5.2" fill="#EE6352"/>
<text x="254.9" y="379.6" font-size="4.7" text-anchor="end" fill="#222" textLength="35.8" lengthAdjust="spacingAndGlyphs">Viral carcinogenesis</text>
<rect x="255.5" y="384.9" width="29.7" height="5.2" fill="#EE6352"/>
<text x="254.9" y="389" font-size="4.7" text-anchor="end" fill="#222" textLength="67.8" lengthAdjust="spacingAndGlyphs">Transcriptional misregulation in cancer</text>
<rect x="246.4" y="394.8" width="9.1" height="5.2" fill="#3A8DB5"/>
<text x="256.9" y="398.9" font-size="4.7" fill="#222" textLength="48.6" lengthAdjust="spacingAndGlyphs">Homologous recombination</text>
<rect x="246" y="404.3" width="9.5" height="5.2" fill="#3A8DB5"/>
<text x="256.9" y="408.4" font-size="4.7" fill="#222" textLength="70.7" lengthAdjust="spacingAndGlyphs">Glycosphingolipid biosynthesis − ganglio</text>
<rect x="245" y="413.7" width="10.5" height="5.2" fill="#3A8DB5"/>
<text x="256.9" y="417.8" font-size="4.7" fill="#222" textLength="37.2" lengthAdjust="spacingAndGlyphs">Viral life cycle − HIV-1</text>
<rect x="245" y="423.6" width="10.5" height="5.2" fill="#3A8DB5"/>
<text x="256.9" y="427.7" font-size="4.7" fill="#222" textLength="16.8" lengthAdjust="spacingAndGlyphs">Cell cycle</text>
<rect x="240.5" y="433.1" width="15" height="5.2" fill="#3A8DB5"/>
<text x="256.9" y="437.2" font-size="4.7" fill="#222" textLength="56.6" lengthAdjust="spacingAndGlyphs">Herpes simplex virus 1 infection</text>
<path d="M182.4 441.1 H328.4" stroke="#444" stroke-width="0.8"/>
<path d="M197.8 441.1 v1.2" stroke="#444" stroke-width="0.5"/>
<text x="197.8" y="447" font-size="3.7" text-anchor="middle" fill="#333">10</text>
<path d="M227.1 441.1 v1.2" stroke="#444" stroke-width="0.5"/>
<text x="227.1" y="447" font-size="3.7" text-anchor="middle" fill="#333">5</text>
<path d="M255.6 441.1 v1.2" stroke="#444" stroke-width="0.5"/>
<text x="255.6" y="447" font-size="3.7" text-anchor="middle" fill="#333">0</text>
<path d="M284.7 441.1 v1.2" stroke="#444" stroke-width="0.5"/>
<text x="284.7" y="447" font-size="3.7" text-anchor="middle" fill="#333">5</text>
<path d="M313.5 441.1 v1.2" stroke="#444" stroke-width="0.5"/>
<text x="313.5" y="447" font-size="3.7" text-anchor="middle" fill="#333">10</text>
<text x="256.5" y="452.0" font-size="5.0" text-anchor="middle" fill="#222">−Log<tspan font-size="3.6" dy="1.1">10</tspan><tspan dy="-1.1" font-style="italic"> P</tspan><tspan font-style="italic">-value</tspan></text>
<rect x="192.8" y="423.5" width="6.2" height="6.2" fill="#EE6352"/><rect x="192.8" y="430.5" width="6.2" height="6.2" fill="#3A8DB5"/>
<text x="201" y="428.4" font-size="4.8" fill="#222" textLength="21" lengthAdjust="spacingAndGlyphs">Cis-mRNA</text>
<text x="201" y="435.6" font-size="4.8" fill="#222" textLength="26.5" lengthAdjust="spacingAndGlyphs">Trans-mRNA</text>
<text transform="translate(331.03 348.5) scale(0.884 1)" font-size="20.5" font-weight="bold" fill="#000">h</text>
<ellipse cx="396" cy="391.5" rx="37.5" ry="47.2" transform="rotate(-8 396 391.5)" fill="#EF6450" fill-opacity="0.22" stroke="#E8594A" stroke-width="0.95"/>
<ellipse cx="429" cy="387" rx="29" ry="15.4" transform="rotate(-4 429 387)" fill="#6AAFD3" fill-opacity="0.25" stroke="#3A98C4" stroke-width="0.95"/>
<g fill="#EF6450" stroke="#111" stroke-width="0.75"><circle cx="389.57" cy="355.23" r="2.3"/><circle cx="397.04" cy="356.4" r="2.3"/><circle cx="380.92" cy="367.37" r="2.3"/><circle cx="384.89" cy="366.21" r="2.3"/><circle cx="387.23" cy="366.91" r="2.3"/><circle cx="405.22" cy="365.04" r="2.3"/><circle cx="388.4" cy="370.18" r="2.3"/><circle cx="392.6" cy="372.05" r="2.3"/><circle cx="396.57" cy="374.38" r="2.3"/><circle cx="379.05" cy="375.55" r="2.3"/><circle cx="380.92" cy="379.05" r="2.3"/><circle cx="408.95" cy="373.91" r="2.3"/><circle cx="401.25" cy="374.85" r="2.3"/><circle cx="375.78" cy="380.92" r="2.3"/><circle cx="373.91" cy="383.73" r="2.3"/><circle cx="379.52" cy="385.13" r="2.3"/><circle cx="387.93" cy="381.86" r="2.3"/><circle cx="386.53" cy="384.89" r="2.3"/><circle cx="383.26" cy="386.06" r="2.3"/><circle cx="391.2" cy="385.59" r="2.3"/><circle cx="400.08" cy="379.05" r="2.3"/><circle cx="404.28" cy="381.86" r="2.3"/><circle cx="407.08" cy="386.06" r="2.3"/><circle cx="411.29" cy="381.39" r="2.3"/><circle cx="414.56" cy="383.73" r="2.3"/><circle cx="418.76" cy="386.06" r="2.3"/><circle cx="398.91" cy="388.4" r="2.3"/><circle cx="395.41" cy="387.23" r="2.3"/><circle cx="393.54" cy="391.2" r="2.3"/><circle cx="390.27" cy="392.6" r="2.3"/><circle cx="374.38" cy="388.4" r="2.3"/><circle cx="377.89" cy="389.57" r="2.3"/><circle cx="404.28" cy="391.9" r="2.3"/><circle cx="410.59" cy="390.73" r="2.3"/><circle cx="416.9" cy="387.23" r="2.3"/><circle cx="422.27" cy="383.73" r="2.3"/><circle cx="381.39" cy="401.25" r="2.3"/><circle cx="384.89" cy="405.92" r="2.3"/><circle cx="388.86" cy="401.25" r="2.3"/><circle cx="393.07" cy="400.08" r="2.3"/><circle cx="396.57" cy="402.41" r="2.3"/><circle cx="400.08" cy="397.74" r="2.3"/><circle cx="391.2" cy="397.27" r="2.3"/><circle cx="387.23" cy="397.74" r="2.3"/><circle cx="394.94" cy="395.41" r="2.3"/><circle cx="388.4" cy="407.08" r="2.3"/><circle cx="391.9" cy="411.76" r="2.3"/><circle cx="395.41" cy="412.22" r="2.3"/><circle cx="398.91" cy="410.59" r="2.3"/><circle cx="402.41" cy="410.59" r="2.3"/><circle cx="405.22" cy="409.42" r="2.3"/><circle cx="407.55" cy="412.92" r="2.3"/><circle cx="403.58" cy="416.9" r="2.3"/><circle cx="398.21" cy="422.27" r="2.3"/><circle cx="405.92" cy="432.08" r="2.3"/><circle cx="394.94" cy="437.45" r="2.3"/><circle cx="401.25" cy="442.82" r="2.3"/><circle cx="384.19" cy="412.92" r="2.3"/><circle cx="391.2" cy="403.58" r="2.3"/><circle cx="400.08" cy="407.08" r="2.3"/><circle cx="409.42" cy="405.22" r="2.3"/><circle cx="419.23" cy="407.08" r="2.3"/><circle cx="383.73" cy="392.6" r="2.3"/><circle cx="386.06" cy="388.4" r="2.3"/><circle cx="380.22" cy="395.41" r="2.3"/><circle cx="400.08" cy="384.89" r="2.3"/><circle cx="402.88" cy="386.53" r="2.3"/><circle cx="411.76" cy="384.89" r="2.3"/><circle cx="388.86" cy="388.4" r="2.3"/><circle cx="392.6" cy="384.19" r="2.3"/><circle cx="396.57" cy="382.56" r="2.3"/><circle cx="384.89" cy="397.74" r="2.3"/><circle cx="389.8" cy="404.75" r="2.3"/><circle cx="394.24" cy="407.08" r="2.3"/><circle cx="382.79" cy="404.28" r="2.3"/><circle cx="402.41" cy="402.41" r="2.3"/><circle cx="398.44" cy="400.08" r="2.3"/><circle cx="387.93" cy="410.59" r="2.3"/><circle cx="397.74" cy="395.41" r="2.3"/><circle cx="404.75" cy="400.08" r="2.3"/><circle cx="383.26" cy="381.39" r="2.3"/><circle cx="387" cy="376.72" r="2.3"/><circle cx="391.2" cy="377.89" r="2.3"/><circle cx="394.47" cy="379.99" r="2.3"/><circle cx="413.63" cy="386.76" r="2.3"/><circle cx="415.49" cy="389.57" r="2.3"/><circle cx="421.1" cy="391.2" r="2.3"/><circle cx="424.6" cy="387.23" r="2.3"/><circle cx="428.11" cy="383.73" r="2.3"/></g>
<g fill="#3D9BC6" stroke="#111" stroke-width="0.75"><circle cx="370.18" cy="391.43" r="2.3"/><circle cx="393.54" cy="379.75" r="2.3"/><circle cx="410.59" cy="387.23" r="2.3"/><circle cx="415.96" cy="384.19" r="2.3"/><circle cx="419.93" cy="381.86" r="2.3"/><circle cx="422.97" cy="384.19" r="2.3"/><circle cx="428.11" cy="380.92" r="2.3"/><circle cx="432.08" cy="377.19" r="2.3"/><circle cx="425.77" cy="387.46" r="2.3"/><circle cx="429.28" cy="386.06" r="2.3"/><circle cx="432.78" cy="385.13" r="2.3"/><circle cx="436.28" cy="386.06" r="2.3"/><circle cx="438.62" cy="385.59" r="2.3"/><circle cx="422.97" cy="388.86" r="2.3"/><circle cx="421.1" cy="392.6" r="2.3"/><circle cx="422.27" cy="400.08" r="2.3"/><circle cx="415.96" cy="417.13" r="2.3"/><circle cx="419.93" cy="385.59" r="2.3"/><circle cx="424.6" cy="385.13" r="2.3"/><circle cx="430.44" cy="387.23" r="2.3"/><circle cx="434.65" cy="387.23" r="2.3"/><circle cx="426.94" cy="389.57" r="2.3"/><circle cx="411.76" cy="383.26" r="2.3"/></g>
<rect x="354.5" y="339.3" width="108.2" height="107.5" fill="none" stroke="#222" stroke-width="1"/>
<path d="M352.9 339.6 H354.5" stroke="#333" stroke-width="0.6"/>
<text x="352.3" y="341.47" font-size="5.2" text-anchor="end" fill="#333">4</text>
<path d="M352.9 365.4 H354.5" stroke="#333" stroke-width="0.6"/>
<text x="352.3" y="367.27" font-size="5.2" text-anchor="end" fill="#333">2</text>
<path d="M352.9 391.2 H354.5" stroke="#333" stroke-width="0.6"/>
<text x="352.3" y="393.07" font-size="5.2" text-anchor="end" fill="#333">0</text>
<path d="M352.9 417 H354.5" stroke="#333" stroke-width="0.6"/>
<text x="352.3" y="418.87" font-size="5.2" text-anchor="end" fill="#333">−2</text>
<path d="M352.9 442.8 H354.5" stroke="#333" stroke-width="0.6"/>
<text x="352.3" y="444.67" font-size="5.2" text-anchor="end" fill="#333">−4</text>
<path d="M375.6 446.8 V448.4" stroke="#333" stroke-width="0.6"/>
<text x="375.6" y="452.82" font-size="5.2" text-anchor="middle" fill="#333">−4</text>
<path d="M402.4 446.8 V448.4" stroke="#333" stroke-width="0.6"/>
<text x="402.4" y="452.82" font-size="5.2" text-anchor="middle" fill="#333">0</text>
<path d="M429.2 446.8 V448.4" stroke="#333" stroke-width="0.6"/>
<text x="429.2" y="452.82" font-size="5.2" text-anchor="middle" fill="#333">4</text>
<path d="M456 446.8 V448.4" stroke="#333" stroke-width="0.6"/>
<text x="456" y="452.82" font-size="5.2" text-anchor="middle" fill="#333">8</text>
<text x="408.7" y="462.6" font-size="7.2" font-weight="bold" text-anchor="middle" fill="#222">PC1</text>
<text transform="translate(344.3 393) rotate(-90)" font-size="7.2" font-weight="bold" text-anchor="middle" fill="#222">PC2</text>
<rect x="472.5" y="386" width="8.9" height="8.4" fill="#D2E6F0" stroke="#3A98C4" stroke-width="0.8"/>
<circle cx="476.95" cy="390.2" r="2.4" fill="#3D9BC6" stroke="#1a1a1a" stroke-width="0.55"/>
<rect x="472.5" y="395.9" width="8.9" height="8.4" fill="#F8D3CD" stroke="#E8594A" stroke-width="0.8"/>
<circle cx="476.95" cy="400.1" r="2.4" fill="#EF6450" stroke="#1a1a1a" stroke-width="0.55"/>
<text x="484.8" y="392.9" font-size="7.5" fill="#222">NC</text>
<text x="484.8" y="402.8" font-size="7.5" fill="#222">CP</text>
<text transform="translate(483.5 349) scale(1.214 1)" font-size="20" font-weight="bold" fill="#000">i</text>
<rect x="505.7" y="337.9" width="61.9" height="109" fill="#fff"/>
<path d="M505.7 341.9H567.6M505.7 349.16H567.6M505.7 356.42H567.6M505.7 363.68H567.6M505.7 370.94H567.6M505.7 378.2H567.6M505.7 385.46H567.6M505.7 392.72H567.6M505.7 399.98H567.6M505.7 407.24H567.6M505.7 414.5H567.6M505.7 421.76H567.6M505.7 429.02H567.6M505.7 436.28H567.6M505.7 443.54H567.6M511.5 337.9V446.9M529.65 337.9V446.9M547.8 337.9V446.9M565.95 337.9V446.9M520.58 337.9V446.9M538.73 337.9V446.9M556.88 337.9V446.9" stroke="#EBEBEB" stroke-width="0.5"/>
<circle cx="564.77" cy="341.9" r="3.0" fill="#5A3208" stroke="#222" stroke-width="0.35"/>
<path d="M567.6 341.9 h1.4" stroke="#333" stroke-width="0.4"/>
<text x="570" y="343.6" font-size="4.75" fill="#222">Endocytosis</text>
<circle cx="542.36" cy="349.16" r="2.75" fill="#5A3510" stroke="#222" stroke-width="0.35"/>
<path d="M567.6 349.16 h1.4" stroke="#333" stroke-width="0.4"/>
<text x="570" y="350.86" font-size="4.75" fill="#222">Efferocytosis</text>
<circle cx="542.36" cy="356.42" r="2.75" fill="#DDB060" stroke="#222" stroke-width="0.35"/>
<path d="M567.6 356.42 h1.4" stroke="#333" stroke-width="0.4"/>
<text x="570" y="358.12" font-size="4.75" fill="#222">Transcriptional misregulation in cancer</text>
<circle cx="542.36" cy="363.68" r="2.75" fill="#1D7A70" stroke="#222" stroke-width="0.35"/>
<path d="M567.6 363.68 h1.4" stroke="#333" stroke-width="0.4"/>
<text x="570" y="365.38" font-size="4.75" fill="#222">Shigellosis</text>
<circle cx="531.1" cy="370.94" r="2.5" fill="#5B360F" stroke="#222" stroke-width="0.35"/>
<path d="M567.6 370.94 h1.4" stroke="#333" stroke-width="0.4"/>
<text x="570" y="372.64" font-size="4.75" fill="#222">Nucleocytoplasmic transport</text>
<circle cx="531.1" cy="378.2" r="2.5" fill="#7A4712" stroke="#222" stroke-width="0.35"/>
<path d="M567.6 378.2 h1.4" stroke="#333" stroke-width="0.4"/>
<text x="570" y="379.9" font-size="4.75" fill="#222">Thyroid hormone signaling pathway</text>
<circle cx="531.1" cy="385.46" r="2.5" fill="#1A766C" stroke="#222" stroke-width="0.35"/>
<path d="M567.6 385.46 h1.4" stroke="#333" stroke-width="0.4"/>
<text x="570" y="387.16" font-size="4.75" fill="#222">cGMP-PKG signaling pathway</text>
<circle cx="519.76" cy="392.72" r="2.15" fill="#7B4A12" stroke="#222" stroke-width="0.35"/>
<path d="M567.6 392.72 h1.4" stroke="#333" stroke-width="0.4"/>
<text x="570" y="394.42" font-size="4.75" fill="#222">Bacterial invasion of epithelial cells</text>
<circle cx="519.76" cy="399.98" r="2.15" fill="#17766C" stroke="#222" stroke-width="0.35"/>
<path d="M567.6 399.98 h1.4" stroke="#333" stroke-width="0.4"/>
<text x="570" y="401.68" font-size="4.75" fill="#222">T cell receptor signaling pathway</text>
<circle cx="519.76" cy="407.24" r="2.15" fill="#0D4A40" stroke="#222" stroke-width="0.35"/>
<path d="M567.6 407.24 h1.4" stroke="#333" stroke-width="0.4"/>
<text x="570" y="408.94" font-size="4.75" fill="#222">Osteoclast differentiation</text>
<circle cx="508.51" cy="414.5" r="1.3" fill="#7B4A12" stroke="#222" stroke-width="0.35"/>
<path d="M567.6 414.5 h1.4" stroke="#333" stroke-width="0.4"/>
<text x="570" y="416.2" font-size="4.75" fill="#222">Various types of N-glycan biosynthesis</text>
<circle cx="508.51" cy="421.76" r="1.3" fill="#EEF5F2" stroke="#222" stroke-width="0.35"/>
<path d="M567.6 421.76 h1.4" stroke="#333" stroke-width="0.4"/>
<text x="570" y="423.46" font-size="4.75" fill="#222">N-Glycan biosynthesis</text>
<circle cx="508.51" cy="429.02" r="1.3" fill="#137268" stroke="#222" stroke-width="0.35"/>
<path d="M567.6 429.02 h1.4" stroke="#333" stroke-width="0.4"/>
<text x="570" y="430.72" font-size="4.75" fill="#222">Lysine degradation</text>
<circle cx="508.51" cy="436.28" r="1.3" fill="#137268" stroke="#222" stroke-width="0.35"/>
<path d="M567.6 436.28 h1.4" stroke="#333" stroke-width="0.4"/>
<text x="570" y="437.98" font-size="4.75" fill="#222">Long-term potentiation</text>
<circle cx="508.51" cy="443.54" r="1.3" fill="#137268" stroke="#222" stroke-width="0.35"/>
<path d="M567.6 443.54 h1.4" stroke="#333" stroke-width="0.4"/>
<text x="570" y="445.24" font-size="4.75" fill="#222">Renin secretion</text>
<rect x="505.7" y="337.9" width="61.9" height="109" fill="none" stroke="#555" stroke-width="0.9"/>
<path d="M511.5 446.9 v1.2" stroke="#333" stroke-width="0.4"/>
<text x="511.5" y="451.6" font-size="3.4" text-anchor="middle" fill="#333">0.04</text>
<path d="M529.65 446.9 v1.2" stroke="#333" stroke-width="0.4"/>
<text x="529.65" y="451.6" font-size="3.4" text-anchor="middle" fill="#333">0.06</text>
<path d="M547.8 446.9 v1.2" stroke="#333" stroke-width="0.4"/>
<text x="547.8" y="451.6" font-size="3.4" text-anchor="middle" fill="#333">0.08</text>
<path d="M565.95 446.9 v1.2" stroke="#333" stroke-width="0.4"/>
<text x="565.95" y="451.6" font-size="3.4" text-anchor="middle" fill="#333">0.10</text>
<text x="536.8" y="457.5" font-size="4.75" font-weight="bold" text-anchor="middle" fill="#222">GeneRatio</text>
<text x="657.8" y="348.8" font-size="4.9" font-weight="bold" fill="#222">Count</text>
<circle cx="662" cy="354.7" r="1.2" fill="none" stroke="#222" stroke-width="0.55"/>
<text x="668.6" y="356.4" font-size="5" fill="#222">3</text>
<circle cx="662" cy="360.8" r="1.8" fill="none" stroke="#222" stroke-width="0.55"/>
<text x="668.6" y="362.5" font-size="5" fill="#222">4</text>
<circle cx="662" cy="367.0" r="2.2" fill="none" stroke="#222" stroke-width="0.55"/>
<text x="668.6" y="368.7" font-size="5" fill="#222">5</text>
<circle cx="662" cy="373.9" r="2.6" fill="none" stroke="#222" stroke-width="0.55"/>
<text x="668.6" y="375.6" font-size="5" fill="#222">6</text>
<circle cx="662" cy="381.2" r="3.0" fill="none" stroke="#222" stroke-width="0.55"/>
<text x="668.6" y="382.9" font-size="5" fill="#222">7</text>
<circle cx="662" cy="389.3" r="3.3" fill="none" stroke="#222" stroke-width="0.55"/>
<text x="668.6" y="391" font-size="5" fill="#222">8</text>
<text x="659.2" y="405.3" font-size="5" fill="#222">−Log<tspan font-size="3.3" dy="1">10</tspan><tspan dy="-1"> FDR</tspan></text>
<defs><linearGradient id="fdr" x1="0" x2="0" y1="0" y2="1"><stop offset="0" stop-color="#6A3D0A"/><stop offset="0.3" stop-color="#C89B4E"/><stop offset="0.5" stop-color="#F4EBD6"/><stop offset="0.6" stop-color="#E6F2EF"/><stop offset="0.8" stop-color="#5EAFA3"/><stop offset="1" stop-color="#0A4A40"/></linearGradient></defs>
<rect x="657.8" y="409" width="6.2" height="31.7" fill="url(#fdr)"/>
<text x="666" y="412.4" font-size="4.3" fill="#222">0.7</text>
<text x="666" y="423" font-size="4.3" fill="#222">0.6</text>
<text x="666" y="433.5" font-size="4.3" fill="#222">0.5</text>
<text transform="translate(2.8 488.3) scale(1.579 1)" font-size="19" font-weight="bold" fill="#000">j</text>
<ellipse cx="62" cy="537.2" rx="44.5" ry="19.3" transform="rotate(74.8 62 537.2)" fill="#6AAFD3" fill-opacity="0.25" stroke="#3A98C4" stroke-width="0.95"/>
<ellipse cx="94.5" cy="557" rx="52" ry="29" transform="rotate(-29 94.5 557)" fill="#EF6450" fill-opacity="0.22" stroke="#E8594A" stroke-width="0.95"/>
<g fill="#EF6450" stroke="#111" stroke-width="0.75"><circle cx="117.3" cy="525.71" r="2.3"/><circle cx="54.48" cy="529.39" r="2.3"/><circle cx="82.21" cy="537.48" r="2.3"/><circle cx="92.02" cy="536.75" r="2.3"/><circle cx="97.67" cy="539.94" r="2.3"/><circle cx="103.07" cy="541.17" r="2.3"/><circle cx="111.66" cy="541.9" r="2.3"/><circle cx="115.34" cy="541.9" r="2.3"/><circle cx="123.93" cy="543.13" r="2.3"/><circle cx="127.61" cy="541.66" r="2.3"/><circle cx="55.21" cy="557.61" r="2.3"/><circle cx="64.29" cy="566.2" r="2.3"/><circle cx="69.94" cy="573.07" r="2.3"/><circle cx="78.04" cy="567.67" r="2.3"/><circle cx="63.8" cy="575.03" r="2.3"/><circle cx="56.93" cy="584.11" r="2.3"/><circle cx="60.86" cy="592.21" r="2.3"/><circle cx="64.29" cy="591.47" r="2.3"/><circle cx="74.6" cy="590.98" r="2.3"/><circle cx="61.35" cy="581.66" r="2.3"/><circle cx="64.29" cy="583.37" r="2.3"/><circle cx="119.02" cy="570.12" r="2.3"/><circle cx="112.39" cy="565.71" r="2.3"/><circle cx="90.31" cy="579.2" r="2.3"/><circle cx="93.25" cy="575.03" r="2.3"/><circle cx="112.88" cy="556.38" r="2.3"/><circle cx="125.15" cy="553.44" r="2.3"/><circle cx="96.93" cy="566.93" r="2.3"/><circle cx="84.66" cy="564.48" r="2.3"/><circle cx="74.11" cy="572.58" r="2.3"/><circle cx="89.99" cy="552.65" r="2.3"/><circle cx="111.95" cy="547" r="2.3"/><circle cx="116.27" cy="545.61" r="2.3"/><circle cx="86.88" cy="567.9" r="2.3"/><circle cx="101.34" cy="561.35" r="2.3"/><circle cx="92.57" cy="552.94" r="2.3"/><circle cx="83.78" cy="562.04" r="2.3"/><circle cx="103.67" cy="554" r="2.3"/><circle cx="102.9" cy="552.09" r="2.3"/><circle cx="104.72" cy="553.99" r="2.3"/><circle cx="90.05" cy="550.96" r="2.3"/><circle cx="111.32" cy="552.29" r="2.3"/><circle cx="90.55" cy="567.26" r="2.3"/><circle cx="79.95" cy="557.72" r="2.3"/><circle cx="90.39" cy="566.26" r="2.3"/><circle cx="72.69" cy="559.77" r="2.3"/><circle cx="77.8" cy="563.46" r="2.3"/><circle cx="108.13" cy="555.12" r="2.3"/><circle cx="106.93" cy="556.91" r="2.3"/><circle cx="94.08" cy="565.27" r="2.3"/><circle cx="97.23" cy="555.99" r="2.3"/><circle cx="92.73" cy="556.13" r="2.3"/><circle cx="82.18" cy="571.02" r="2.3"/><circle cx="88.68" cy="554.91" r="2.3"/><circle cx="111.65" cy="543.75" r="2.3"/><circle cx="107.5" cy="556.86" r="2.3"/><circle cx="95.58" cy="558.44" r="2.3"/><circle cx="101.98" cy="550.19" r="2.3"/><circle cx="104.95" cy="556.16" r="2.3"/><circle cx="98.93" cy="551.59" r="2.3"/><circle cx="85.14" cy="560.08" r="2.3"/><circle cx="79.79" cy="560.26" r="2.3"/><circle cx="92.15" cy="549.17" r="2.3"/><circle cx="94.9" cy="566.81" r="2.3"/><circle cx="90.93" cy="567.87" r="2.3"/><circle cx="88.91" cy="543.29" r="2.3"/><circle cx="116.63" cy="554.01" r="2.3"/><circle cx="100.8" cy="550.25" r="2.3"/><circle cx="80.65" cy="553.91" r="2.3"/><circle cx="95.47" cy="541.43" r="2.3"/><circle cx="85.28" cy="570.93" r="2.3"/><circle cx="102.61" cy="550.81" r="2.3"/><circle cx="86.12" cy="559.87" r="2.3"/><circle cx="101.78" cy="555.57" r="2.3"/><circle cx="103.06" cy="541.29" r="2.3"/><circle cx="100.57" cy="564.38" r="2.3"/><circle cx="100.56" cy="553.59" r="2.3"/><circle cx="92.38" cy="570.54" r="2.3"/><circle cx="77.09" cy="552.46" r="2.3"/><circle cx="86.68" cy="551.06" r="2.3"/><circle cx="85.22" cy="550.34" r="2.3"/><circle cx="97.09" cy="560.63" r="2.3"/><circle cx="103.71" cy="551.86" r="2.3"/><circle cx="102.18" cy="551.28" r="2.3"/><circle cx="97.28" cy="558.94" r="2.3"/><circle cx="116.3" cy="569.64" r="2.3"/><circle cx="107.02" cy="555.98" r="2.3"/><circle cx="77.99" cy="550.38" r="2.3"/><circle cx="100.06" cy="562.43" r="2.3"/><circle cx="88.57" cy="560.47" r="2.3"/><circle cx="107.09" cy="555.86" r="2.3"/><circle cx="90.59" cy="552.44" r="2.3"/></g>
<g fill="#3D9BC6" stroke="#111" stroke-width="0.75"><circle cx="54.48" cy="516.13" r="2.3"/><circle cx="46.13" cy="531.35" r="2.3"/><circle cx="47.85" cy="533.31" r="2.3"/><circle cx="56.93" cy="528.4" r="2.3"/><circle cx="58.9" cy="527.67" r="2.3"/><circle cx="61.35" cy="528.9" r="2.3"/><circle cx="64.29" cy="525.95" r="2.3"/><circle cx="66.26" cy="528.4" r="2.3"/><circle cx="69.2" cy="530.12" r="2.3"/><circle cx="61.84" cy="533.8" r="2.3"/><circle cx="64.29" cy="533.31" r="2.3"/><circle cx="66.26" cy="534.79" r="2.3"/><circle cx="69.45" cy="535.03" r="2.3"/><circle cx="51.53" cy="543.13" r="2.3"/><circle cx="54.48" cy="540.67" r="2.3"/><circle cx="64.29" cy="545.58" r="2.3"/><circle cx="74.11" cy="565.21" r="2.3"/><circle cx="73.13" cy="570.61" r="2.3"/><circle cx="73.62" cy="573.07" r="2.3"/><circle cx="58.9" cy="529.39" r="2.3"/></g>
<rect x="33.6" y="489.6" width="111.2" height="107.5" fill="none" stroke="#222" stroke-width="1"/>
<path d="M32 514.6 H33.6" stroke="#333" stroke-width="0.6"/>
<text x="31.4" y="516.47" font-size="5.2" text-anchor="end" fill="#333">5</text>
<path d="M32 553.4 H33.6" stroke="#333" stroke-width="0.6"/>
<text x="31.4" y="555.27" font-size="5.2" text-anchor="end" fill="#333">0</text>
<path d="M32 592.2 H33.6" stroke="#333" stroke-width="0.6"/>
<text x="31.4" y="594.07" font-size="5.2" text-anchor="end" fill="#333">−5</text>
<path d="M57.52 597.1 V598.7" stroke="#333" stroke-width="0.6"/>
<text x="57.52" y="603.12" font-size="5.2" text-anchor="middle" fill="#333">−4</text>
<path d="M86.4 597.1 V598.7" stroke="#333" stroke-width="0.6"/>
<text x="86.4" y="603.12" font-size="5.2" text-anchor="middle" fill="#333">0</text>
<path d="M115.28 597.1 V598.7" stroke="#333" stroke-width="0.6"/>
<text x="115.28" y="603.12" font-size="5.2" text-anchor="middle" fill="#333">4</text>
<path d="M144.16 597.1 V598.7" stroke="#333" stroke-width="0.6"/>
<text x="144.16" y="603.12" font-size="5.2" text-anchor="middle" fill="#333">8</text>
<text x="88.8" y="612.6" font-size="7.2" font-weight="bold" text-anchor="middle" fill="#222">PC1</text>
<text transform="translate(23.5 543.6) rotate(-90)" font-size="7.2" font-weight="bold" text-anchor="middle" fill="#222">PC2</text>
<rect x="155.1" y="536.2" width="8.9" height="8.4" fill="#D2E6F0" stroke="#3A98C4" stroke-width="0.8"/>
<circle cx="159.55" cy="540.4" r="2.4" fill="#3D9BC6" stroke="#1a1a1a" stroke-width="0.55"/>
<rect x="155.1" y="546.1" width="8.9" height="8.4" fill="#F8D3CD" stroke="#E8594A" stroke-width="0.8"/>
<circle cx="159.55" cy="550.3" r="2.4" fill="#EF6450" stroke="#1a1a1a" stroke-width="0.55"/>
<text x="167.4" y="543.1" font-size="7.5" fill="#222">NC</text>
<text x="167.4" y="553" font-size="7.5" fill="#222">CP</text>
<text transform="translate(206.93 489) scale(0.884 1)" font-size="20.5" font-weight="bold" fill="#000">k</text>
<g fill="#DCDCDC"><circle cx="309.77" cy="574.12" r="1.5"/><circle cx="315.46" cy="579.28" r="1.5"/><circle cx="335.28" cy="527.61" r="1.5"/><circle cx="301.4" cy="539.02" r="1.5"/><circle cx="327.13" cy="550.63" r="1.5"/><circle cx="324.2" cy="558.55" r="1.5"/><circle cx="312.95" cy="571.74" r="1.5"/><circle cx="320.43" cy="577.24" r="1.5"/><circle cx="310.81" cy="564.58" r="1.5"/><circle cx="313.61" cy="576.26" r="1.5"/><circle cx="306.8" cy="564.61" r="1.5"/><circle cx="319.69" cy="573.91" r="1.5"/><circle cx="323.3" cy="566.86" r="1.5"/><circle cx="313.72" cy="578.98" r="1.5"/><circle cx="320.1" cy="574.31" r="1.5"/><circle cx="325.2" cy="558.28" r="1.5"/><circle cx="317.84" cy="578.11" r="1.5"/><circle cx="320.82" cy="569.89" r="1.5"/><circle cx="323.65" cy="578.19" r="1.5"/><circle cx="322.49" cy="568.81" r="1.5"/><circle cx="313.74" cy="578.21" r="1.5"/><circle cx="329.97" cy="540.99" r="1.5"/><circle cx="306.61" cy="554.64" r="1.5"/><circle cx="322.76" cy="571.35" r="1.5"/><circle cx="329.62" cy="577.98" r="1.5"/><circle cx="327.18" cy="564.4" r="1.5"/><circle cx="326.75" cy="552.78" r="1.5"/><circle cx="319.33" cy="575.7" r="1.5"/><circle cx="316.68" cy="579.53" r="1.5"/><circle cx="326.96" cy="562.5" r="1.5"/><circle cx="308.65" cy="580.26" r="1.5"/><circle cx="327.58" cy="550.02" r="1.5"/><circle cx="320.64" cy="571" r="1.5"/><circle cx="333.05" cy="535.52" r="1.5"/><circle cx="334.86" cy="578.71" r="1.5"/><circle cx="331.67" cy="576.75" r="1.5"/><circle cx="329.17" cy="540.21" r="1.5"/><circle cx="304.71" cy="553.95" r="1.5"/><circle cx="317.06" cy="580.32" r="1.5"/><circle cx="317.84" cy="577.5" r="1.5"/><circle cx="316.28" cy="579.16" r="1.5"/><circle cx="307.07" cy="549.95" r="1.5"/><circle cx="310.71" cy="572.44" r="1.5"/><circle cx="326.54" cy="580.13" r="1.5"/><circle cx="323.22" cy="570.96" r="1.5"/><circle cx="313.54" cy="572.37" r="1.5"/><circle cx="332.78" cy="570.9" r="1.5"/><circle cx="325.43" cy="561.92" r="1.5"/><circle cx="322.22" cy="565.16" r="1.5"/><circle cx="326.97" cy="564.02" r="1.5"/><circle cx="305.94" cy="557.33" r="1.5"/><circle cx="310.19" cy="568.81" r="1.5"/><circle cx="319.02" cy="580.3" r="1.5"/><circle cx="308.21" cy="563.21" r="1.5"/><circle cx="320.78" cy="578.25" r="1.5"/><circle cx="327.09" cy="574.95" r="1.5"/><circle cx="317.55" cy="578.54" r="1.5"/><circle cx="328.93" cy="575.52" r="1.5"/><circle cx="308.1" cy="555.25" r="1.5"/><circle cx="314.79" cy="575.39" r="1.5"/><circle cx="327.73" cy="545.56" r="1.5"/><circle cx="319.45" cy="580.18" r="1.5"/><circle cx="319.82" cy="573.16" r="1.5"/><circle cx="324.71" cy="557.94" r="1.5"/><circle cx="336.82" cy="526.85" r="1.5"/><circle cx="331.19" cy="573.26" r="1.5"/><circle cx="321.19" cy="575.16" r="1.5"/><circle cx="313.25" cy="570.68" r="1.5"/><circle cx="329.3" cy="554.77" r="1.5"/><circle cx="317.87" cy="577.25" r="1.5"/><circle cx="312.66" cy="569.52" r="1.5"/><circle cx="316.04" cy="578.08" r="1.5"/><circle cx="323.38" cy="561.65" r="1.5"/><circle cx="310.5" cy="573.83" r="1.5"/><circle cx="319.4" cy="573.72" r="1.5"/><circle cx="330.07" cy="579.14" r="1.5"/><circle cx="308.05" cy="553.79" r="1.5"/><circle cx="317.93" cy="576.97" r="1.5"/><circle cx="322.94" cy="566.82" r="1.5"/><circle cx="327.09" cy="563.96" r="1.5"/><circle cx="302.01" cy="555.75" r="1.5"/><circle cx="321.33" cy="568.83" r="1.5"/><circle cx="296.58" cy="571.54" r="1.5"/><circle cx="323.91" cy="570.81" r="1.5"/><circle cx="324.03" cy="564.99" r="1.5"/><circle cx="318.39" cy="577.02" r="1.5"/><circle cx="318.47" cy="579.16" r="1.5"/><circle cx="327.99" cy="548.47" r="1.5"/><circle cx="327.16" cy="557.87" r="1.5"/><circle cx="326.18" cy="553.42" r="1.5"/><circle cx="307.02" cy="549.72" r="1.5"/><circle cx="316.39" cy="579.1" r="1.5"/><circle cx="326.32" cy="560.14" r="1.5"/><circle cx="312.38" cy="571.57" r="1.5"/><circle cx="318.08" cy="578.74" r="1.5"/><circle cx="300.72" cy="576.04" r="1.5"/><circle cx="324.1" cy="573.77" r="1.5"/><circle cx="310.74" cy="567.23" r="1.5"/><circle cx="326.13" cy="564.18" r="1.5"/><circle cx="310.2" cy="564.27" r="1.5"/><circle cx="334.93" cy="538.61" r="1.5"/><circle cx="318.77" cy="575.55" r="1.5"/><circle cx="321.43" cy="578.97" r="1.5"/><circle cx="310.81" cy="564.36" r="1.5"/><circle cx="326.39" cy="578.68" r="1.5"/><circle cx="306.01" cy="546.03" r="1.5"/><circle cx="303.52" cy="538.61" r="1.5"/><circle cx="323.3" cy="575.32" r="1.5"/><circle cx="318.33" cy="577.02" r="1.5"/><circle cx="311.54" cy="574.24" r="1.5"/><circle cx="316.49" cy="579.64" r="1.5"/><circle cx="327.57" cy="570.86" r="1.5"/><circle cx="315.9" cy="577.48" r="1.5"/><circle cx="314.36" cy="575.7" r="1.5"/><circle cx="321.89" cy="573.39" r="1.5"/><circle cx="309.74" cy="571.78" r="1.5"/><circle cx="313.33" cy="571.44" r="1.5"/><circle cx="298.46" cy="518.4" r="1.5"/><circle cx="320.14" cy="573.04" r="1.5"/><circle cx="319.58" cy="573.27" r="1.5"/><circle cx="313" cy="575.73" r="1.5"/><circle cx="318.44" cy="578.99" r="1.5"/><circle cx="315.83" cy="578.2" r="1.5"/><circle cx="308.18" cy="572.71" r="1.5"/><circle cx="321.37" cy="570.34" r="1.5"/><circle cx="312.76" cy="571.07" r="1.5"/><circle cx="328.31" cy="572.34" r="1.5"/><circle cx="302.57" cy="573.14" r="1.5"/><circle cx="320.27" cy="575.86" r="1.5"/><circle cx="331.35" cy="548.45" r="1.5"/><circle cx="339.66" cy="548.72" r="1.5"/><circle cx="323.53" cy="566.7" r="1.5"/><circle cx="310.32" cy="569.33" r="1.5"/><circle cx="317.23" cy="578.67" r="1.5"/><circle cx="317.77" cy="577.61" r="1.5"/><circle cx="305.2" cy="574.03" r="1.5"/><circle cx="329.4" cy="576.99" r="1.5"/><circle cx="309.41" cy="567.71" r="1.5"/><circle cx="314.85" cy="576.22" r="1.5"/><circle cx="314.05" cy="575.39" r="1.5"/><circle cx="334.94" cy="524.19" r="1.5"/><circle cx="332.25" cy="572.21" r="1.5"/><circle cx="315.27" cy="579.86" r="1.5"/><circle cx="339.73" cy="580.55" r="1.5"/><circle cx="320.09" cy="571.79" r="1.5"/><circle cx="306.75" cy="578.45" r="1.5"/><circle cx="314.78" cy="575.01" r="1.5"/><circle cx="334.05" cy="575.91" r="1.5"/><circle cx="306.87" cy="551.89" r="1.5"/><circle cx="314.21" cy="576.14" r="1.5"/><circle cx="318.65" cy="575.3" r="1.5"/><circle cx="319.98" cy="573.35" r="1.5"/><circle cx="322.99" cy="568.99" r="1.5"/><circle cx="304.92" cy="573.95" r="1.5"/><circle cx="298.43" cy="538.41" r="1.5"/><circle cx="323.43" cy="561.73" r="1.5"/><circle cx="322.38" cy="570.49" r="1.5"/><circle cx="335.89" cy="538.88" r="1.5"/><circle cx="309.28" cy="558.3" r="1.5"/><circle cx="324.4" cy="558.25" r="1.5"/><circle cx="306.7" cy="568.95" r="1.5"/><circle cx="330.06" cy="549.6" r="1.5"/><circle cx="324.17" cy="558.93" r="1.5"/><circle cx="318.23" cy="578.45" r="1.5"/><circle cx="312.92" cy="573.86" r="1.5"/><circle cx="317.39" cy="578.43" r="1.5"/><circle cx="321.38" cy="578.33" r="1.5"/><circle cx="310.78" cy="563.34" r="1.5"/><circle cx="330.94" cy="555.25" r="1.5"/><circle cx="333.9" cy="571.87" r="1.5"/><circle cx="319.23" cy="574.32" r="1.5"/><circle cx="316.35" cy="578.37" r="1.5"/><circle cx="312.19" cy="574.36" r="1.5"/><circle cx="315.72" cy="579.58" r="1.5"/><circle cx="316.43" cy="579.52" r="1.5"/><circle cx="310.2" cy="569.86" r="1.5"/><circle cx="306.22" cy="553.67" r="1.5"/><circle cx="302.77" cy="556.68" r="1.5"/><circle cx="330.53" cy="577.23" r="1.5"/><circle cx="329.21" cy="576.79" r="1.5"/><circle cx="313.08" cy="579.61" r="1.5"/><circle cx="298.99" cy="523.65" r="1.5"/><circle cx="323.88" cy="564.87" r="1.5"/><circle cx="318.74" cy="575.74" r="1.5"/><circle cx="297.55" cy="574.42" r="1.5"/><circle cx="338.28" cy="571.08" r="1.5"/><circle cx="303.59" cy="537.96" r="1.5"/><circle cx="324.11" cy="564.72" r="1.5"/><circle cx="315.43" cy="578.2" r="1.5"/><circle cx="323.68" cy="560.43" r="1.5"/><circle cx="311.85" cy="573.21" r="1.5"/><circle cx="321.94" cy="572.34" r="1.5"/><circle cx="308.89" cy="565.62" r="1.5"/><circle cx="325.7" cy="565.71" r="1.5"/><circle cx="327.27" cy="548.14" r="1.5"/><circle cx="314.52" cy="575.1" r="1.5"/><circle cx="312.51" cy="573.46" r="1.5"/><circle cx="314.16" cy="573.41" r="1.5"/><circle cx="305.49" cy="569.43" r="1.5"/><circle cx="310.37" cy="562.92" r="1.5"/><circle cx="330.99" cy="571.61" r="1.5"/><circle cx="320.27" cy="571.28" r="1.5"/><circle cx="311.39" cy="567.67" r="1.5"/><circle cx="334.51" cy="526.93" r="1.5"/><circle cx="328.8" cy="575.18" r="1.5"/><circle cx="306.81" cy="565.93" r="1.5"/><circle cx="306.86" cy="550.1" r="1.5"/><circle cx="306.16" cy="546.92" r="1.5"/><circle cx="327.47" cy="576.78" r="1.5"/><circle cx="316.49" cy="578.53" r="1.5"/><circle cx="336.62" cy="546.54" r="1.5"/><circle cx="319.19" cy="575.01" r="1.5"/><circle cx="323.76" cy="578.33" r="1.5"/><circle cx="316.83" cy="580.18" r="1.5"/><circle cx="324.88" cy="566.62" r="1.5"/><circle cx="309.05" cy="571.26" r="1.5"/><circle cx="304.78" cy="577.79" r="1.5"/><circle cx="320.52" cy="571.07" r="1.5"/><circle cx="304.79" cy="543.09" r="1.5"/><circle cx="326.96" cy="556.48" r="1.5"/><circle cx="323.21" cy="566.06" r="1.5"/><circle cx="299.99" cy="542.25" r="1.5"/><circle cx="313.68" cy="575.39" r="1.5"/><circle cx="336.89" cy="579.99" r="1.5"/><circle cx="322.52" cy="573.03" r="1.5"/><circle cx="311.37" cy="572.17" r="1.5"/><circle cx="316.51" cy="578.54" r="1.5"/><circle cx="316.1" cy="580.06" r="1.5"/><circle cx="329.32" cy="557.51" r="1.5"/><circle cx="302.71" cy="533.9" r="1.5"/><circle cx="323" cy="562.36" r="1.5"/><circle cx="313.75" cy="573.74" r="1.5"/><circle cx="326.98" cy="579.75" r="1.5"/><circle cx="320.99" cy="577.1" r="1.5"/><circle cx="318.12" cy="577.75" r="1.5"/><circle cx="319.29" cy="577.43" r="1.5"/><circle cx="320.85" cy="571.71" r="1.5"/><circle cx="331.45" cy="543.82" r="1.5"/><circle cx="308.33" cy="566.51" r="1.5"/><circle cx="325.73" cy="556.95" r="1.5"/><circle cx="324.96" cy="569.08" r="1.5"/><circle cx="311.52" cy="570.24" r="1.5"/><circle cx="321.75" cy="569.15" r="1.5"/><circle cx="297.53" cy="534.78" r="1.5"/><circle cx="309.7" cy="569.09" r="1.5"/><circle cx="322.94" cy="564.5" r="1.5"/><circle cx="325.65" cy="554" r="1.5"/><circle cx="321.94" cy="566.09" r="1.5"/><circle cx="323.75" cy="579.58" r="1.5"/><circle cx="304.73" cy="559.69" r="1.5"/><circle cx="306.31" cy="558.97" r="1.5"/><circle cx="332.36" cy="536.61" r="1.5"/><circle cx="328.46" cy="557.46" r="1.5"/><circle cx="304.06" cy="580.26" r="1.5"/><circle cx="331.42" cy="543.98" r="1.5"/><circle cx="322.27" cy="564.89" r="1.5"/><circle cx="304.19" cy="568.54" r="1.5"/><circle cx="303.39" cy="558.9" r="1.5"/><circle cx="322" cy="573.55" r="1.5"/><circle cx="301.54" cy="528.21" r="1.5"/><circle cx="312.56" cy="575.47" r="1.5"/><circle cx="310.02" cy="569.18" r="1.5"/><circle cx="313.5" cy="572.08" r="1.5"/><circle cx="314.79" cy="575.38" r="1.5"/><circle cx="315.78" cy="578.1" r="1.5"/><circle cx="311.99" cy="568.21" r="1.5"/><circle cx="316.52" cy="578.74" r="1.5"/><circle cx="321.26" cy="568.7" r="1.5"/><circle cx="308.99" cy="561.32" r="1.5"/><circle cx="304.7" cy="575.19" r="1.5"/><circle cx="308.57" cy="568.05" r="1.5"/><circle cx="328.88" cy="573.78" r="1.5"/><circle cx="301.51" cy="570.52" r="1.5"/><circle cx="325.12" cy="557.76" r="1.5"/><circle cx="317.6" cy="579.08" r="1.5"/><circle cx="311.4" cy="566.24" r="1.5"/><circle cx="320.76" cy="569.85" r="1.5"/><circle cx="308.46" cy="566.77" r="1.5"/><circle cx="306.45" cy="551.59" r="1.5"/><circle cx="313.97" cy="574.42" r="1.5"/><circle cx="310.23" cy="562.57" r="1.5"/><circle cx="310.84" cy="565.29" r="1.5"/><circle cx="307.62" cy="574.22" r="1.5"/><circle cx="309.57" cy="579.58" r="1.5"/><circle cx="328.57" cy="542.38" r="1.5"/><circle cx="310.58" cy="569.07" r="1.5"/><circle cx="314.41" cy="574.93" r="1.5"/><circle cx="309.52" cy="568.7" r="1.5"/><circle cx="329.57" cy="573.8" r="1.5"/><circle cx="318.87" cy="575.87" r="1.5"/><circle cx="320.98" cy="573.94" r="1.5"/><circle cx="310.84" cy="572.43" r="1.5"/><circle cx="315.87" cy="579.06" r="1.5"/><circle cx="315.72" cy="577.33" r="1.5"/><circle cx="321.15" cy="568.87" r="1.5"/><circle cx="305.38" cy="557.33" r="1.5"/><circle cx="319.25" cy="574.09" r="1.5"/><circle cx="310.21" cy="564.16" r="1.5"/><circle cx="321.39" cy="571.29" r="1.5"/><circle cx="326.77" cy="579.87" r="1.5"/><circle cx="323.15" cy="561.9" r="1.5"/><circle cx="326.96" cy="556.71" r="1.5"/><circle cx="301.42" cy="551.44" r="1.5"/><circle cx="310.73" cy="570.99" r="1.5"/><circle cx="317.37" cy="578.32" r="1.5"/><circle cx="319.3" cy="576.21" r="1.5"/><circle cx="320.78" cy="570.46" r="1.5"/><circle cx="310.3" cy="572.1" r="1.5"/><circle cx="319.68" cy="576.58" r="1.5"/><circle cx="313.78" cy="574.33" r="1.5"/><circle cx="316.67" cy="578.89" r="1.5"/><circle cx="315.07" cy="576.31" r="1.5"/><circle cx="328.16" cy="551.83" r="1.5"/><circle cx="331.3" cy="579.19" r="1.5"/><circle cx="308.82" cy="563.42" r="1.5"/><circle cx="314.78" cy="576.75" r="1.5"/><circle cx="309.65" cy="576.45" r="1.5"/><circle cx="315.06" cy="576.35" r="1.5"/><circle cx="304.49" cy="540.16" r="1.5"/><circle cx="312.99" cy="571.14" r="1.5"/><circle cx="318.15" cy="577.21" r="1.5"/><circle cx="323.55" cy="579.98" r="1.5"/><circle cx="320.86" cy="570.28" r="1.5"/><circle cx="309.13" cy="569.61" r="1.5"/><circle cx="308.59" cy="580.14" r="1.5"/><circle cx="319.51" cy="573.11" r="1.5"/><circle cx="305.62" cy="570.11" r="1.5"/><circle cx="329.75" cy="545.04" r="1.5"/><circle cx="299.72" cy="521" r="1.5"/><circle cx="309.98" cy="565.58" r="1.5"/><circle cx="323.32" cy="571.21" r="1.5"/><circle cx="303.54" cy="579.38" r="1.5"/><circle cx="316.83" cy="579.19" r="1.5"/><circle cx="305.1" cy="571.49" r="1.5"/><circle cx="322.1" cy="570.8" r="1.5"/><circle cx="322.11" cy="567.4" r="1.5"/><circle cx="309.25" cy="564.34" r="1.5"/><circle cx="329.09" cy="544.18" r="1.5"/><circle cx="317.02" cy="578.68" r="1.5"/><circle cx="306.62" cy="576.78" r="1.5"/><circle cx="306.14" cy="570.32" r="1.5"/><circle cx="298.53" cy="535.14" r="1.5"/><circle cx="330.16" cy="555.94" r="1.5"/><circle cx="307.32" cy="571.46" r="1.5"/><circle cx="306.12" cy="562.28" r="1.5"/><circle cx="325.4" cy="554.68" r="1.5"/><circle cx="319.31" cy="575.76" r="1.5"/><circle cx="317.57" cy="577.77" r="1.5"/><circle cx="308.73" cy="571.48" r="1.5"/><circle cx="326.14" cy="566.88" r="1.5"/><circle cx="301.5" cy="541.07" r="1.5"/><circle cx="329.12" cy="540.44" r="1.5"/><circle cx="332.05" cy="551.83" r="1.5"/><circle cx="322.77" cy="570.45" r="1.5"/><circle cx="314.93" cy="575.62" r="1.5"/><circle cx="307.67" cy="552.21" r="1.5"/><circle cx="326.44" cy="570.16" r="1.5"/><circle cx="337.38" cy="539.07" r="1.5"/><circle cx="316.92" cy="578.79" r="1.5"/><circle cx="298.58" cy="517.41" r="1.5"/><circle cx="333.96" cy="545.76" r="1.5"/><circle cx="299.31" cy="544.16" r="1.5"/><circle cx="321.34" cy="569.55" r="1.5"/><circle cx="322.07" cy="565.46" r="1.5"/><circle cx="324.44" cy="558.89" r="1.5"/><circle cx="322.31" cy="567.72" r="1.5"/><circle cx="312.71" cy="575.2" r="1.5"/><circle cx="322.45" cy="571.81" r="1.5"/><circle cx="316.01" cy="577.72" r="1.5"/><circle cx="311.54" cy="569.15" r="1.5"/><circle cx="306.23" cy="572.95" r="1.5"/><circle cx="312.48" cy="568.4" r="1.5"/><circle cx="321.28" cy="568.41" r="1.5"/><circle cx="316.38" cy="579.1" r="1.5"/><circle cx="317.94" cy="577.99" r="1.5"/><circle cx="321.49" cy="567.41" r="1.5"/><circle cx="304.13" cy="539.96" r="1.5"/><circle cx="323.46" cy="569.28" r="1.5"/><circle cx="312.23" cy="567.67" r="1.5"/><circle cx="320.07" cy="573.85" r="1.5"/><circle cx="324.9" cy="573.28" r="1.5"/><circle cx="324.09" cy="560.85" r="1.5"/><circle cx="306.95" cy="563.31" r="1.5"/><circle cx="319.74" cy="577.17" r="1.5"/><circle cx="315.39" cy="576.95" r="1.5"/><circle cx="322.02" cy="569.7" r="1.5"/><circle cx="319.4" cy="573.41" r="1.5"/><circle cx="307.95" cy="579.82" r="1.5"/><circle cx="306.06" cy="550.31" r="1.5"/><circle cx="320.74" cy="572.82" r="1.5"/><circle cx="308.6" cy="580.52" r="1.5"/><circle cx="306.76" cy="561.85" r="1.5"/><circle cx="326.48" cy="556.62" r="1.5"/><circle cx="314.59" cy="574.41" r="1.5"/><circle cx="311.88" cy="566.79" r="1.5"/><circle cx="320.75" cy="574.03" r="1.5"/><circle cx="311.65" cy="569.28" r="1.5"/><circle cx="338.12" cy="533.49" r="1.5"/><circle cx="320.65" cy="569.8" r="1.5"/><circle cx="324.15" cy="566.94" r="1.5"/><circle cx="314.73" cy="577.33" r="1.5"/><circle cx="330.07" cy="542.34" r="1.5"/><circle cx="321.31" cy="571.75" r="1.5"/><circle cx="314.83" cy="578.02" r="1.5"/><circle cx="312.44" cy="568.79" r="1.5"/><circle cx="305.76" cy="550.43" r="1.5"/><circle cx="328.32" cy="547.57" r="1.5"/><circle cx="318.21" cy="577.38" r="1.5"/><circle cx="326" cy="566.06" r="1.5"/><circle cx="309.34" cy="559.32" r="1.5"/><circle cx="304.85" cy="548.63" r="1.5"/><circle cx="326.47" cy="566.84" r="1.5"/><circle cx="316.22" cy="578.05" r="1.5"/><circle cx="303.84" cy="554.42" r="1.5"/><circle cx="316.83" cy="580.09" r="1.5"/><circle cx="323.45" cy="562.43" r="1.5"/><circle cx="320.38" cy="571.89" r="1.5"/><circle cx="332.38" cy="578.02" r="1.5"/><circle cx="324.96" cy="578.7" r="1.5"/><circle cx="299.1" cy="519.03" r="1.5"/><circle cx="313.7" cy="573.17" r="1.5"/><circle cx="319.92" cy="575.67" r="1.5"/><circle cx="319.89" cy="574.82" r="1.5"/><circle cx="295.19" cy="574.78" r="1.5"/><circle cx="339.43" cy="571.1" r="1.5"/><circle cx="338.76" cy="518.61" r="1.5"/><circle cx="309.02" cy="566.25" r="1.5"/><circle cx="317.11" cy="578.73" r="1.5"/><circle cx="312.84" cy="577.96" r="1.5"/><circle cx="321.8" cy="569.92" r="1.5"/><circle cx="303.95" cy="537.78" r="1.5"/><circle cx="312.61" cy="570.09" r="1.5"/><circle cx="306.09" cy="553.9" r="1.5"/><circle cx="318.17" cy="577.32" r="1.5"/><circle cx="324.08" cy="560.99" r="1.5"/><circle cx="308.79" cy="569.82" r="1.5"/><circle cx="293.77" cy="539.32" r="1.5"/><circle cx="302.71" cy="545.86" r="1.5"/><circle cx="307.95" cy="557.1" r="1.5"/><circle cx="308.11" cy="568.36" r="1.5"/><circle cx="305.03" cy="559.61" r="1.5"/><circle cx="308.15" cy="555.87" r="1.5"/><circle cx="333.47" cy="523.27" r="1.5"/><circle cx="317.79" cy="578.65" r="1.5"/><circle cx="297.34" cy="574.48" r="1.5"/><circle cx="326.36" cy="554.28" r="1.5"/><circle cx="338.44" cy="576.9" r="1.5"/><circle cx="322.92" cy="575.45" r="1.5"/><circle cx="313.2" cy="576.84" r="1.5"/><circle cx="293.17" cy="539.69" r="1.5"/><circle cx="302.02" cy="543.64" r="1.5"/><circle cx="294.84" cy="535.96" r="1.5"/><circle cx="323.18" cy="563.63" r="1.5"/><circle cx="301.08" cy="528.69" r="1.5"/><circle cx="319.23" cy="574.22" r="1.5"/><circle cx="335.48" cy="538.26" r="1.5"/><circle cx="311.49" cy="573.09" r="1.5"/><circle cx="309.76" cy="576.05" r="1.5"/><circle cx="310.38" cy="564.3" r="1.5"/><circle cx="309.24" cy="569.09" r="1.5"/><circle cx="306.45" cy="560.8" r="1.5"/><circle cx="316.88" cy="579.86" r="1.5"/><circle cx="310.75" cy="574.39" r="1.5"/><circle cx="310.9" cy="564.35" r="1.5"/><circle cx="315.97" cy="579.85" r="1.5"/><circle cx="333.36" cy="578.15" r="1.5"/><circle cx="311.13" cy="567.03" r="1.5"/><circle cx="315.96" cy="577.89" r="1.5"/><circle cx="331.78" cy="574.15" r="1.5"/><circle cx="322.5" cy="564.09" r="1.5"/><circle cx="314.26" cy="574.7" r="1.5"/><circle cx="320.61" cy="574.77" r="1.5"/><circle cx="331.46" cy="531.69" r="1.5"/><circle cx="312.41" cy="569.16" r="1.5"/><circle cx="308.31" cy="574.64" r="1.5"/><circle cx="311.95" cy="567.34" r="1.5"/><circle cx="317.12" cy="578.87" r="1.5"/><circle cx="314.65" cy="577.53" r="1.5"/><circle cx="333.09" cy="553.25" r="1.5"/><circle cx="313.82" cy="574.24" r="1.5"/><circle cx="345.94" cy="578.08" r="1.5"/><circle cx="340.06" cy="578.41" r="1.5"/><circle cx="289.71" cy="578.88" r="1.5"/><circle cx="344.43" cy="573.18" r="1.5"/><circle cx="344.5" cy="575.38" r="1.5"/><circle cx="295.25" cy="577.06" r="1.5"/><circle cx="288.64" cy="570.27" r="1.5"/><circle cx="338.35" cy="569.59" r="1.5"/><circle cx="287.68" cy="578.35" r="1.5"/><circle cx="291.13" cy="579.25" r="1.5"/><circle cx="340.82" cy="571.39" r="1.5"/><circle cx="339.21" cy="579.07" r="1.5"/><circle cx="341.7" cy="575.79" r="1.5"/><circle cx="346.3" cy="569.42" r="1.5"/><circle cx="294.71" cy="579.09" r="1.5"/><circle cx="337.79" cy="573.85" r="1.5"/><circle cx="292.82" cy="569.99" r="1.5"/><circle cx="292.19" cy="571.53" r="1.5"/><circle cx="293.11" cy="577.62" r="1.5"/><circle cx="338.22" cy="568.91" r="1.5"/><circle cx="344.4" cy="577.68" r="1.5"/><circle cx="339.24" cy="578.31" r="1.5"/><circle cx="292.57" cy="570.67" r="1.5"/><circle cx="288.33" cy="572.52" r="1.5"/><circle cx="287.36" cy="576.54" r="1.5"/><circle cx="296.19" cy="576.33" r="1.5"/><circle cx="295.88" cy="573.79" r="1.5"/><circle cx="296.19" cy="572.98" r="1.5"/><circle cx="289.63" cy="575.37" r="1.5"/><circle cx="295.69" cy="570.21" r="1.5"/><circle cx="344.14" cy="577.19" r="1.5"/><circle cx="341.97" cy="576.63" r="1.5"/><circle cx="346.13" cy="577.86" r="1.5"/><circle cx="292.76" cy="577.87" r="1.5"/><circle cx="342.88" cy="568.88" r="1.5"/><circle cx="288.03" cy="570.66" r="1.5"/><circle cx="342.3" cy="572.76" r="1.5"/><circle cx="342.14" cy="577.72" r="1.5"/><circle cx="342.69" cy="578.56" r="1.5"/><circle cx="291.57" cy="574.55" r="1.5"/></g>
<g fill="#EE6352"><circle cx="344.98" cy="550.91" r="1.6"/><circle cx="338.46" cy="565.29" r="1.6"/><circle cx="346.23" cy="545.12" r="1.6"/><circle cx="344.45" cy="557.49" r="1.6"/><circle cx="336.83" cy="535.22" r="1.6"/><circle cx="346.58" cy="554.52" r="1.6"/><circle cx="337.76" cy="534.56" r="1.6"/><circle cx="342.02" cy="541.38" r="1.6"/><circle cx="344.9" cy="557.69" r="1.6"/><circle cx="355.09" cy="561.87" r="1.6"/><circle cx="339.64" cy="563.76" r="1.6"/><circle cx="352.36" cy="563.48" r="1.6"/><circle cx="338.66" cy="545.23" r="1.6"/><circle cx="345.62" cy="557.13" r="1.6"/><circle cx="339.14" cy="557.85" r="1.6"/><circle cx="343.92" cy="545.78" r="1.6"/><circle cx="343.54" cy="550.46" r="1.6"/><circle cx="354.13" cy="559.5" r="1.6"/><circle cx="343.6" cy="544.62" r="1.6"/><circle cx="338.9" cy="551.48" r="1.6"/><circle cx="343.92" cy="564.69" r="1.6"/><circle cx="339.19" cy="546.22" r="1.6"/><circle cx="340.21" cy="555.14" r="1.6"/><circle cx="347.67" cy="556.95" r="1.6"/><circle cx="349.2" cy="556.21" r="1.6"/><circle cx="353.45" cy="560.41" r="1.6"/><circle cx="342.18" cy="550.49" r="1.6"/><circle cx="340.67" cy="561.26" r="1.6"/><circle cx="341.13" cy="554.22" r="1.6"/><circle cx="345.25" cy="549.21" r="1.6"/><circle cx="342.38" cy="561.14" r="1.6"/><circle cx="347.91" cy="558.62" r="1.6"/><circle cx="340.34" cy="554.08" r="1.6"/><circle cx="336.55" cy="540.94" r="1.6"/><circle cx="345.89" cy="563.46" r="1.6"/><circle cx="342.13" cy="558.46" r="1.6"/><circle cx="343.58" cy="557.16" r="1.6"/><circle cx="342.81" cy="556.05" r="1.6"/><circle cx="338.96" cy="564.32" r="1.6"/><circle cx="340.06" cy="556.83" r="1.6"/><circle cx="349.19" cy="550.81" r="1.6"/><circle cx="337.5" cy="531.43" r="1.6"/><circle cx="342.05" cy="536.14" r="1.6"/><circle cx="339.04" cy="542.97" r="1.6"/><circle cx="342.94" cy="562.35" r="1.6"/><circle cx="340.81" cy="537.61" r="1.6"/><circle cx="351.27" cy="555.98" r="1.6"/><circle cx="342.4" cy="562.84" r="1.6"/><circle cx="349.77" cy="553.6" r="1.6"/><circle cx="340.55" cy="550.58" r="1.6"/><circle cx="340.07" cy="543.8" r="1.6"/><circle cx="340.39" cy="535.21" r="1.6"/><circle cx="338.9" cy="559.77" r="1.6"/><circle cx="341.74" cy="547.85" r="1.6"/><circle cx="346.82" cy="546.46" r="1.6"/><circle cx="346.65" cy="564.41" r="1.6"/><circle cx="354.5" cy="565.24" r="1.6"/><circle cx="343.39" cy="560.86" r="1.6"/><circle cx="339.29" cy="555.55" r="1.6"/><circle cx="338.85" cy="541.8" r="1.6"/><circle cx="339.87" cy="542.76" r="1.6"/><circle cx="343.42" cy="561.19" r="1.6"/><circle cx="340.07" cy="551.76" r="1.6"/><circle cx="339.25" cy="552.37" r="1.6"/><circle cx="338.4" cy="554.31" r="1.6"/><circle cx="348.91" cy="561.76" r="1.6"/><circle cx="342.03" cy="562.46" r="1.6"/><circle cx="345.33" cy="547" r="1.6"/><circle cx="338.69" cy="541.12" r="1.6"/><circle cx="339.65" cy="539.16" r="1.6"/><circle cx="343.94" cy="560.49" r="1.6"/><circle cx="343.46" cy="547.87" r="1.6"/><circle cx="344.15" cy="541.55" r="1.6"/><circle cx="344.36" cy="556.28" r="1.6"/><circle cx="343.11" cy="562.91" r="1.6"/><circle cx="337.35" cy="537.46" r="1.6"/><circle cx="348.19" cy="551.49" r="1.6"/><circle cx="348.58" cy="562.73" r="1.6"/><circle cx="339.51" cy="542.28" r="1.6"/><circle cx="337.62" cy="565.51" r="1.6"/><circle cx="341.63" cy="538.55" r="1.6"/><circle cx="339.81" cy="547.24" r="1.6"/><circle cx="353.19" cy="560.4" r="1.6"/><circle cx="346.88" cy="556.13" r="1.6"/><circle cx="351.24" cy="555.21" r="1.6"/><circle cx="346.27" cy="546.14" r="1.6"/><circle cx="357.31" cy="565.63" r="1.6"/><circle cx="339.72" cy="554.04" r="1.6"/><circle cx="350.56" cy="564.29" r="1.6"/><circle cx="339.17" cy="563.2" r="1.6"/><circle cx="348.85" cy="554.59" r="1.6"/><circle cx="342.16" cy="550.18" r="1.6"/><circle cx="338.19" cy="533.99" r="1.6"/><circle cx="346.13" cy="555.06" r="1.6"/><circle cx="349.56" cy="553.71" r="1.6"/><circle cx="338.13" cy="561.54" r="1.6"/><circle cx="343.99" cy="561.46" r="1.6"/><circle cx="341.3" cy="558.1" r="1.6"/><circle cx="337.01" cy="556.28" r="1.6"/><circle cx="337.72" cy="547.35" r="1.6"/><circle cx="343.01" cy="542.24" r="1.6"/><circle cx="343" cy="540.1" r="1.6"/><circle cx="346.71" cy="549.61" r="1.6"/><circle cx="342.7" cy="564.48" r="1.6"/><circle cx="346.6" cy="544.26" r="1.6"/><circle cx="340.53" cy="535.7" r="1.6"/><circle cx="340.31" cy="556.37" r="1.6"/><circle cx="338.91" cy="565.66" r="1.6"/><circle cx="344.16" cy="553.63" r="1.6"/><circle cx="349.45" cy="561.94" r="1.6"/><circle cx="343.12" cy="559.71" r="1.6"/><circle cx="354.39" cy="563.67" r="1.6"/><circle cx="338.75" cy="552.79" r="1.6"/><circle cx="337.05" cy="532.68" r="1.6"/><circle cx="342.22" cy="546.21" r="1.6"/><circle cx="344.31" cy="545.62" r="1.6"/><circle cx="354.29" cy="565.24" r="1.6"/><circle cx="342.02" cy="553" r="1.6"/><circle cx="349.11" cy="557.58" r="1.6"/><circle cx="338.56" cy="533.6" r="1.6"/><circle cx="338.05" cy="541.44" r="1.6"/><circle cx="344.05" cy="560.85" r="1.6"/><circle cx="338.19" cy="530.87" r="1.6"/><circle cx="342.46" cy="547.69" r="1.6"/><circle cx="345.36" cy="546.27" r="1.6"/><circle cx="355.11" cy="565.02" r="1.6"/><circle cx="339.67" cy="533.53" r="1.6"/><circle cx="346.02" cy="559.39" r="1.6"/><circle cx="345.42" cy="545.13" r="1.6"/><circle cx="345.8" cy="565.78" r="1.6"/><circle cx="338.5" cy="540.86" r="1.6"/><circle cx="339.36" cy="556.92" r="1.6"/><circle cx="336.61" cy="539.42" r="1.6"/><circle cx="349.48" cy="553.09" r="1.6"/><circle cx="336.9" cy="550.74" r="1.6"/><circle cx="341.64" cy="545.25" r="1.6"/><circle cx="338.13" cy="541.51" r="1.6"/><circle cx="338.83" cy="558.06" r="1.6"/><circle cx="343.53" cy="554.8" r="1.6"/><circle cx="346.8" cy="560.19" r="1.6"/><circle cx="340.5" cy="562.32" r="1.6"/><circle cx="344.53" cy="561.38" r="1.6"/><circle cx="346.74" cy="549.3" r="1.6"/><circle cx="345.67" cy="559.35" r="1.6"/><circle cx="346.55" cy="546.59" r="1.6"/><circle cx="348.57" cy="554.35" r="1.6"/><circle cx="341.33" cy="543.76" r="1.6"/><circle cx="352.5" cy="557.19" r="1.6"/><circle cx="345.96" cy="543" r="1.6"/><circle cx="337.91" cy="555.14" r="1.6"/><circle cx="351.01" cy="565.83" r="1.6"/><circle cx="338.05" cy="564.6" r="1.6"/><circle cx="345.85" cy="564.94" r="1.6"/><circle cx="340.88" cy="535.84" r="1.6"/><circle cx="344.25" cy="544.13" r="1.6"/><circle cx="348.24" cy="556.65" r="1.6"/><circle cx="353.4" cy="565.74" r="1.6"/><circle cx="341.91" cy="554.63" r="1.6"/><circle cx="337.29" cy="555.39" r="1.6"/><circle cx="338.86" cy="538.54" r="1.6"/><circle cx="344.96" cy="547.49" r="1.6"/><circle cx="345.63" cy="550.5" r="1.6"/><circle cx="351.67" cy="560.92" r="1.6"/><circle cx="337.26" cy="536.73" r="1.6"/><circle cx="343.28" cy="556.51" r="1.6"/><circle cx="336.93" cy="553.94" r="1.6"/><circle cx="344.06" cy="563.51" r="1.6"/><circle cx="354.16" cy="565.74" r="1.6"/><circle cx="345.55" cy="561.97" r="1.6"/><circle cx="339.12" cy="565.41" r="1.6"/><circle cx="338.51" cy="536.32" r="1.6"/><circle cx="341.58" cy="535.81" r="1.6"/><circle cx="339.11" cy="554.48" r="1.6"/><circle cx="336.54" cy="531.39" r="1.6"/><circle cx="338.28" cy="539.54" r="1.6"/><circle cx="341.4" cy="554.49" r="1.6"/><circle cx="337.81" cy="550.62" r="1.6"/><circle cx="339.28" cy="530.88" r="1.6"/><circle cx="343.79" cy="551.38" r="1.6"/><circle cx="348.92" cy="551.56" r="1.6"/><circle cx="348.79" cy="563.19" r="1.6"/><circle cx="338.6" cy="554.96" r="1.6"/><circle cx="339.17" cy="564.17" r="1.6"/><circle cx="349.84" cy="558.66" r="1.6"/><circle cx="349.92" cy="557.9" r="1.6"/><circle cx="348.74" cy="552.03" r="1.6"/><circle cx="342.33" cy="560.67" r="1.6"/><circle cx="342.22" cy="548.01" r="1.6"/><circle cx="337.78" cy="555.28" r="1.6"/><circle cx="348.2" cy="548.98" r="1.6"/><circle cx="336.51" cy="531.48" r="1.6"/><circle cx="353.67" cy="561.44" r="1.6"/><circle cx="338.92" cy="558.08" r="1.6"/><circle cx="350.76" cy="561.29" r="1.6"/><circle cx="336.93" cy="548.54" r="1.6"/><circle cx="336.63" cy="556.8" r="1.6"/><circle cx="344.78" cy="558.68" r="1.6"/><circle cx="336.55" cy="556.76" r="1.6"/><circle cx="341.78" cy="554.51" r="1.6"/><circle cx="345.48" cy="553.26" r="1.6"/><circle cx="343.52" cy="565.21" r="1.6"/><circle cx="347.18" cy="565.78" r="1.6"/><circle cx="346.41" cy="558.68" r="1.6"/><circle cx="339.15" cy="548.3" r="1.6"/><circle cx="348.66" cy="561.77" r="1.6"/><circle cx="343.42" cy="544.19" r="1.6"/><circle cx="349.94" cy="552.62" r="1.6"/><circle cx="337.99" cy="565.32" r="1.6"/><circle cx="356.11" cy="563.22" r="1.6"/><circle cx="353.17" cy="559.85" r="1.6"/><circle cx="344" cy="558.85" r="1.6"/><circle cx="341.56" cy="552.49" r="1.6"/><circle cx="338.67" cy="537.93" r="1.6"/><circle cx="340.49" cy="561.11" r="1.6"/><circle cx="342.52" cy="543.42" r="1.6"/><circle cx="341.05" cy="547.12" r="1.6"/><circle cx="340.17" cy="557.4" r="1.6"/><circle cx="339.68" cy="563.18" r="1.6"/><circle cx="350.72" cy="562.81" r="1.6"/><circle cx="341.25" cy="545.12" r="1.6"/><circle cx="347.98" cy="564.95" r="1.6"/><circle cx="338.54" cy="546.02" r="1.6"/><circle cx="349.53" cy="563.06" r="1.6"/><circle cx="353.25" cy="557.45" r="1.6"/><circle cx="345.07" cy="551.03" r="1.6"/><circle cx="341.19" cy="545.93" r="1.6"/><circle cx="346.02" cy="557.77" r="1.6"/><circle cx="353.43" cy="558.12" r="1.6"/><circle cx="342.22" cy="542.4" r="1.6"/><circle cx="346.19" cy="553.34" r="1.6"/><circle cx="337.06" cy="549.39" r="1.6"/><circle cx="348.04" cy="555.07" r="1.6"/><circle cx="338.78" cy="548.9" r="1.6"/><circle cx="338.03" cy="559.86" r="1.6"/><circle cx="346.12" cy="553.67" r="1.6"/><circle cx="347.34" cy="547.28" r="1.6"/><circle cx="344.92" cy="561.2" r="1.6"/><circle cx="336.9" cy="546.25" r="1.6"/><circle cx="344.12" cy="554.68" r="1.6"/><circle cx="353.75" cy="565.7" r="1.6"/><circle cx="339.38" cy="558.65" r="1.6"/><circle cx="344.49" cy="551.87" r="1.6"/><circle cx="346.02" cy="545.69" r="1.6"/><circle cx="343.75" cy="564.62" r="1.6"/><circle cx="349.11" cy="563.55" r="1.6"/><circle cx="350.43" cy="555.93" r="1.6"/><circle cx="341.32" cy="556.38" r="1.6"/><circle cx="339" cy="558.5" r="1.6"/><circle cx="353.74" cy="563.25" r="1.6"/><circle cx="339.04" cy="534.66" r="1.6"/><circle cx="346.86" cy="556.84" r="1.6"/><circle cx="339.77" cy="548.46" r="1.6"/><circle cx="337.58" cy="560.13" r="1.6"/><circle cx="355.2" cy="560.59" r="1.6"/><circle cx="346.91" cy="549.44" r="1.6"/><circle cx="338.84" cy="556.64" r="1.6"/><circle cx="349.39" cy="564.12" r="1.6"/><circle cx="341.7" cy="561.08" r="1.6"/><circle cx="346.47" cy="549.39" r="1.6"/><circle cx="339.55" cy="540.69" r="1.6"/><circle cx="342.41" cy="512.68" r="1.6"/><circle cx="345.37" cy="519.47" r="1.6"/><circle cx="347.34" cy="530.23" r="1.6"/><circle cx="348.32" cy="532.49" r="1.6"/><circle cx="345.37" cy="528.53" r="1.6"/><circle cx="340.44" cy="534.19" r="1.6"/><circle cx="337.49" cy="536.45" r="1.6"/><circle cx="354.23" cy="542.11" r="1.6"/><circle cx="356.2" cy="543.24" r="1.6"/><circle cx="350.29" cy="538.72" r="1.6"/></g>
<g fill="#3A93C3"><circle cx="291.1" cy="520" r="1.6"/><circle cx="295.8" cy="525.7" r="1.6"/><circle cx="295.4" cy="527.2" r="1.6"/><circle cx="293.3" cy="534.8" r="1.6"/><circle cx="295.8" cy="546.2" r="1.6"/><circle cx="294.1" cy="558.5" r="1.6"/><circle cx="291.1" cy="563.8" r="1.6"/><circle cx="293.7" cy="563.8" r="1.6"/><circle cx="293.7" cy="505.6" r="1.6"/><circle cx="296.5" cy="524.5" r="1.6"/><circle cx="296.8" cy="546.2" r="1.6"/></g>
<path d="M297.2 469.4 V584.7 M336.4 469.4 V584.7 M247.3 565.7 H386.9" stroke="#333" stroke-width="0.9" stroke-dasharray="3 1.8"/>
<path d="M349.5 557 L346 561 M282 531 L284 528" stroke="#333" stroke-width="0.4"/>
<circle cx="256.1" cy="474.3" r="2.8" fill="#58ADD5" stroke="#111" stroke-width="0.9"/>
<circle cx="348.0" cy="475.2" r="2.8" fill="#F27A6A" stroke="#111" stroke-width="0.9"/>
<circle cx="287.6" cy="509.4" r="2.8" fill="#58ADD5" stroke="#111" stroke-width="0.9"/>
<circle cx="284.1" cy="527.2" r="2.8" fill="#58ADD5" stroke="#111" stroke-width="0.9"/>
<circle cx="265.7" cy="557.0" r="2.8" fill="#58ADD5" stroke="#111" stroke-width="0.9"/>
<circle cx="351.7" cy="543.2" r="2.8" fill="#F27A6A" stroke="#111" stroke-width="0.9"/>
<circle cx="362.4" cy="545.7" r="2.8" fill="#F27A6A" stroke="#111" stroke-width="0.9"/>
<circle cx="353.6" cy="553.9" r="2.8" fill="#F27A6A" stroke="#111" stroke-width="0.9"/>
<text x="259.9" y="476.65" font-size="6.7" fill="#222">miR-4279</text>
<text x="350.4" y="477.55" font-size="6.7" fill="#222">miR-6134</text>
<text x="276.5" y="505.85" font-size="6.7" fill="#222">miR-6803-5p</text>
<text x="262.8" y="535.95" font-size="6.7" fill="#222">miR-4321</text>
<text x="250.2" y="565.15" font-size="6.7" fill="#222">miR-640</text>
<text x="326.1" y="539.75" font-size="6.7" fill="#222">miR-148a-5p</text>
<text x="346" y="554.05" font-size="6.7" fill="#222">miR-7155-5p</text>
<text x="332" y="563.75" font-size="6.7" fill="#222">miR-3170</text>
<rect x="247.3" y="469.4" width="139.6" height="115.3" fill="none" stroke="#222" stroke-width="1"/>
<path d="M245.7 495.7 H247.3" stroke="#333" stroke-width="0.6"/>
<text x="245.1" y="497.5" font-size="5" text-anchor="end" fill="#333">7.5</text>
<path d="M245.7 524 H247.3" stroke="#333" stroke-width="0.6"/>
<text x="245.1" y="525.8" font-size="5" text-anchor="end" fill="#333">5.0</text>
<path d="M245.7 552.3 H247.3" stroke="#333" stroke-width="0.6"/>
<text x="245.1" y="554.1" font-size="5" text-anchor="end" fill="#333">2.5</text>
<path d="M245.7 580.6 H247.3" stroke="#333" stroke-width="0.6"/>
<text x="245.1" y="582.4" font-size="5" text-anchor="end" fill="#333">0.0</text>
<path d="M277.4 584.7 V586.3" stroke="#333" stroke-width="0.6"/>
<text x="277.4" y="590.55" font-size="5" text-anchor="middle" fill="#333">−2</text>
<path d="M316.8 584.7 V586.3" stroke="#333" stroke-width="0.6"/>
<text x="316.8" y="590.55" font-size="5" text-anchor="middle" fill="#333">0</text>
<path d="M356.2 584.7 V586.3" stroke="#333" stroke-width="0.6"/>
<text x="356.2" y="590.55" font-size="5" text-anchor="middle" fill="#333">2</text>
<text x="317.8" y="601.2" font-size="7.3" text-anchor="middle" fill="#222">Log<tspan font-size="4.8" dy="1.5">2</tspan><tspan dy="-1.5"> (Fold change)</tspan></text>
<text transform="translate(231.8 524.8) rotate(-90)" font-size="7.0" text-anchor="middle" fill="#222">−Log<tspan font-size="4.6" dy="1.4">10</tspan><tspan dy="-1.4"> FDR</tspan></text>
<circle cx="275.9" cy="617.4" r="3" fill="#3A93C3"/>
<circle cx="311.8" cy="617.4" r="3" fill="#DCDCDC"/>
<circle cx="348.9" cy="617.4" r="3" fill="#EE6352"/>
<text x="283.8" y="620.1" font-size="7.4" fill="#222">Down</text>
<text x="319.1" y="620.1" font-size="7.7" fill="#222">NoSig</text>
<text x="356.2" y="620.1" font-size="7.6" fill="#222">Up</text>
<text transform="translate(455 489.6) scale(0.884 1)" font-size="21" font-weight="bold" fill="#000">l</text>
<rect x="539.1" y="473.5" width="58.1" height="5.2" fill="#EE6352"/>
<text x="537.4" y="477.6" font-size="4.3" text-anchor="end" fill="#222">Regulation of actin cytoskeleton</text>
<rect x="539.1" y="481.1" width="58.1" height="5.2" fill="#EE6352"/>
<text x="537.4" y="485.2" font-size="4.3" text-anchor="end" fill="#222">FoxO signaling pathway</text>
<rect x="539.1" y="488.7" width="58.1" height="5.2" fill="#EE6352"/>
<text x="537.4" y="492.8" font-size="4.3" text-anchor="end" fill="#222">MAPK signaling pathway</text>
<rect x="539.1" y="496.3" width="58.1" height="5.2" fill="#EE6352"/>
<text x="537.4" y="500.4" font-size="4.3" text-anchor="end" fill="#222">Polycomb repressive complex</text>
<rect x="539.1" y="503.9" width="56.9" height="5.2" fill="#EE6352"/>
<text x="537.4" y="508" font-size="4.3" text-anchor="end" fill="#222">ErbB signaling pathway</text>
<rect x="539.1" y="511.4" width="55.5" height="5.2" fill="#EE6352"/>
<text x="537.4" y="515.5" font-size="4.3" text-anchor="end" fill="#222">Endocytosis</text>
<rect x="539.1" y="519" width="54.3" height="5.2" fill="#EE6352"/>
<text x="537.4" y="523.1" font-size="4.3" text-anchor="end" fill="#222">Hippo signaling pathway</text>
<rect x="539.1" y="526.6" width="53.5" height="5.2" fill="#EE6352"/>
<text x="537.4" y="530.7" font-size="4.3" text-anchor="end" fill="#222">Focal adhesion</text>
<rect x="539.1" y="534.2" width="52.6" height="5.2" fill="#EE6352"/>
<text x="537.4" y="538.3" font-size="4.3" text-anchor="end" fill="#222">Viral carcinogenesis</text>
<rect x="539.1" y="541.8" width="52.6" height="5.2" fill="#EE6352"/>
<text x="537.4" y="545.9" font-size="4.3" text-anchor="end" fill="#222">Cellular senescence</text>
<rect x="495.3" y="550" width="43.8" height="5.2" fill="#3A8DB5"/>
<text x="540.6" y="554.1" font-size="4.3" fill="#222">Neurotrophin signaling pathway</text>
<rect x="494.2" y="557.5" width="44.9" height="5.2" fill="#3A8DB5"/>
<text x="540.6" y="561.6" font-size="4.3" fill="#222">Insulin signaling pathway</text>
<rect x="494.2" y="565.1" width="44.9" height="5.2" fill="#3A8DB5"/>
<text x="540.6" y="569.2" font-size="4.3" fill="#222">PI3K-Akt signaling pathway</text>
<rect x="492.7" y="572.7" width="46.4" height="5.2" fill="#3A8DB5"/>
<text x="540.6" y="576.8" font-size="4.3" fill="#222">Shigellosis</text>
<rect x="492.7" y="580.3" width="46.4" height="5.2" fill="#3A8DB5"/>
<text x="540.6" y="584.4" font-size="4.3" fill="#222">Cell cycle</text>
<rect x="481.3" y="587.9" width="57.8" height="5.2" fill="#3A8DB5"/>
<text x="540.6" y="592" font-size="4.3" fill="#222">Endocrine resistance</text>
<path d="M472 594.9 H606" stroke="#444" stroke-width="0.8"/>
<path d="M474.9 594.9 v1.2" stroke="#444" stroke-width="0.5"/>
<text x="474.9" y="600.3" font-size="3.8" text-anchor="middle" fill="#333">3</text>
<path d="M496.5 594.9 v1.2" stroke="#444" stroke-width="0.5"/>
<text x="496.5" y="600.3" font-size="3.8" text-anchor="middle" fill="#333">2</text>
<path d="M518.1 594.9 v1.2" stroke="#444" stroke-width="0.5"/>
<text x="518.1" y="600.3" font-size="3.8" text-anchor="middle" fill="#333">1</text>
<path d="M539.1 594.9 v1.2" stroke="#444" stroke-width="0.5"/>
<text x="539.1" y="600.3" font-size="3.8" text-anchor="middle" fill="#333">0</text>
<path d="M560.7 594.9 v1.2" stroke="#444" stroke-width="0.5"/>
<text x="560.7" y="600.3" font-size="3.8" text-anchor="middle" fill="#333">1</text>
<path d="M582.0 594.9 v1.2" stroke="#444" stroke-width="0.5"/>
<text x="582" y="600.3" font-size="3.8" text-anchor="middle" fill="#333">2</text>
<path d="M603.4 594.9 v1.2" stroke="#444" stroke-width="0.5"/>
<text x="603.4" y="600.3" font-size="3.8" text-anchor="middle" fill="#333">3</text>
<text x="537.5" y="604.6" font-size="5.6" text-anchor="middle" fill="#222">−Log<tspan font-size="3.6" dy="1.1">10</tspan><tspan dy="-1.1"> FDR</tspan></text>
<rect x="477" y="614.5" width="6.6" height="5.8" fill="#EE6352"/><rect x="538.2" y="614.5" width="6.8" height="5.8" fill="#3A8DB5"/>
<text x="486.6" y="619.4" font-size="5.55" fill="#222">Up-miRNA targeted</text>
<text x="547.6" y="619.4" font-size="5.7" fill="#222">Down-miRNA targeted</text>
</svg></body></html>
